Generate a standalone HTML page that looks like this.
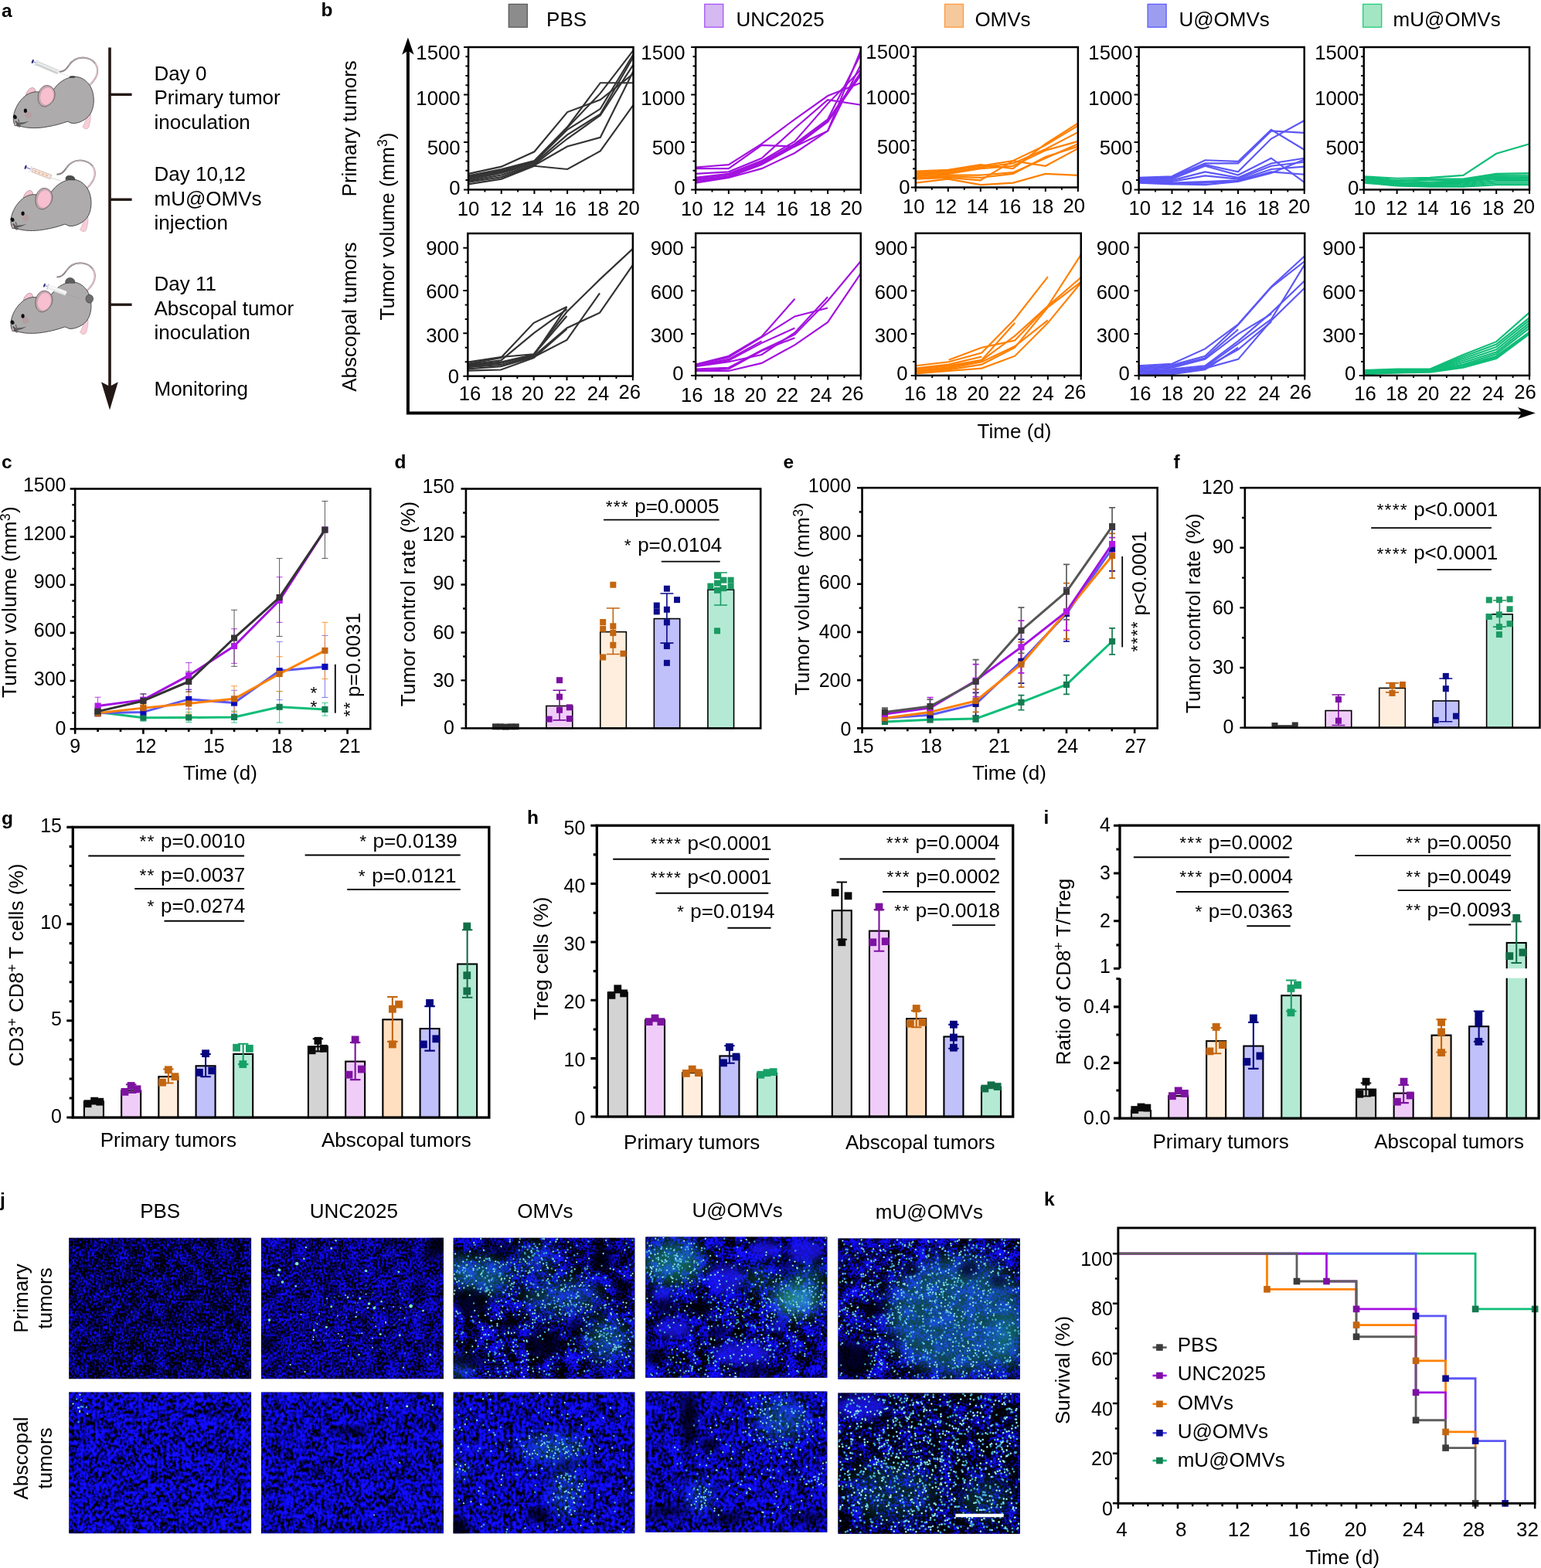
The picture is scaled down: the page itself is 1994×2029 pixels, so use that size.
<!DOCTYPE html>
<html lang="en"><head><meta charset="utf-8"><title>Figure</title>
<style>html,body{margin:0;padding:0;background:#fff}body{width:1994px;height:2029px;overflow:hidden}svg{display:block}text{font-family:"Liberation Sans",sans-serif}</style>
</head><body>
<svg width="1994" height="2029" viewBox="0 0 1994 2029">
<rect width="1994" height="2029" fill="#fff"/>
<defs>
<filter id="blr" x="-40%" y="-40%" width="180%" height="180%"><feGaussianBlur stdDeviation="5"/></filter>
<filter id="blr2" x="-50%" y="-50%" width="200%" height="200%"><feGaussianBlur stdDeviation="11"/></filter>
<filter id="blr0" x="-5%" y="-5%" width="110%" height="110%"><feGaussianBlur stdDeviation="0.55"/></filter>
<filter id="fb00" x="0" y="0" width="100%" height="100%" color-interpolation-filters="sRGB"><feTurbulence type="fractalNoise" baseFrequency="0.36 0.3" numOctaves="2" seed="3" result="a"/><feColorMatrix in="a" type="matrix" values="1 0 0 0 0 0 1 0 0 0 0 0 1 0 0 0 0 0 0 1" result="a1"/><feTurbulence type="fractalNoise" baseFrequency="0.06" numOctaves="2" seed="10" result="b"/><feColorMatrix in="b" type="matrix" values="1 0 0 0 0 0 1 0 0 0 0 0 1 0 0 0 0 0 0 1" result="b1"/><feComposite in="a1" in2="b1" operator="arithmetic" k1="0" k2="1" k3="0.4" k4="-0.2" result="c"/><feColorMatrix in="c" type="matrix" values="0.17 0 0 0 -0.07 0.1 0 0 0 -0.04 2.72 0 0 0 -1.03 0 0 0 0 1"/><feGaussianBlur stdDeviation="0.55"/><feComponentTransfer><feFuncA type="linear" slope="0" intercept="1"/></feComponentTransfer></filter>
<clipPath id="cp00"><rect x="89.3" y="1601.7" width="235.8" height="182.5"/></clipPath>
<filter id="fb01" x="0" y="0" width="100%" height="100%" color-interpolation-filters="sRGB"><feTurbulence type="fractalNoise" baseFrequency="0.25 0.2" numOctaves="2" seed="11" result="a"/><feColorMatrix in="a" type="matrix" values="1 0 0 0 0 0 1 0 0 0 0 0 1 0 0 0 0 0 0 1" result="a1"/><feTurbulence type="fractalNoise" baseFrequency="0.06" numOctaves="2" seed="18" result="b"/><feColorMatrix in="b" type="matrix" values="1 0 0 0 0 0 1 0 0 0 0 0 1 0 0 0 0 0 0 1" result="b1"/><feComposite in="a1" in2="b1" operator="arithmetic" k1="0" k2="1" k3="0.38" k4="-0.19" result="c"/><feColorMatrix in="c" type="matrix" values="0.19 0 0 0 -0.06 0.11 0 0 0 -0.03 3.1 0 0 0 -0.89 0 0 0 0 1"/><feGaussianBlur stdDeviation="0.55"/><feComponentTransfer><feFuncA type="linear" slope="0" intercept="1"/></feComponentTransfer></filter>
<clipPath id="cp01"><rect x="89.3" y="1801.5" width="235.8" height="182.7"/></clipPath>
<filter id="fb10" x="0" y="0" width="100%" height="100%" color-interpolation-filters="sRGB"><feTurbulence type="fractalNoise" baseFrequency="0.36 0.3" numOctaves="2" seed="5" result="a"/><feColorMatrix in="a" type="matrix" values="1 0 0 0 0 0 1 0 0 0 0 0 1 0 0 0 0 0 0 1" result="a1"/><feTurbulence type="fractalNoise" baseFrequency="0.06" numOctaves="2" seed="12" result="b"/><feColorMatrix in="b" type="matrix" values="1 0 0 0 0 0 1 0 0 0 0 0 1 0 0 0 0 0 0 1" result="b1"/><feComposite in="a1" in2="b1" operator="arithmetic" k1="0" k2="1" k3="0.4" k4="-0.2" result="c"/><feColorMatrix in="c" type="matrix" values="0.16 0 0 0 -0.05 0.09 0 0 0 -0.03 2.62 0 0 0 -0.84 0 0 0 0 1"/><feGaussianBlur stdDeviation="0.55"/><feComponentTransfer><feFuncA type="linear" slope="0" intercept="1"/></feComponentTransfer></filter>
<clipPath id="cp10"><rect x="337.9" y="1601.7" width="236" height="182.5"/></clipPath>
<filter id="fb11" x="0" y="0" width="100%" height="100%" color-interpolation-filters="sRGB"><feTurbulence type="fractalNoise" baseFrequency="0.25 0.2" numOctaves="2" seed="13" result="a"/><feColorMatrix in="a" type="matrix" values="1 0 0 0 0 0 1 0 0 0 0 0 1 0 0 0 0 0 0 1" result="a1"/><feTurbulence type="fractalNoise" baseFrequency="0.06" numOctaves="2" seed="20" result="b"/><feColorMatrix in="b" type="matrix" values="1 0 0 0 0 0 1 0 0 0 0 0 1 0 0 0 0 0 0 1" result="b1"/><feComposite in="a1" in2="b1" operator="arithmetic" k1="0" k2="1" k3="0.38" k4="-0.19" result="c"/><feColorMatrix in="c" type="matrix" values="0.19 0 0 0 -0.06 0.11 0 0 0 -0.03 3.1 0 0 0 -0.89 0 0 0 0 1"/><feGaussianBlur stdDeviation="0.55"/><feComponentTransfer><feFuncA type="linear" slope="0" intercept="1"/></feComponentTransfer></filter>
<clipPath id="cp11"><rect x="337.9" y="1801.5" width="236" height="182.7"/></clipPath>
<filter id="fb20" x="0" y="0" width="100%" height="100%" color-interpolation-filters="sRGB"><feTurbulence type="fractalNoise" baseFrequency="0.4 0.34" numOctaves="2" seed="7" result="a"/><feColorMatrix in="a" type="matrix" values="1 0 0 0 0 0 1 0 0 0 0 0 1 0 0 0 0 0 0 1" result="a1"/><feTurbulence type="fractalNoise" baseFrequency="0.06" numOctaves="2" seed="14" result="b"/><feColorMatrix in="b" type="matrix" values="1 0 0 0 0 0 1 0 0 0 0 0 1 0 0 0 0 0 0 1" result="b1"/><feComposite in="a1" in2="b1" operator="arithmetic" k1="0" k2="1" k3="0.9" k4="-0.45" result="c"/><feColorMatrix in="c" type="matrix" values="0.19 0 0 0 -0.07 0.11 0 0 0 -0.04 3.1 0 0 0 -1.14 0 0 0 0 1"/><feGaussianBlur stdDeviation="0.55"/><feComponentTransfer><feFuncA type="linear" slope="0" intercept="1"/></feComponentTransfer></filter>
<clipPath id="cp20"><rect x="586.6" y="1601.7" width="234.8" height="182.5"/></clipPath>
<filter id="fb21" x="0" y="0" width="100%" height="100%" color-interpolation-filters="sRGB"><feTurbulence type="fractalNoise" baseFrequency="0.25 0.2" numOctaves="2" seed="17" result="a"/><feColorMatrix in="a" type="matrix" values="1 0 0 0 0 0 1 0 0 0 0 0 1 0 0 0 0 0 0 1" result="a1"/><feTurbulence type="fractalNoise" baseFrequency="0.06" numOctaves="2" seed="24" result="b"/><feColorMatrix in="b" type="matrix" values="1 0 0 0 0 0 1 0 0 0 0 0 1 0 0 0 0 0 0 1" result="b1"/><feComposite in="a1" in2="b1" operator="arithmetic" k1="0" k2="1" k3="0.38" k4="-0.19" result="c"/><feColorMatrix in="c" type="matrix" values="0.19 0 0 0 -0.06 0.11 0 0 0 -0.03 3.1 0 0 0 -0.89 0 0 0 0 1"/><feGaussianBlur stdDeviation="0.55"/><feComponentTransfer><feFuncA type="linear" slope="0" intercept="1"/></feComponentTransfer></filter>
<clipPath id="cp21"><rect x="586.6" y="1801.5" width="234.8" height="182.7"/></clipPath>
<filter id="fb30" x="0" y="0" width="100%" height="100%" color-interpolation-filters="sRGB"><feTurbulence type="fractalNoise" baseFrequency="0.35 0.3" numOctaves="2" seed="9" result="a"/><feColorMatrix in="a" type="matrix" values="1 0 0 0 0 0 1 0 0 0 0 0 1 0 0 0 0 0 0 1" result="a1"/><feTurbulence type="fractalNoise" baseFrequency="0.06" numOctaves="2" seed="16" result="b"/><feColorMatrix in="b" type="matrix" values="1 0 0 0 0 0 1 0 0 0 0 0 1 0 0 0 0 0 0 1" result="b1"/><feComposite in="a1" in2="b1" operator="arithmetic" k1="0" k2="1" k3="0.9" k4="-0.45" result="c"/><feColorMatrix in="c" type="matrix" values="0.19 0 0 0 -0.07 0.11 0 0 0 -0.04 3.1 0 0 0 -1.11 0 0 0 0 1"/><feGaussianBlur stdDeviation="0.55"/><feComponentTransfer><feFuncA type="linear" slope="0" intercept="1"/></feComponentTransfer></filter>
<clipPath id="cp30"><rect x="835.3" y="1600.5" width="235.1" height="182.3"/></clipPath>
<filter id="fb31" x="0" y="0" width="100%" height="100%" color-interpolation-filters="sRGB"><feTurbulence type="fractalNoise" baseFrequency="0.25 0.2" numOctaves="2" seed="19" result="a"/><feColorMatrix in="a" type="matrix" values="1 0 0 0 0 0 1 0 0 0 0 0 1 0 0 0 0 0 0 1" result="a1"/><feTurbulence type="fractalNoise" baseFrequency="0.06" numOctaves="2" seed="26" result="b"/><feColorMatrix in="b" type="matrix" values="1 0 0 0 0 0 1 0 0 0 0 0 1 0 0 0 0 0 0 1" result="b1"/><feComposite in="a1" in2="b1" operator="arithmetic" k1="0" k2="1" k3="0.38" k4="-0.19" result="c"/><feColorMatrix in="c" type="matrix" values="0.19 0 0 0 -0.06 0.11 0 0 0 -0.03 3.1 0 0 0 -0.92 0 0 0 0 1"/><feGaussianBlur stdDeviation="0.55"/><feComponentTransfer><feFuncA type="linear" slope="0" intercept="1"/></feComponentTransfer></filter>
<clipPath id="cp31"><rect x="835.3" y="1800.4" width="235.1" height="182.3"/></clipPath>
<filter id="fb40" x="0" y="0" width="100%" height="100%" color-interpolation-filters="sRGB"><feTurbulence type="fractalNoise" baseFrequency="0.4 0.34" numOctaves="2" seed="21" result="a"/><feColorMatrix in="a" type="matrix" values="1 0 0 0 0 0 1 0 0 0 0 0 1 0 0 0 0 0 0 1" result="a1"/><feTurbulence type="fractalNoise" baseFrequency="0.06" numOctaves="2" seed="28" result="b"/><feColorMatrix in="b" type="matrix" values="1 0 0 0 0 0 1 0 0 0 0 0 1 0 0 0 0 0 0 1" result="b1"/><feComposite in="a1" in2="b1" operator="arithmetic" k1="0" k2="1" k3="0.8" k4="-0.4" result="c"/><feColorMatrix in="c" type="matrix" values="0.18 0 0 0 -0.06 0.11 0 0 0 -0.04 2.91 0 0 0 -1.01 0 0 0 0 1"/><feGaussianBlur stdDeviation="0.55"/><feComponentTransfer><feFuncA type="linear" slope="0" intercept="1"/></feComponentTransfer></filter>
<clipPath id="cp40"><rect x="1084.4" y="1602.5" width="235.5" height="182.3"/></clipPath>
<filter id="fb41" x="0" y="0" width="100%" height="100%" color-interpolation-filters="sRGB"><feTurbulence type="fractalNoise" baseFrequency="0.35 0.3" numOctaves="2" seed="23" result="a"/><feColorMatrix in="a" type="matrix" values="1 0 0 0 0 0 1 0 0 0 0 0 1 0 0 0 0 0 0 1" result="a1"/><feTurbulence type="fractalNoise" baseFrequency="0.06" numOctaves="2" seed="30" result="b"/><feColorMatrix in="b" type="matrix" values="1 0 0 0 0 0 1 0 0 0 0 0 1 0 0 0 0 0 0 1" result="b1"/><feComposite in="a1" in2="b1" operator="arithmetic" k1="0" k2="1" k3="0.8" k4="-0.4" result="c"/><feColorMatrix in="c" type="matrix" values="0.18 0 0 0 -0.08 0.11 0 0 0 -0.05 2.91 0 0 0 -1.24 0 0 0 0 1"/><feGaussianBlur stdDeviation="0.55"/><feComponentTransfer><feFuncA type="linear" slope="0" intercept="1"/></feComponentTransfer></filter>
<clipPath id="cp41"><rect x="1084.4" y="1802.4" width="235.5" height="182.3"/></clipPath>
</defs>
<g id="panel-a">
<text x="2" y="22" font-size="24.5" text-anchor="start" font-weight="bold" fill="#000" >a</text>
<path d="M142 61.5V503" stroke="#231815" stroke-width="3.6" fill="none"/>
<path d="M142 530.6 L131 494.2 L142 500 L152.8 494.2 Z" fill="#231815"/>
<line x1="142" y1="122.3" x2="170.6" y2="122.3" stroke="#231815" stroke-width="3.4" />
<line x1="142" y1="258.2" x2="170.6" y2="258.2" stroke="#231815" stroke-width="3.4" />
<line x1="142" y1="394.2" x2="170.6" y2="394.2" stroke="#231815" stroke-width="3.4" />
<text x="199.5" y="103.5" font-size="26" text-anchor="start" fill="#000" >Day 0</text>
<text x="199.5" y="135" font-size="26" text-anchor="start" fill="#000" >Primary tumor</text>
<text x="199.5" y="166.5" font-size="26" text-anchor="start" fill="#000" >inoculation</text>
<text x="199.5" y="234" font-size="26" text-anchor="start" fill="#000" >Day 10,12</text>
<text x="199.5" y="265.8" font-size="26" text-anchor="start" fill="#000" >mU@OMVs</text>
<text x="199.5" y="297" font-size="26" text-anchor="start" fill="#000" >injection</text>
<text x="199.5" y="376" font-size="26" text-anchor="start" fill="#000" >Day 11</text>
<text x="199.5" y="407.6" font-size="26" text-anchor="start" fill="#000" >Abscopal tumor</text>
<text x="199.5" y="439" font-size="26" text-anchor="start" fill="#000" >inoculation</text>
<text x="199.5" y="511.5" font-size="26" text-anchor="start" fill="#000" >Monitoring</text>
<g transform="translate(0 50) scale(0.09454)">
<path d="M1225 640 C1290 580 1335 520 1335 440 C1335 350 1270 275 1160 262 C1060 252 990 290 940 370 C905 425 870 452 820 452" fill="none" stroke="#8d8486" stroke-width="22" stroke-linecap="round"/>
<path d="M1225 640 C1290 580 1335 520 1335 440 C1335 400 1320 360 1300 335" fill="none" stroke="#f3c9d3" stroke-width="12"/>
<path d="M1300 335 C1270 290 1220 268 1160 262 C1060 252 990 290 940 370" fill="none" stroke="#e6d3d7" stroke-width="6"/>
<path d="M1185 1040 C1175 1100 1170 1150 1130 1205 C1150 1240 1195 1245 1215 1215 C1230 1150 1245 1100 1240 1040 Z" fill="#f7cdd8" stroke="#c9a0ab" stroke-width="6"/>
<path d="M355 770 C370 710 410 670 450 672 C480 680 490 715 485 745 Z" fill="#f4c4d0" stroke="#a08087" stroke-width="7"/>
<path d="M185 1060 C200 960 260 850 350 780 C400 745 460 722 520 730 C600 722 680 705 740 690 C800 600 900 530 1020 520 C1130 520 1230 600 1265 720 C1295 820 1290 950 1230 1040 C1180 1110 1080 1160 1000 1160 C960 1160 940 1130 920 1135 C850 1160 750 1190 650 1205 C550 1225 420 1230 330 1210 C280 1200 230 1195 200 1180 C185 1150 180 1100 185 1060 Z" fill="#adabab" stroke="#454545" stroke-width="10" stroke-linejoin="round"/>
<path d="M520 800 C520 720 570 650 630 640 C700 635 750 690 752 760 C752 840 700 900 640 925 C600 940 560 920 540 890 C525 865 520 835 520 800 Z" fill="#c2a8ae" stroke="#5a4f52" stroke-width="8"/>
<path d="M550 810 C550 740 595 675 650 670 C705 670 735 720 732 780 C727 845 685 890 632 908 C588 912 552 865 550 810 Z" fill="#f8bfd0"/>
<ellipse cx="385" cy="1045" rx="45" ry="45" fill="#b79a9d" opacity="0.75"/>
<ellipse cx="348" cy="987" rx="22" ry="29" fill="#0a0a0a"/>
<ellipse cx="205" cy="1072" rx="24" ry="30" fill="#111" transform="rotate(-30 205 1072)"/>
<path d="M215 1120 L250 1150 L330 1145 L400 1130 L330 1165 L270 1180 L240 1200 L200 1190 L205 1150 Z" fill="#5b5a5a"/>
<path d="M210 1135 C225 1150 235 1165 230 1185 C220 1195 205 1195 195 1185" fill="#c9a7ae" stroke="#333" stroke-width="6"/>
<path d="M250 1105 L262 1145 M240 1190 L270 1215 M262 1185 L285 1195" stroke="#222" stroke-width="8" fill="none"/>
<ellipse cx="990" cy="524" rx="42" ry="13" fill="#3a3a3a"/>
<line x1="800" y1="462" x2="960" y2="520" stroke="#b5b5b5" stroke-width="4"/>
<g transform="rotate(23 640 395)"><rect x="490" y="362" width="320" height="64" rx="8" fill="#d0d2d2"/><rect x="490" y="374" width="320" height="22" fill="#eceeee"/><rect x="470" y="350" width="22" height="88" fill="#dcdcf0"/><rect x="435" y="387" width="40" height="14" fill="#9a9ad0"/><ellipse cx="430" cy="394" rx="12" ry="30" fill="#2b2a7a"/></g>
</g>
<g transform="translate(-3.31 182.91) scale(0.09454)">
<path d="M1225 640 C1290 580 1335 520 1335 440 C1335 350 1270 275 1160 262 C1060 252 990 290 940 370 C905 425 870 452 820 452" fill="none" stroke="#8d8486" stroke-width="22" stroke-linecap="round"/>
<path d="M1225 640 C1290 580 1335 520 1335 440 C1335 400 1320 360 1300 335" fill="none" stroke="#f3c9d3" stroke-width="12"/>
<path d="M1300 335 C1270 290 1220 268 1160 262 C1060 252 990 290 940 370" fill="none" stroke="#e6d3d7" stroke-width="6"/>
<path d="M1185 1040 C1175 1100 1170 1150 1130 1205 C1150 1240 1195 1245 1215 1215 C1230 1150 1245 1100 1240 1040 Z" fill="#f7cdd8" stroke="#c9a0ab" stroke-width="6"/>
<path d="M355 770 C370 710 410 670 450 672 C480 680 490 715 485 745 Z" fill="#f4c4d0" stroke="#a08087" stroke-width="7"/>
<path d="M185 1060 C200 960 260 850 350 780 C400 745 460 722 520 730 C600 722 680 705 740 690 C800 600 900 530 1020 520 C1130 520 1230 600 1265 720 C1295 820 1290 950 1230 1040 C1180 1110 1080 1160 1000 1160 C960 1160 940 1130 920 1135 C850 1160 750 1190 650 1205 C550 1225 420 1230 330 1210 C280 1200 230 1195 200 1180 C185 1150 180 1100 185 1060 Z" fill="#adabab" stroke="#454545" stroke-width="10" stroke-linejoin="round"/>
<path d="M520 800 C520 720 570 650 630 640 C700 635 750 690 752 760 C752 840 700 900 640 925 C600 940 560 920 540 890 C525 865 520 835 520 800 Z" fill="#c2a8ae" stroke="#5a4f52" stroke-width="8"/>
<path d="M550 810 C550 740 595 675 650 670 C705 670 735 720 732 780 C727 845 685 890 632 908 C588 912 552 865 550 810 Z" fill="#f8bfd0"/>
<ellipse cx="385" cy="1045" rx="45" ry="45" fill="#b79a9d" opacity="0.75"/>
<ellipse cx="348" cy="987" rx="22" ry="29" fill="#0a0a0a"/>
<ellipse cx="205" cy="1072" rx="24" ry="30" fill="#111" transform="rotate(-30 205 1072)"/>
<path d="M215 1120 L250 1150 L330 1145 L400 1130 L330 1165 L270 1180 L240 1200 L200 1190 L205 1150 Z" fill="#5b5a5a"/>
<path d="M210 1135 C225 1150 235 1165 230 1185 C220 1195 205 1195 195 1185" fill="#c9a7ae" stroke="#333" stroke-width="6"/>
<path d="M250 1105 L262 1145 M240 1190 L270 1215 M262 1185 L285 1195" stroke="#222" stroke-width="8" fill="none"/>
<path d="M935 525 C930 480 950 470 995 470 C1040 472 1065 495 1060 530 Z" fill="#4d4d4d" stroke="#333" stroke-width="6"/>
<line x1="735" y1="500" x2="865" y2="540" stroke="#b9a6a6" stroke-width="5"/>
<g transform="rotate(21 600 440)"><rect x="470" y="410" width="270" height="56" fill="#f6e6dc" stroke="#b9a6a6" stroke-width="7"/><rect x="500" y="428" width="30" height="22" fill="#f0b78c"/><rect x="555" y="428" width="30" height="22" fill="#f0b78c"/><rect x="610" y="428" width="30" height="22" fill="#f0b78c"/><rect x="665" y="428" width="30" height="22" fill="#f0b78c"/><path d="M440 395 l18 42 l-18 42" fill="none" stroke="#a9a9dc" stroke-width="7"/><rect x="380" y="430" width="60" height="12" fill="#6c6cb5"/><ellipse cx="368" cy="436" rx="12" ry="30" fill="#2b2a7a"/></g>
</g>
<g transform="translate(-3.31 315.75) scale(0.09454)">
<path d="M1225 640 C1290 580 1335 520 1335 440 C1335 350 1270 275 1160 262 C1060 252 990 290 940 370 C905 425 870 452 820 452" fill="none" stroke="#8d8486" stroke-width="22" stroke-linecap="round"/>
<path d="M1225 640 C1290 580 1335 520 1335 440 C1335 400 1320 360 1300 335" fill="none" stroke="#f3c9d3" stroke-width="12"/>
<path d="M1300 335 C1270 290 1220 268 1160 262 C1060 252 990 290 940 370" fill="none" stroke="#e6d3d7" stroke-width="6"/>
<path d="M1185 1040 C1175 1100 1170 1150 1130 1205 C1150 1240 1195 1245 1215 1215 C1230 1150 1245 1100 1240 1040 Z" fill="#f7cdd8" stroke="#c9a0ab" stroke-width="6"/>
<path d="M355 770 C370 710 410 670 450 672 C480 680 490 715 485 745 Z" fill="#f4c4d0" stroke="#a08087" stroke-width="7"/>
<path d="M185 1060 C200 960 260 850 350 780 C400 745 460 722 520 730 C600 722 680 705 740 690 C800 600 900 530 1020 520 C1130 520 1230 600 1265 720 C1295 820 1290 950 1230 1040 C1180 1110 1080 1160 1000 1160 C960 1160 940 1130 920 1135 C850 1160 750 1190 650 1205 C550 1225 420 1230 330 1210 C280 1200 230 1195 200 1180 C185 1150 180 1100 185 1060 Z" fill="#adabab" stroke="#454545" stroke-width="10" stroke-linejoin="round"/>
<path d="M520 800 C520 720 570 650 630 640 C700 635 750 690 752 760 C752 840 700 900 640 925 C600 940 560 920 540 890 C525 865 520 835 520 800 Z" fill="#c2a8ae" stroke="#5a4f52" stroke-width="8"/>
<path d="M550 810 C550 740 595 675 650 670 C705 670 735 720 732 780 C727 845 685 890 632 908 C588 912 552 865 550 810 Z" fill="#f8bfd0"/>
<ellipse cx="385" cy="1045" rx="45" ry="45" fill="#b79a9d" opacity="0.75"/>
<ellipse cx="348" cy="987" rx="22" ry="29" fill="#0a0a0a"/>
<ellipse cx="205" cy="1072" rx="24" ry="30" fill="#111" transform="rotate(-30 205 1072)"/>
<path d="M215 1120 L250 1150 L330 1145 L400 1130 L330 1165 L270 1180 L240 1200 L200 1190 L205 1150 Z" fill="#5b5a5a"/>
<path d="M210 1135 C225 1150 235 1165 230 1185 C220 1195 205 1195 195 1185" fill="#c9a7ae" stroke="#333" stroke-width="6"/>
<path d="M250 1105 L262 1145 M240 1190 L270 1215 M262 1185 L285 1195" stroke="#222" stroke-width="8" fill="none"/>
<path d="M930 535 C925 490 955 462 995 462 C1040 465 1065 495 1060 535 Z" fill="#5e5e5e" stroke="#3a3a3a" stroke-width="6"/>
<ellipse cx="1260" cy="750" rx="50" ry="57" fill="#6f6f6f" stroke="#333" stroke-width="7"/>
<line x1="935" y1="685" x2="1135" y2="745" stroke="#9a9a9a" stroke-width="4"/>
<g transform="rotate(20 820 628)"><rect x="690" y="600" width="260" height="62" rx="6" fill="#eceeee" opacity="0.92"/><rect x="690" y="612" width="260" height="20" fill="#fafafa"/><rect x="672" y="590" width="20" height="84" fill="#d8d8e6"/><rect x="640" y="624" width="36" height="12" fill="#9a9ad0"/><ellipse cx="632" cy="630" rx="11" ry="28" fill="#2b2a7a"/></g>
</g>
</g>
<g id="panel-b">
<text x="415.5" y="21.2" font-size="24.5" text-anchor="start" font-weight="bold" fill="#000" >b</text>
<rect x="658.3" y="5.4" width="24" height="29.8" fill="#8c8c8c" stroke="#5a5a5a" stroke-width="1.3" />
<text x="707.1" y="33.6" font-size="26" text-anchor="start" fill="#000" >PBS</text>
<rect x="911.8" y="5.4" width="24" height="29.8" fill="#d5b9f0" stroke="#a750f5" stroke-width="1.3" />
<text x="952.5" y="33.6" font-size="26" text-anchor="start" fill="#000" >UNC2025</text>
<rect x="1222.5" y="5.4" width="24" height="29.8" fill="#f5c99c" stroke="#ff9a3c" stroke-width="1.3" />
<text x="1261.4" y="33.6" font-size="26" text-anchor="start" fill="#000" >OMVs</text>
<rect x="1485.1" y="5.4" width="24" height="29.8" fill="#9d9df0" stroke="#5a5aff" stroke-width="1.3" />
<text x="1525.4" y="33.6" font-size="26" text-anchor="start" fill="#000" >U@OMVs</text>
<rect x="1763.7" y="5.4" width="24" height="29.8" fill="#a3e6c4" stroke="#22cc77" stroke-width="1.3" />
<text x="1802.6" y="33.6" font-size="26" text-anchor="start" fill="#000" >mU@OMVs</text>
<path d="M527.9 64V534.5H1969" stroke="#000" stroke-width="4" fill="none"/>
<path d="M527.9 48.4 L520.2 70.7 L527.9 65.6 L535.6 70.7 Z" fill="#000"/>
<path d="M1986.8 534.5 L1964 527 L1969.3 534.5 L1964 542 Z" fill="#000"/>
<text x="1312.5" y="567" font-size="26" text-anchor="middle" fill="#000" >Time (d)</text>
<text x="461.2" y="166.3" font-size="26" text-anchor="middle" fill="#000" transform="rotate(-90 461.2 166.3)" >Primary tumors</text>
<text x="461.2" y="410" font-size="26" text-anchor="middle" fill="#000" transform="rotate(-90 461.2 410)" >Abscopal tumors</text>
<text x="509.8" y="293" font-size="26" text-anchor="middle" fill="#000" transform="rotate(-90 509.8 293)" >Tumor volume (mm<tspan dy="-8.6" font-size="68%">3</tspan><tspan dy="8.6">)</tspan></text>
<g fill="none" stroke="#333333" stroke-width="2.15" stroke-linejoin="miter">
<polyline points="606.05,224.87 648.74,215.63 691.43,196.3 734.12,145.04 776.81,129.08 819.5,95.46"/>
<polyline points="606.05,227.39 648.74,218.99 691.43,208.07 734.12,164.37 776.81,107.23 819.5,107.23"/>
<polyline points="606.05,229.08 648.74,220.67 691.43,208.91 734.12,165.21 776.81,120.67 819.5,65.21"/>
<polyline points="606.05,230.76 648.74,222.35 691.43,209.75 734.12,167.73 776.81,140.84 819.5,70.25"/>
<polyline points="606.05,232.44 648.74,224.03 691.43,211.43 734.12,174.45 776.81,147.56 819.5,73.61"/>
<polyline points="606.05,234.12 648.74,226.55 691.43,213.11 734.12,179.5 776.81,149.24 819.5,83.7"/>
<polyline points="606.05,235.8 648.74,229.08 691.43,213.95 734.12,189.58 776.81,177.82 819.5,92.1"/>
<polyline points="606.05,238.32 648.74,231.6 691.43,214.79 734.12,218.99 776.81,195.46 819.5,135.8"/>
</g>
<rect x="606.05" y="61.01" width="213.45" height="184.37" fill="none" stroke="#000" stroke-width="2.5" />
<path d="M600.05 61.01H606.05M600.05 122.46H606.05M600.05 183.92H606.05M600.05 245.38H606.05M602.45 73.3H606.05M602.45 85.59H606.05M602.45 97.88H606.05M602.45 110.17H606.05M602.45 134.76H606.05M602.45 147.05H606.05M602.45 159.34H606.05M602.45 171.63H606.05M602.45 196.21H606.05M602.45 208.5H606.05M602.45 220.8H606.05M602.45 233.09H606.05M606.05 245.38V250.88M627.39 245.38V248.58M648.74 245.38V250.88M670.08 245.38V248.58M691.43 245.38V250.88M712.77 245.38V248.58M734.12 245.38V250.88M755.46 245.38V248.58M776.81 245.38V250.88M798.15 245.38V248.58M819.5 245.38V250.88" stroke="#000" stroke-width="2" fill="none"/>
<text x="595.5" y="76.93" font-size="25.7" text-anchor="end" fill="#000" >1500</text>
<text x="595.5" y="136.43" font-size="25.7" text-anchor="end" fill="#000" >1000</text>
<text x="595.5" y="199.62" font-size="25.7" text-anchor="end" fill="#000" >500</text>
<text x="595.5" y="252.39" font-size="25.7" text-anchor="end" fill="#000" >0</text>
<text x="606.05" y="279.26" font-size="25.7" text-anchor="middle" fill="#000" >10</text>
<text x="648.07" y="279.26" font-size="25.7" text-anchor="middle" fill="#000" >12</text>
<text x="688.91" y="279.26" font-size="25.7" text-anchor="middle" fill="#000" >14</text>
<text x="731.43" y="279.26" font-size="25.7" text-anchor="middle" fill="#000" >16</text>
<text x="773.78" y="279.26" font-size="25.7" text-anchor="middle" fill="#000" >18</text>
<text x="813.45" y="277.57" font-size="25.7" text-anchor="middle" fill="#000" >20</text>
<g fill="none" stroke="#a311e0" stroke-width="2.15" stroke-linejoin="miter">
<polyline points="900.17,216.47 942.86,213.11 985.55,186.22 1028.4,154.29 1071.09,124.03 1113.78,107.23"/>
<polyline points="900.17,218.15 942.86,218.15 985.55,187.9 1028.4,189.58 1071.09,169.41 1113.78,83.7"/>
<polyline points="900.17,224.87 942.86,222.35 985.55,204.71 1028.4,166.05 1071.09,129.08 1113.78,135.8"/>
<polyline points="900.17,229.92 942.86,224.87 985.55,208.07 1028.4,182.86 1071.09,134.12 1113.78,90.42"/>
<polyline points="900.17,231.6 942.86,226.55 985.55,209.75 1028.4,186.22 1071.09,154.29 1113.78,70.25"/>
<polyline points="900.17,233.28 942.86,228.24 985.55,211.43 1028.4,187.9 1071.09,155.97 1113.78,93.78"/>
<polyline points="900.17,234.96 942.86,229.08 985.55,213.11 1028.4,189.58 1071.09,157.65 1113.78,97.14"/>
<polyline points="900.17,236.64 942.86,229.92 985.55,218.15 1028.4,197.98 1071.09,169.41 1113.78,65.21"/>
</g>
<rect x="900.17" y="61.01" width="213.61" height="184.37" fill="none" stroke="#000" stroke-width="2.5" />
<path d="M894.17 61.01H900.17M894.17 122.46H900.17M894.17 183.92H900.17M894.17 245.38H900.17M896.57 73.3H900.17M896.57 85.59H900.17M896.57 97.88H900.17M896.57 110.17H900.17M896.57 134.76H900.17M896.57 147.05H900.17M896.57 159.34H900.17M896.57 171.63H900.17M896.57 196.21H900.17M896.57 208.5H900.17M896.57 220.8H900.17M896.57 233.09H900.17M900.17 245.38V250.88M921.51 245.38V248.58M942.86 245.38V250.88M964.2 245.38V248.58M985.55 245.38V250.88M1006.97 245.38V248.58M1028.4 245.38V250.88M1049.75 245.38V248.58M1071.09 245.38V250.88M1092.44 245.38V248.58M1113.78 245.38V250.88" stroke="#000" stroke-width="2" fill="none"/>
<text x="886.5" y="76.93" font-size="25.7" text-anchor="end" fill="#000" >1500</text>
<text x="886.5" y="136.43" font-size="25.7" text-anchor="end" fill="#000" >1000</text>
<text x="886.5" y="199.62" font-size="25.7" text-anchor="end" fill="#000" >500</text>
<text x="886.5" y="252.39" font-size="25.7" text-anchor="end" fill="#000" >0</text>
<text x="895.21" y="279.26" font-size="25.7" text-anchor="middle" fill="#000" >10</text>
<text x="936.13" y="279.26" font-size="25.7" text-anchor="middle" fill="#000" >12</text>
<text x="976.47" y="279.26" font-size="25.7" text-anchor="middle" fill="#000" >14</text>
<text x="1018.66" y="279.26" font-size="25.7" text-anchor="middle" fill="#000" >16</text>
<text x="1061.18" y="279.26" font-size="25.7" text-anchor="middle" fill="#000" >18</text>
<text x="1101.51" y="277.57" font-size="25.7" text-anchor="middle" fill="#000" >20</text>
<g fill="none" stroke="#ff8000" stroke-width="2.15" stroke-linejoin="miter">
<polyline points="1184.79,221.51 1226.81,219.83 1268.82,213.11 1310.84,218.15 1352.86,186.22 1394.87,159.33"/>
<polyline points="1184.79,223.19 1226.81,221.51 1268.82,214.79 1310.84,208.07 1352.86,187.9 1394.87,162.69"/>
<polyline points="1184.79,224.87 1226.81,223.19 1268.82,216.47 1310.84,211.43 1352.86,192.94 1394.87,171.09"/>
<polyline points="1184.79,226.55 1226.81,224.87 1268.82,218.15 1310.84,214.79 1352.86,194.62 1394.87,182.86"/>
<polyline points="1184.79,228.24 1226.81,226.55 1268.82,226.55 1310.84,223.19 1352.86,204.71 1394.87,186.22"/>
<polyline points="1184.79,229.92 1226.81,228.24 1268.82,229.92 1310.84,224.87 1352.86,203.03 1394.87,189.58"/>
<polyline points="1184.79,231.6 1226.81,229.92 1268.82,233.28 1310.84,208.07 1352.86,214.79 1394.87,192.1"/>
<polyline points="1184.79,236.64 1226.81,231.6 1268.82,239.16 1310.84,236.64 1352.86,224.87 1394.87,226.89"/>
</g>
<rect x="1184.79" y="61.01" width="210.08" height="181.51" fill="none" stroke="#000" stroke-width="2.5" />
<path d="M1178.79 61.01H1184.79M1178.79 121.51H1184.79M1178.79 182.02H1184.79M1178.79 242.52H1184.79M1181.19 73.11H1184.79M1181.19 85.21H1184.79M1181.19 97.31H1184.79M1181.19 109.41H1184.79M1181.19 133.61H1184.79M1181.19 145.71H1184.79M1181.19 157.82H1184.79M1181.19 169.92H1184.79M1181.19 194.12H1184.79M1181.19 206.22H1184.79M1181.19 218.32H1184.79M1181.19 230.42H1184.79M1184.79 242.52V248.02M1205.8 242.52V245.72M1226.81 242.52V248.02M1247.82 242.52V245.72M1268.82 242.52V248.02M1289.83 242.52V245.72M1310.84 242.52V248.02M1331.85 242.52V245.72M1352.86 242.52V248.02M1373.87 242.52V245.72M1394.87 242.52V248.02" stroke="#000" stroke-width="2" fill="none"/>
<text x="1177.5" y="76.09" font-size="25.7" text-anchor="end" fill="#000" >1500</text>
<text x="1177.5" y="135.42" font-size="25.7" text-anchor="end" fill="#000" >1000</text>
<text x="1177.5" y="198.95" font-size="25.7" text-anchor="end" fill="#000" >500</text>
<text x="1177.5" y="251.38" font-size="25.7" text-anchor="end" fill="#000" >0</text>
<text x="1182.27" y="275.89" font-size="25.7" text-anchor="middle" fill="#000" >10</text>
<text x="1223.78" y="275.89" font-size="25.7" text-anchor="middle" fill="#000" >12</text>
<text x="1264.96" y="275.89" font-size="25.7" text-anchor="middle" fill="#000" >14</text>
<text x="1306.97" y="275.89" font-size="25.7" text-anchor="middle" fill="#000" >16</text>
<text x="1348.99" y="275.89" font-size="25.7" text-anchor="middle" fill="#000" >18</text>
<text x="1389.83" y="274.55" font-size="25.7" text-anchor="middle" fill="#000" >20</text>
<g fill="none" stroke="#5c57f5" stroke-width="2.15" stroke-linejoin="miter">
<polyline points="1473.61,229.92 1516.47,228.24 1559.33,207.23 1602.02,208.91 1644.87,167.73 1687.73,193.78"/>
<polyline points="1473.61,230.76 1516.47,229.08 1559.33,211.43 1602.02,211.43 1644.87,169.41 1687.73,171.93"/>
<polyline points="1473.61,231.6 1516.47,229.92 1559.33,213.11 1602.02,222.35 1644.87,179.5 1687.73,155.97"/>
<polyline points="1473.61,232.44 1516.47,231.6 1559.33,214.79 1602.02,226.55 1644.87,204.71 1687.73,235.8"/>
<polyline points="1473.61,233.28 1516.47,233.28 1559.33,222.35 1602.02,229.92 1644.87,211.43 1687.73,204.71"/>
<polyline points="1473.61,234.12 1516.47,234.96 1559.33,227.39 1602.02,231.6 1644.87,214.79 1687.73,209.75"/>
<polyline points="1473.61,234.96 1516.47,236.64 1559.33,234.96 1602.02,233.28 1644.87,218.99 1687.73,215.63"/>
<polyline points="1473.61,235.8 1516.47,237.48 1559.33,236.64 1602.02,234.12 1644.87,222.35 1687.73,225.71"/>
<polyline points="1473.61,236.64 1516.47,238.32 1559.33,239.16 1602.02,234.96 1644.87,224.03 1687.73,206.39"/>
</g>
<rect x="1473.61" y="61.01" width="214.12" height="184.37" fill="none" stroke="#000" stroke-width="2.5" />
<path d="M1467.61 61.01H1473.61M1467.61 122.46H1473.61M1467.61 183.92H1473.61M1467.61 245.38H1473.61M1470.01 73.3H1473.61M1470.01 85.59H1473.61M1470.01 97.88H1473.61M1470.01 110.17H1473.61M1470.01 134.76H1473.61M1470.01 147.05H1473.61M1470.01 159.34H1473.61M1470.01 171.63H1473.61M1470.01 196.21H1473.61M1470.01 208.5H1473.61M1470.01 220.8H1473.61M1470.01 233.09H1473.61M1473.61 245.38V250.88M1495.04 245.38V248.58M1516.47 245.38V250.88M1537.9 245.38V248.58M1559.33 245.38V250.88M1580.67 245.38V248.58M1602.02 245.38V250.88M1623.45 245.38V248.58M1644.87 245.38V250.88M1666.3 245.38V248.58M1687.73 245.38V250.88" stroke="#000" stroke-width="2" fill="none"/>
<text x="1465.5" y="76.93" font-size="25.7" text-anchor="end" fill="#000" >1500</text>
<text x="1465.5" y="136.43" font-size="25.7" text-anchor="end" fill="#000" >1000</text>
<text x="1465.5" y="199.62" font-size="25.7" text-anchor="end" fill="#000" >500</text>
<text x="1465.5" y="252.39" font-size="25.7" text-anchor="end" fill="#000" >0</text>
<text x="1474.79" y="277.57" font-size="25.7" text-anchor="middle" fill="#000" >10</text>
<text x="1515.97" y="277.57" font-size="25.7" text-anchor="middle" fill="#000" >12</text>
<text x="1556.64" y="277.57" font-size="25.7" text-anchor="middle" fill="#000" >14</text>
<text x="1598.66" y="277.57" font-size="25.7" text-anchor="middle" fill="#000" >16</text>
<text x="1641.18" y="277.57" font-size="25.7" text-anchor="middle" fill="#000" >18</text>
<text x="1681.01" y="275.89" font-size="25.7" text-anchor="middle" fill="#000" >20</text>
<g fill="none" stroke="#0fbd78" stroke-width="2.15" stroke-linejoin="miter">
<polyline points="1764.76,228.24 1807.61,230.76 1850.47,229.92 1893.33,226.89 1936.18,198.82 1979.04,186.22"/>
<polyline points="1764.76,229.08 1807.61,233.28 1850.47,231.6 1893.33,231.6 1936.18,224.87 1979.04,224.03"/>
<polyline points="1764.76,229.92 1807.61,234.96 1850.47,233.28 1893.33,233.28 1936.18,226.55 1979.04,226.55"/>
<polyline points="1764.76,230.76 1807.61,236.64 1850.47,235.8 1893.33,234.12 1936.18,228.24 1979.04,229.08"/>
<polyline points="1764.76,231.6 1807.61,237.48 1850.47,237.48 1893.33,234.96 1936.18,229.92 1979.04,230.76"/>
<polyline points="1764.76,233.28 1807.61,238.32 1850.47,238.32 1893.33,236.64 1936.18,231.6 1979.04,232.44"/>
<polyline points="1764.76,234.96 1807.61,239.16 1850.47,239.16 1893.33,238.32 1936.18,234.12 1979.04,234.12"/>
<polyline points="1764.76,235.8 1807.61,240 1850.47,240.84 1893.33,240 1936.18,236.64 1979.04,236.64"/>
<polyline points="1764.76,236.64 1807.61,240.34 1850.47,241.68 1893.33,241.68 1936.18,239.16 1979.04,239.16"/>
</g>
<rect x="1764.76" y="61.01" width="214.29" height="184.37" fill="none" stroke="#000" stroke-width="2.5" />
<path d="M1758.76 61.01H1764.76M1758.76 122.46H1764.76M1758.76 183.92H1764.76M1758.76 245.38H1764.76M1761.16 73.3H1764.76M1761.16 85.59H1764.76M1761.16 97.88H1764.76M1761.16 110.17H1764.76M1761.16 134.76H1764.76M1761.16 147.05H1764.76M1761.16 159.34H1764.76M1761.16 171.63H1764.76M1761.16 196.21H1764.76M1761.16 208.5H1764.76M1761.16 220.8H1764.76M1761.16 233.09H1764.76M1764.76 245.38V250.88M1786.18 245.38V248.58M1807.61 245.38V250.88M1829.04 245.38V248.58M1850.47 245.38V250.88M1871.9 245.38V248.58M1893.33 245.38V250.88M1914.76 245.38V248.58M1936.18 245.38V250.88M1957.61 245.38V248.58M1979.04 245.38V250.88" stroke="#000" stroke-width="2" fill="none"/>
<text x="1758.4" y="76.93" font-size="25.7" text-anchor="end" fill="#000" >1500</text>
<text x="1758.4" y="136.43" font-size="25.7" text-anchor="end" fill="#000" >1000</text>
<text x="1758.4" y="199.62" font-size="25.7" text-anchor="end" fill="#000" >500</text>
<text x="1758.4" y="252.39" font-size="25.7" text-anchor="end" fill="#000" >0</text>
<text x="1765.76" y="277.57" font-size="25.7" text-anchor="middle" fill="#000" >10</text>
<text x="1806.94" y="277.57" font-size="25.7" text-anchor="middle" fill="#000" >12</text>
<text x="1847.45" y="277.57" font-size="25.7" text-anchor="middle" fill="#000" >14</text>
<text x="1889.46" y="277.57" font-size="25.7" text-anchor="middle" fill="#000" >16</text>
<text x="1931.98" y="277.57" font-size="25.7" text-anchor="middle" fill="#000" >18</text>
<text x="1971.82" y="275.89" font-size="25.7" text-anchor="middle" fill="#000" >20</text>
<g fill="none" stroke="#333333" stroke-width="2.15" stroke-linejoin="miter">
<polyline points="605.31,468.62 648.11,462 690.68,458.25 733.48,403.54 776.06,361.62 818.85,321.91"/>
<polyline points="605.31,470.82 648.11,463.1 690.68,417.88 733.48,396.92"/>
<polyline points="605.31,471.93 648.11,466.41 690.68,431.11 733.48,400.23"/>
<polyline points="605.31,473.03 648.11,468.62 690.68,458.69 733.48,409.05"/>
<polyline points="605.31,474.13 648.11,469.72 690.68,459.79 733.48,396.92"/>
<polyline points="605.31,475.23 648.11,471.93 690.68,460.9 733.48,424.5 776.06,404.64 818.85,342.87"/>
<polyline points="605.31,477.44 648.11,474.13 690.68,462 733.48,439.94 776.06,379.27"/>
<polyline points="605.31,479.65 648.11,478.54 690.68,463.1 733.48,425.6"/>
</g>
<rect x="605.31" y="302.06" width="213.55" height="184.65" fill="none" stroke="#000" stroke-width="2.5" />
<path d="M599.31 320.81H605.31M599.31 375.96H605.31M599.31 431.33H605.31M599.31 486.71H605.31M601.71 339.2H605.31M601.71 357.58H605.31M601.71 394.42H605.31M601.71 412.88H605.31M601.71 449.79H605.31M601.71 468.25H605.31M605.31 486.71V492.21M626.71 486.71V489.91M648.11 486.71V492.21M669.39 486.71V489.91M690.68 486.71V492.21M712.08 486.71V489.91M733.48 486.71V492.21M754.77 486.71V489.91M776.06 486.71V492.21M797.45 486.71V489.91M818.85 486.71V492.21" stroke="#000" stroke-width="2" fill="none"/>
<text x="594" y="330.27" font-size="25.7" text-anchor="end" fill="#000" >900</text>
<text x="594" y="386.31" font-size="25.7" text-anchor="end" fill="#000" >600</text>
<text x="594" y="442.78" font-size="25.7" text-anchor="end" fill="#000" >300</text>
<text x="594" y="495.73" font-size="25.7" text-anchor="end" fill="#000" >0</text>
<text x="607.95" y="517.75" font-size="25.7" text-anchor="middle" fill="#000" >16</text>
<text x="649.21" y="517.75" font-size="25.7" text-anchor="middle" fill="#000" >18</text>
<text x="689.14" y="517.75" font-size="25.7" text-anchor="middle" fill="#000" >20</text>
<text x="731.05" y="517.75" font-size="25.7" text-anchor="middle" fill="#000" >22</text>
<text x="774.07" y="517.75" font-size="25.7" text-anchor="middle" fill="#000" >24</text>
<text x="814.88" y="516.21" font-size="25.7" text-anchor="middle" fill="#000" >26</text>
<g fill="none" stroke="#a311e0" stroke-width="2.15" stroke-linejoin="miter">
<polyline points="900.17,471.6 942.86,460.67 985.55,435.46 1028.4,386.72"/>
<polyline points="900.17,472.44 942.86,462.35 985.55,436.3 1028.4,409.41 1071.09,398.49"/>
<polyline points="900.17,473.28 942.86,464.87 985.55,441.34"/>
<polyline points="900.17,473.28 942.86,466.55 985.55,443.87 1028.4,424.54"/>
<polyline points="900.17,474.12 942.86,468.24 985.55,458.99 1028.4,430.42 1071.09,384.2"/>
<polyline points="900.17,477.48 942.86,475.8 985.55,453.11 1028.4,432.94 1071.09,389.24 1113.78,337.98"/>
<polyline points="900.17,479.16 942.86,477.48 985.55,453.95 1028.4,437.14"/>
<polyline points="900.17,480 942.86,480 985.55,469.92 1028.4,446.39 1071.09,416.97 1113.78,353.95"/>
</g>
<rect x="900.17" y="301.85" width="213.61" height="184.03" fill="none" stroke="#000" stroke-width="2.5" />
<path d="M894.17 320.34H900.17M894.17 376.13H900.17M894.17 432.1H900.17M894.17 485.88H900.17M896.57 338.94H900.17M896.57 357.54H900.17M896.57 394.79H900.17M896.57 413.45H900.17M896.57 450.03H900.17M896.57 467.96H900.17M900.17 485.88V491.38M921.51 485.88V489.08M942.86 485.88V491.38M964.2 485.88V489.08M985.55 485.88V491.38M1006.97 485.88V489.08M1028.4 485.88V491.38M1049.75 485.88V489.08M1071.09 485.88V491.38M1092.44 485.88V489.08M1113.78 485.88V491.38" stroke="#000" stroke-width="2" fill="none"/>
<text x="884.5" y="330.04" font-size="25.7" text-anchor="end" fill="#000" >900</text>
<text x="884.5" y="386.51" font-size="25.7" text-anchor="end" fill="#000" >600</text>
<text x="884.5" y="443.48" font-size="25.7" text-anchor="end" fill="#000" >300</text>
<text x="884.5" y="492.39" font-size="25.7" text-anchor="end" fill="#000" >0</text>
<text x="895.29" y="520.1" font-size="25.7" text-anchor="middle" fill="#000" >16</text>
<text x="936.81" y="520.1" font-size="25.7" text-anchor="middle" fill="#000" >18</text>
<text x="977.48" y="520.1" font-size="25.7" text-anchor="middle" fill="#000" >20</text>
<text x="1018.66" y="520.1" font-size="25.7" text-anchor="middle" fill="#000" >22</text>
<text x="1062.35" y="520.1" font-size="25.7" text-anchor="middle" fill="#000" >24</text>
<text x="1103.19" y="517.91" font-size="25.7" text-anchor="middle" fill="#000" >26</text>
<g fill="none" stroke="#ff8000" stroke-width="2.15" stroke-linejoin="miter">
<polyline points="1227.65,465.71 1270.34,449.75 1313.19,440.5 1355.88,395.97 1398.74,358.99"/>
<polyline points="1184.79,473.28 1227.65,468.24 1270.34,456.47 1313.19,412.77 1355.88,358.15"/>
<polyline points="1184.79,476.64 1227.65,471.6 1270.34,461.51"/>
<polyline points="1184.79,478.32 1227.65,473.28 1270.34,465.71 1313.19,417.82"/>
<polyline points="1184.79,480 1227.65,474.96 1270.34,466.55 1313.19,434.62 1355.88,395.97 1398.74,329.58"/>
<polyline points="1184.79,480.84 1227.65,476.64 1270.34,468.24 1313.19,448.07 1355.88,414.45"/>
<polyline points="1184.79,481.68 1227.65,478.32 1270.34,471.6 1313.19,449.75 1355.88,397.65 1398.74,364.87"/>
<polyline points="1184.79,483.36 1227.65,480 1270.34,476.64 1313.19,460.67 1355.88,417.82 1398.74,365.71"/>
</g>
<rect x="1184.79" y="301.85" width="213.95" height="184.03" fill="none" stroke="#000" stroke-width="2.5" />
<path d="M1178.79 320.34H1184.79M1178.79 376.13H1184.79M1178.79 432.1H1184.79M1178.79 485.88H1184.79M1181.19 338.94H1184.79M1181.19 357.54H1184.79M1181.19 394.79H1184.79M1181.19 413.45H1184.79M1181.19 450.03H1184.79M1181.19 467.96H1184.79M1184.79 485.88V491.38M1206.22 485.88V489.08M1227.65 485.88V491.38M1248.99 485.88V489.08M1270.34 485.88V491.38M1291.76 485.88V489.08M1313.19 485.88V491.38M1334.54 485.88V489.08M1355.88 485.88V491.38M1377.31 485.88V489.08M1398.74 485.88V491.38" stroke="#000" stroke-width="2" fill="none"/>
<text x="1174.5" y="330.04" font-size="25.7" text-anchor="end" fill="#000" >900</text>
<text x="1174.5" y="386.51" font-size="25.7" text-anchor="end" fill="#000" >600</text>
<text x="1174.5" y="443.48" font-size="25.7" text-anchor="end" fill="#000" >300</text>
<text x="1174.5" y="492.39" font-size="25.7" text-anchor="end" fill="#000" >0</text>
<text x="1184.29" y="517.57" font-size="25.7" text-anchor="middle" fill="#000" >16</text>
<text x="1224.62" y="517.57" font-size="25.7" text-anchor="middle" fill="#000" >18</text>
<text x="1265.46" y="517.57" font-size="25.7" text-anchor="middle" fill="#000" >20</text>
<text x="1306.64" y="517.57" font-size="25.7" text-anchor="middle" fill="#000" >22</text>
<text x="1349.5" y="517.57" font-size="25.7" text-anchor="middle" fill="#000" >24</text>
<text x="1391.01" y="515.89" font-size="25.7" text-anchor="middle" fill="#000" >26</text>
<g fill="none" stroke="#5c57f5" stroke-width="2.15" stroke-linejoin="miter">
<polyline points="1473.61,473.28 1516.47,470.76 1559.33,451.43 1602.18,419.5 1645.21,370.76 1688.24,331.26"/>
<polyline points="1473.61,474.96 1516.47,472.44 1559.33,460.67 1602.18,420.34 1645.21,371.6 1688.24,337.98"/>
<polyline points="1473.61,476.64 1516.47,474.12 1559.33,463.19 1602.18,426.22"/>
<polyline points="1473.61,478.32 1516.47,475.8 1559.33,464.87 1602.18,432.1 1645.21,406.05"/>
<polyline points="1473.61,480 1516.47,477.48 1559.33,473.28 1602.18,441.34 1645.21,404.37 1688.24,363.19"/>
<polyline points="1473.61,480.84 1516.47,479.16 1559.33,474.96 1602.18,444.71 1645.21,412.77 1688.24,342.18"/>
<polyline points="1473.61,481.68 1516.47,480.84 1559.33,475.8 1602.18,452.27 1645.21,416.13"/>
<polyline points="1473.61,483.36 1516.47,482.52 1559.33,476.64 1602.18,464.87 1645.21,414.45 1688.24,372.44"/>
<polyline points="1473.61,484.2 1516.47,484.2 1559.33,478.32 1602.18,449.75"/>
</g>
<rect x="1473.61" y="301.85" width="214.62" height="184.03" fill="none" stroke="#000" stroke-width="2.5" />
<path d="M1467.61 320.34H1473.61M1467.61 376.13H1473.61M1467.61 432.1H1473.61M1467.61 485.88H1473.61M1470.01 338.94H1473.61M1470.01 357.54H1473.61M1470.01 394.79H1473.61M1470.01 413.45H1473.61M1470.01 450.03H1473.61M1470.01 467.96H1473.61M1473.61 485.88V491.38M1495.04 485.88V489.08M1516.47 485.88V491.38M1537.9 485.88V489.08M1559.33 485.88V491.38M1580.76 485.88V489.08M1602.18 485.88V491.38M1623.7 485.88V489.08M1645.21 485.88V491.38M1666.72 485.88V489.08M1688.24 485.88V491.38" stroke="#000" stroke-width="2" fill="none"/>
<text x="1461.7" y="330.04" font-size="25.7" text-anchor="end" fill="#000" >900</text>
<text x="1461.7" y="386.51" font-size="25.7" text-anchor="end" fill="#000" >600</text>
<text x="1461.7" y="443.48" font-size="25.7" text-anchor="end" fill="#000" >300</text>
<text x="1461.7" y="492.39" font-size="25.7" text-anchor="end" fill="#000" >0</text>
<text x="1475.29" y="518.42" font-size="25.7" text-anchor="middle" fill="#000" >16</text>
<text x="1516.81" y="518.42" font-size="25.7" text-anchor="middle" fill="#000" >18</text>
<text x="1557.48" y="518.42" font-size="25.7" text-anchor="middle" fill="#000" >20</text>
<text x="1598.66" y="518.42" font-size="25.7" text-anchor="middle" fill="#000" >22</text>
<text x="1642.35" y="518.42" font-size="25.7" text-anchor="middle" fill="#000" >24</text>
<text x="1682.69" y="516.23" font-size="25.7" text-anchor="middle" fill="#000" >26</text>
<g fill="none" stroke="#0fbd78" stroke-width="2.15" stroke-linejoin="miter">
<polyline points="1764.76,479.16 1807.61,477.48 1850.47,477.48 1893.33,458.99 1936.18,442.18 1979.04,404.37"/>
<polyline points="1764.76,480 1807.61,478.32 1850.47,478.32 1893.33,461.51 1936.18,445.55 1979.04,411.09"/>
<polyline points="1764.76,480.84 1807.61,479.16 1850.47,478.66 1893.33,464.03 1936.18,448.91 1979.04,414.45"/>
<polyline points="1764.76,481.34 1807.61,480 1850.47,479.16 1893.33,466.55 1936.18,452.27 1979.04,417.82"/>
<polyline points="1764.76,481.68 1807.61,480.84 1850.47,479.66 1893.33,469.08 1936.18,455.63 1979.04,421.18"/>
<polyline points="1764.76,482.52 1807.61,481.34 1850.47,480 1893.33,471.6 1936.18,458.15 1979.04,424.54"/>
<polyline points="1764.76,483.36 1807.61,481.68 1850.47,480.5 1893.33,473.28 1936.18,460.67 1979.04,429.58"/>
<polyline points="1764.76,483.7 1807.61,482.18 1850.47,481.01 1893.33,474.96 1936.18,462.35 1979.04,431.26"/>
<polyline points="1764.76,484.2 1807.61,482.52 1850.47,481.68 1893.33,475.8 1936.18,464.03 1979.04,432.1"/>
</g>
<rect x="1764.76" y="301.85" width="214.29" height="184.03" fill="none" stroke="#000" stroke-width="2.5" />
<path d="M1758.76 320.34H1764.76M1758.76 376.13H1764.76M1758.76 432.1H1764.76M1758.76 485.88H1764.76M1761.16 338.94H1764.76M1761.16 357.54H1764.76M1761.16 394.79H1764.76M1761.16 413.45H1764.76M1761.16 450.03H1764.76M1761.16 467.96H1764.76M1764.76 485.88V491.38M1786.18 485.88V489.08M1807.61 485.88V491.38M1829.04 485.88V489.08M1850.47 485.88V491.38M1871.9 485.88V489.08M1893.33 485.88V491.38M1914.76 485.88V489.08M1936.18 485.88V491.38M1957.61 485.88V489.08M1979.04 485.88V491.38" stroke="#000" stroke-width="2" fill="none"/>
<text x="1754.2" y="330.04" font-size="25.7" text-anchor="end" fill="#000" >900</text>
<text x="1754.2" y="386.51" font-size="25.7" text-anchor="end" fill="#000" >600</text>
<text x="1754.2" y="443.48" font-size="25.7" text-anchor="end" fill="#000" >300</text>
<text x="1754.2" y="492.39" font-size="25.7" text-anchor="end" fill="#000" >0</text>
<text x="1766.61" y="518.42" font-size="25.7" text-anchor="middle" fill="#000" >16</text>
<text x="1807.61" y="518.42" font-size="25.7" text-anchor="middle" fill="#000" >18</text>
<text x="1847.95" y="518.42" font-size="25.7" text-anchor="middle" fill="#000" >20</text>
<text x="1889.46" y="518.42" font-size="25.7" text-anchor="middle" fill="#000" >22</text>
<text x="1931.98" y="518.42" font-size="25.7" text-anchor="middle" fill="#000" >24</text>
<text x="1973.5" y="515.89" font-size="25.7" text-anchor="middle" fill="#000" >26</text>
</g>
<g id="panel-c">
<text x="2" y="605.8" font-size="24.5" text-anchor="start" font-weight="bold" fill="#000" >c</text>
<g opacity="0.8">
<path d="M122.58 917.45H130.58M122.58 925.33H130.58M126.58 917.45V925.33" stroke="#0fbd78" stroke-width="1" fill="none"/>
</g>
<g opacity="0.8">
<path d="M181.4 924.01H189.4M181.4 933.2H189.4M185.4 924.01V933.2" stroke="#0fbd78" stroke-width="1" fill="none"/>
</g>
<g opacity="0.8">
<path d="M240.22 921.39H248.22M240.22 934.52H248.22M244.22 921.39V934.52" stroke="#0fbd78" stroke-width="1" fill="none"/>
</g>
<g opacity="0.8">
<path d="M299.05 920.07H307.05M299.05 935.04H307.05M303.05 920.07V935.04" stroke="#0fbd78" stroke-width="1" fill="none"/>
</g>
<g opacity="0.8">
<path d="M357.61 894.6H365.61M357.61 935.04H365.61M361.61 894.6V935.04" stroke="#0fbd78" stroke-width="1" fill="none"/>
</g>
<g opacity="0.8">
<path d="M416.43 909.57H424.43M416.43 926.11H424.43M420.43 909.57V926.11" stroke="#0fbd78" stroke-width="1" fill="none"/>
</g>
<g opacity="0.8">
<path d="M122.58 918.76H130.58M122.58 927.16H130.58M126.58 918.76V927.16" stroke="#5c57f5" stroke-width="1" fill="none"/>
</g>
<g opacity="0.8">
<path d="M181.4 916.66H189.4M181.4 926.11H189.4M185.4 916.66V926.11" stroke="#5c57f5" stroke-width="1" fill="none"/>
</g>
<g opacity="0.8">
<path d="M240.22 891.97H248.22M240.22 917.45H248.22M244.22 891.97V917.45" stroke="#5c57f5" stroke-width="1" fill="none"/>
</g>
<g opacity="0.8">
<path d="M299.05 893.29H307.05M299.05 924.01H307.05M303.05 893.29V924.01" stroke="#5c57f5" stroke-width="1" fill="none"/>
</g>
<g opacity="0.8">
<path d="M357.61 830.26H365.61M357.61 905.63H365.61M361.61 830.26V905.63" stroke="#5c57f5" stroke-width="1" fill="none"/>
</g>
<g opacity="0.8">
<path d="M416.43 822.38H424.43M416.43 902.48H424.43M420.43 822.38V902.48" stroke="#5c57f5" stroke-width="1" fill="none"/>
</g>
<g opacity="0.8">
<path d="M122.58 918.76H130.58M122.58 927.16H130.58M126.58 918.76V927.16" stroke="#ff8000" stroke-width="1" fill="none"/>
</g>
<g opacity="0.8">
<path d="M181.4 911.41H189.4M181.4 921.39H189.4M185.4 911.41V921.39" stroke="#ff8000" stroke-width="1" fill="none"/>
</g>
<g opacity="0.8">
<path d="M240.22 895.13H248.22M240.22 924.01H248.22M244.22 895.13V924.01" stroke="#ff8000" stroke-width="1" fill="none"/>
</g>
<g opacity="0.8">
<path d="M299.05 887.77H307.05M299.05 921.39H307.05M303.05 887.77V921.39" stroke="#ff8000" stroke-width="1" fill="none"/>
</g>
<g opacity="0.8">
<path d="M357.61 849.7H365.61M357.61 894.6H365.61M361.61 849.7V894.6" stroke="#ff8000" stroke-width="1" fill="none"/>
</g>
<g opacity="0.8">
<path d="M416.43 805.32H424.43M416.43 878.58H424.43M420.43 805.32V878.58" stroke="#ff8000" stroke-width="1" fill="none"/>
</g>
<g opacity="0.8">
<path d="M122.58 902.22H130.58M122.58 924.01H130.58M126.58 902.22V924.01" stroke="#a311e0" stroke-width="1" fill="none"/>
</g>
<g opacity="0.8">
<path d="M181.4 898.28H189.4M181.4 913.51H189.4M185.4 898.28V913.51" stroke="#a311e0" stroke-width="1" fill="none"/>
</g>
<g opacity="0.8">
<path d="M240.22 857.57H248.22M240.22 892.5H248.22M244.22 857.57V892.5" stroke="#a311e0" stroke-width="1" fill="none"/>
</g>
<g opacity="0.8">
<path d="M299.05 813.72H307.05M299.05 858.36H307.05M303.05 813.72V858.36" stroke="#a311e0" stroke-width="1" fill="none"/>
</g>
<g opacity="0.8">
<path d="M357.61 746.75H365.61M357.61 805.32H365.61M361.61 746.75V805.32" stroke="#a311e0" stroke-width="1" fill="none"/>
</g>
<g opacity="0.8">
<path d="M122.58 916.13H130.58M122.58 925.33H130.58M126.58 916.13V925.33" stroke="#333333" stroke-width="1" fill="none"/>
</g>
<g opacity="0.8">
<path d="M181.4 897.75H189.4M181.4 916.13H189.4M185.4 897.75V916.13" stroke="#333333" stroke-width="1" fill="none"/>
</g>
<g opacity="0.8">
<path d="M240.22 868.87H248.22M240.22 895.13H248.22M244.22 868.87V895.13" stroke="#333333" stroke-width="1" fill="none"/>
</g>
<g opacity="0.8">
<path d="M299.05 789.3H307.05M299.05 862.3H307.05M303.05 789.3V862.3" stroke="#333333" stroke-width="1" fill="none"/>
</g>
<g opacity="0.8">
<path d="M357.61 722.59H365.61M357.61 823.43H365.61M361.61 722.59V823.43" stroke="#333333" stroke-width="1" fill="none"/>
</g>
<g opacity="0.8">
<path d="M416.43 648.54H424.43M416.43 722.59H424.43M420.43 648.54V722.59" stroke="#333333" stroke-width="1" fill="none"/>
</g>
<polyline points="126.58,921.39 185.4,928.74 244.22,928.48 303.05,927.95 361.61,914.82 420.43,917.97" fill="none" stroke="#0fbd78" stroke-width="3" stroke-linejoin="round" />
<rect x="122.53" y="917.34" width="8.1" height="8.1" fill="#167a50"/>
<rect x="181.35" y="924.69" width="8.1" height="8.1" fill="#167a50"/>
<rect x="240.17" y="924.43" width="8.1" height="8.1" fill="#167a50"/>
<rect x="299" y="923.9" width="8.1" height="8.1" fill="#167a50"/>
<rect x="357.56" y="910.77" width="8.1" height="8.1" fill="#167a50"/>
<rect x="416.38" y="913.92" width="8.1" height="8.1" fill="#167a50"/>
<polyline points="126.58,922.7 185.4,921.39 244.22,904.84 303.05,909.57 361.61,868.08 420.43,862.83" fill="none" stroke="#5c57f5" stroke-width="3" stroke-linejoin="round" />
<rect x="122.53" y="918.65" width="8.1" height="8.1" fill="#0a0ab8"/>
<rect x="181.35" y="917.34" width="8.1" height="8.1" fill="#0a0ab8"/>
<rect x="240.17" y="900.79" width="8.1" height="8.1" fill="#0a0ab8"/>
<rect x="299" y="905.52" width="8.1" height="8.1" fill="#0a0ab8"/>
<rect x="357.56" y="864.03" width="8.1" height="8.1" fill="#0a0ab8"/>
<rect x="416.38" y="858.78" width="8.1" height="8.1" fill="#0a0ab8"/>
<polyline points="126.58,922.7 185.4,916.13 244.22,910.36 303.05,904.32 361.61,872.02 420.43,841.82" fill="none" stroke="#ff8000" stroke-width="3" stroke-linejoin="round" />
<rect x="122.53" y="918.65" width="8.1" height="8.1" fill="#c4650f"/>
<rect x="181.35" y="912.08" width="8.1" height="8.1" fill="#c4650f"/>
<rect x="240.17" y="906.31" width="8.1" height="8.1" fill="#c4650f"/>
<rect x="299" y="900.27" width="8.1" height="8.1" fill="#c4650f"/>
<rect x="357.56" y="867.97" width="8.1" height="8.1" fill="#c4650f"/>
<rect x="416.38" y="837.77" width="8.1" height="8.1" fill="#c4650f"/>
<polyline points="126.58,913.51 185.4,905.63 244.22,874.12 303.05,836.04 361.61,776.95 420.43,685.57" fill="none" stroke="#a311e0" stroke-width="3" stroke-linejoin="round" />
<rect x="122.53" y="909.46" width="8.1" height="8.1" fill="#b218e8"/>
<rect x="181.35" y="901.58" width="8.1" height="8.1" fill="#b218e8"/>
<rect x="240.17" y="870.07" width="8.1" height="8.1" fill="#b218e8"/>
<rect x="299" y="831.99" width="8.1" height="8.1" fill="#b218e8"/>
<rect x="357.56" y="772.9" width="8.1" height="8.1" fill="#b218e8"/>
<rect x="416.38" y="681.52" width="8.1" height="8.1" fill="#b218e8"/>
<polyline points="126.58,920.6 185.4,906.94 244.22,882 303.05,825.54 361.61,773.01 420.43,685.57" fill="none" stroke="#333333" stroke-width="3" stroke-linejoin="round" />
<rect x="122.53" y="916.55" width="8.1" height="8.1" fill="#333333"/>
<rect x="181.35" y="902.89" width="8.1" height="8.1" fill="#333333"/>
<rect x="240.17" y="877.95" width="8.1" height="8.1" fill="#333333"/>
<rect x="299" y="821.49" width="8.1" height="8.1" fill="#333333"/>
<rect x="357.56" y="768.96" width="8.1" height="8.1" fill="#333333"/>
<rect x="416.38" y="681.52" width="8.1" height="8.1" fill="#333333"/>
<rect x="97.16" y="632.52" width="382.09" height="310.66" fill="none" stroke="#000" stroke-width="2.6" />
<path d="M97.16 943.18V949.68M185.4 943.18V949.68M273.63 943.18V949.68M361.61 943.18V949.68M449.58 943.18V949.68M126.58 943.18V946.98M155.99 943.18V946.98M214.81 943.18V946.98M244.22 943.18V946.98M303.05 943.18V946.98M332.46 943.18V946.98M391.28 943.18V946.98M420.69 943.18V946.98M90.66 943.18H97.16M90.66 881.05H97.16M90.66 818.92H97.16M90.66 756.79H97.16M90.66 694.65H97.16M90.66 632.52H97.16M93.36 922.47H97.16M93.36 901.76H97.16M93.36 860.34H97.16M93.36 839.63H97.16M93.36 798.21H97.16M93.36 777.5H97.16M93.36 736.07H97.16M93.36 715.36H97.16M93.36 673.94H97.16M93.36 653.23H97.16" stroke="#000" stroke-width="2.6" fill="none"/>
<text x="85.5" y="951.18" font-size="26" text-anchor="end" fill="#000" transform="translate(85.5 951.18) scale(0.96 1) translate(-85.5 -951.18)" >0</text>
<text x="85.5" y="887.35" font-size="26" text-anchor="end" fill="#000" transform="translate(85.5 887.35) scale(0.96 1) translate(-85.5 -887.35)" >300</text>
<text x="85.5" y="824.12" font-size="26" text-anchor="end" fill="#000" transform="translate(85.5 824.12) scale(0.96 1) translate(-85.5 -824.12)" >600</text>
<text x="85.5" y="761.09" font-size="26" text-anchor="end" fill="#000" transform="translate(85.5 761.09) scale(0.96 1) translate(-85.5 -761.09)" >900</text>
<text x="85.5" y="699.25" font-size="26" text-anchor="end" fill="#000" transform="translate(85.5 699.25) scale(0.96 1) translate(-85.5 -699.25)" >1200</text>
<text x="85.5" y="635.62" font-size="26" text-anchor="end" fill="#000" transform="translate(85.5 635.62) scale(0.96 1) translate(-85.5 -635.62)" >1500</text>
<text x="97.16" y="973.9" font-size="26" text-anchor="middle" fill="#000" transform="translate(97.16 973.9) scale(0.96 1) translate(-97.16 -973.9)" >9</text>
<text x="188.6" y="973.9" font-size="26" text-anchor="middle" fill="#000" transform="translate(188.6 973.9) scale(0.96 1) translate(-188.6 -973.9)" >12</text>
<text x="276.83" y="973.9" font-size="26" text-anchor="middle" fill="#000" transform="translate(276.83 973.9) scale(0.96 1) translate(-276.83 -973.9)" >15</text>
<text x="364.81" y="973.9" font-size="26" text-anchor="middle" fill="#000" transform="translate(364.81 973.9) scale(0.96 1) translate(-364.81 -973.9)" >18</text>
<text x="452.78" y="973.9" font-size="26" text-anchor="middle" fill="#000" transform="translate(452.78 973.9) scale(0.96 1) translate(-452.78 -973.9)" >21</text>
<text x="285" y="1009.4" font-size="26" text-anchor="middle" fill="#000" >Time (d)</text>
<text x="21.5" y="779.2" font-size="26" text-anchor="middle" fill="#000" transform="rotate(-90 21.5 779.2)" textLength="247.5" lengthAdjust="spacing" >Tumor volume (mm<tspan dy="-8.6" font-size="68%">3</tspan><tspan dy="8.6">)</tspan></text>
<line x1="433.8" y1="859.7" x2="433.8" y2="922.7" stroke="#000" stroke-width="1.8" />
<text x="465.5" y="902" font-size="26" text-anchor="start" fill="#000" transform="rotate(-90 465.5 902)" >p=0.0031</text>
<text x="460.5" y="927.5" font-size="26" text-anchor="start" fill="#000" transform="rotate(-90 460.5 927.5)" ><tspan font-size="22.88" letter-spacing="1.21" dy="-0.8">**</tspan></text>
<text x="401.5" y="904.5" font-size="26" text-anchor="start" fill="#000" ><tspan font-size="22.88" letter-spacing="1.21" dy="-0.8">*</tspan></text>
<text x="401.5" y="922.5" font-size="26" text-anchor="start" fill="#000" ><tspan font-size="22.88" letter-spacing="1.21" dy="-0.8">*</tspan></text>
</g>
<g id="panel-e">
<text x="1013.5" y="605.8" font-size="24.5" text-anchor="start" font-weight="bold" fill="#000" >e</text>
<g opacity="1">
<path d="M1140.96 930.58H1148.96M1140.96 937.14H1148.96M1144.96 930.58V937.14" stroke="#167a50" stroke-width="1.7" fill="none"/>
</g>
<g opacity="1">
<path d="M1199.52 927.95H1207.52M1199.52 934.52H1207.52M1203.52 927.95V934.52" stroke="#167a50" stroke-width="1.7" fill="none"/>
</g>
<g opacity="1">
<path d="M1258.61 926.11H1266.61M1258.61 933.99H1266.61M1262.61 926.11V933.99" stroke="#167a50" stroke-width="1.7" fill="none"/>
</g>
<g opacity="1">
<path d="M1317.43 899.59H1325.43M1317.43 918.76H1325.43M1321.43 899.59V918.76" stroke="#167a50" stroke-width="1.7" fill="none"/>
</g>
<g opacity="1">
<path d="M1375.99 873.59H1383.99M1375.99 898.28H1383.99M1379.99 873.59V898.28" stroke="#167a50" stroke-width="1.7" fill="none"/>
</g>
<g opacity="1">
<path d="M1435.08 812.93H1443.08M1435.08 846.81H1443.08M1439.08 812.93V846.81" stroke="#167a50" stroke-width="1.7" fill="none"/>
</g>
<g opacity="1">
<path d="M1140.96 924.54H1148.96M1140.96 934.52H1148.96M1144.96 924.54V934.52" stroke="#0c0c8c" stroke-width="1.7" fill="none"/>
</g>
<g opacity="1">
<path d="M1199.52 918.76H1207.52M1199.52 931.89H1207.52M1203.52 918.76V931.89" stroke="#0c0c8c" stroke-width="1.7" fill="none"/>
</g>
<g opacity="1">
<path d="M1258.61 896.44H1266.61M1258.61 926.64H1266.61M1262.61 896.44V926.64" stroke="#0c0c8c" stroke-width="1.7" fill="none"/>
</g>
<g opacity="1">
<path d="M1317.43 827.37H1325.43M1317.43 884.1H1325.43M1321.43 827.37V884.1" stroke="#0c0c8c" stroke-width="1.7" fill="none"/>
</g>
<g opacity="1">
<path d="M1375.99 760.67H1383.99M1375.99 830H1383.99M1379.99 760.67V830" stroke="#0c0c8c" stroke-width="1.7" fill="none"/>
</g>
<g opacity="1">
<path d="M1435.08 685.04H1443.08M1435.08 738.88H1443.08M1439.08 685.04V738.88" stroke="#0c0c8c" stroke-width="1.7" fill="none"/>
</g>
<g opacity="1">
<path d="M1140.96 924.54H1148.96M1140.96 934.52H1148.96M1144.96 924.54V934.52" stroke="#c4650f" stroke-width="1.7" fill="none"/>
</g>
<g opacity="1">
<path d="M1199.52 914.82H1207.52M1199.52 927.95H1207.52M1203.52 914.82V927.95" stroke="#c4650f" stroke-width="1.7" fill="none"/>
</g>
<g opacity="1">
<path d="M1258.61 891.97H1266.61M1258.61 921.39H1266.61M1262.61 891.97V921.39" stroke="#c4650f" stroke-width="1.7" fill="none"/>
</g>
<g opacity="1">
<path d="M1317.43 830.79H1325.43M1317.43 889.09H1325.43M1321.43 830.79V889.09" stroke="#c4650f" stroke-width="1.7" fill="none"/>
</g>
<g opacity="1">
<path d="M1375.99 754.63H1383.99M1375.99 826.85H1383.99M1379.99 754.63V826.85" stroke="#c4650f" stroke-width="1.7" fill="none"/>
</g>
<g opacity="1">
<path d="M1435.08 690.29H1443.08M1435.08 748.07H1443.08M1439.08 690.29V748.07" stroke="#c4650f" stroke-width="1.7" fill="none"/>
</g>
<g opacity="1">
<path d="M1140.96 918.76H1148.96M1140.96 929.26H1148.96M1144.96 918.76V929.26" stroke="#b218e8" stroke-width="1.7" fill="none"/>
</g>
<g opacity="1">
<path d="M1199.52 902.48H1207.52M1199.52 929.26H1207.52M1203.52 902.48V929.26" stroke="#b218e8" stroke-width="1.7" fill="none"/>
</g>
<g opacity="1">
<path d="M1258.61 859.67H1266.61M1258.61 901.69H1266.61M1262.61 859.67V901.69" stroke="#b218e8" stroke-width="1.7" fill="none"/>
</g>
<g opacity="1">
<path d="M1317.43 803.21H1325.43M1317.43 870.97H1325.43M1321.43 803.21V870.97" stroke="#b218e8" stroke-width="1.7" fill="none"/>
</g>
<g opacity="1">
<path d="M1375.99 763.82H1383.99M1375.99 815.56H1383.99M1379.99 763.82V815.56" stroke="#b218e8" stroke-width="1.7" fill="none"/>
</g>
<g opacity="1">
<path d="M1435.08 695.55H1443.08M1435.08 713.93H1443.08M1439.08 695.55V713.93" stroke="#b218e8" stroke-width="1.7" fill="none"/>
</g>
<g opacity="1">
<path d="M1140.96 916.13H1148.96M1140.96 926.64H1148.96M1144.96 916.13V926.64" stroke="#5e5e5e" stroke-width="1.7" fill="none"/>
</g>
<g opacity="1">
<path d="M1199.52 905.11H1207.52M1199.52 921.39H1207.52M1203.52 905.11V921.39" stroke="#5e5e5e" stroke-width="1.7" fill="none"/>
</g>
<g opacity="1">
<path d="M1258.61 853.63H1266.61M1258.61 910.88H1266.61M1262.61 853.63V910.88" stroke="#5e5e5e" stroke-width="1.7" fill="none"/>
</g>
<g opacity="1">
<path d="M1317.43 786.14H1325.43M1317.43 845.23H1325.43M1321.43 786.14V845.23" stroke="#5e5e5e" stroke-width="1.7" fill="none"/>
</g>
<g opacity="1">
<path d="M1375.99 730.47H1383.99M1375.99 801.9H1383.99M1379.99 730.47V801.9" stroke="#5e5e5e" stroke-width="1.7" fill="none"/>
</g>
<g opacity="1">
<path d="M1435.08 656.94H1443.08M1435.08 706.05H1443.08M1439.08 656.94V706.05" stroke="#5e5e5e" stroke-width="1.7" fill="none"/>
</g>
<polyline points="1144.96,933.99 1203.52,931.37 1262.61,930.05 1321.43,908.78 1379.99,885.93 1439.08,830" fill="none" stroke="#0fbd78" stroke-width="3" stroke-linejoin="round" />
<rect x="1140.91" y="929.94" width="8.1" height="8.1" fill="#167a50"/>
<rect x="1199.47" y="927.32" width="8.1" height="8.1" fill="#167a50"/>
<rect x="1258.56" y="926" width="8.1" height="8.1" fill="#167a50"/>
<rect x="1317.38" y="904.73" width="8.1" height="8.1" fill="#167a50"/>
<rect x="1375.94" y="881.88" width="8.1" height="8.1" fill="#167a50"/>
<rect x="1435.03" y="825.95" width="8.1" height="8.1" fill="#167a50"/>
<polyline points="1144.96,929.26 1203.52,925.33 1262.61,910.88 1321.43,855.74 1379.99,794.02 1439.08,709.99" fill="none" stroke="#5c57f5" stroke-width="3" stroke-linejoin="round" />
<rect x="1140.91" y="925.21" width="8.1" height="8.1" fill="#0c0c8c"/>
<rect x="1199.47" y="921.28" width="8.1" height="8.1" fill="#0c0c8c"/>
<rect x="1258.56" y="906.83" width="8.1" height="8.1" fill="#0c0c8c"/>
<rect x="1317.38" y="851.69" width="8.1" height="8.1" fill="#0c0c8c"/>
<rect x="1375.94" y="789.97" width="8.1" height="8.1" fill="#0c0c8c"/>
<rect x="1435.03" y="705.94" width="8.1" height="8.1" fill="#0c0c8c"/>
<polyline points="1144.96,929.26 1203.52,921.39 1262.61,906.94 1321.43,859.67 1379.99,791.4 1439.08,719.18" fill="none" stroke="#ff8000" stroke-width="3" stroke-linejoin="round" />
<rect x="1140.91" y="925.21" width="8.1" height="8.1" fill="#c4650f"/>
<rect x="1199.47" y="917.34" width="8.1" height="8.1" fill="#c4650f"/>
<rect x="1258.56" y="902.89" width="8.1" height="8.1" fill="#c4650f"/>
<rect x="1317.38" y="855.62" width="8.1" height="8.1" fill="#c4650f"/>
<rect x="1375.94" y="787.35" width="8.1" height="8.1" fill="#c4650f"/>
<rect x="1435.03" y="715.13" width="8.1" height="8.1" fill="#c4650f"/>
<polyline points="1144.96,924.01 1203.52,916.13 1262.61,880.68 1321.43,837.35 1379.99,791.4 1439.08,703.95" fill="none" stroke="#a311e0" stroke-width="3" stroke-linejoin="round" />
<rect x="1140.91" y="919.96" width="8.1" height="8.1" fill="#b218e8"/>
<rect x="1199.47" y="912.08" width="8.1" height="8.1" fill="#b218e8"/>
<rect x="1258.56" y="876.63" width="8.1" height="8.1" fill="#b218e8"/>
<rect x="1317.38" y="833.3" width="8.1" height="8.1" fill="#b218e8"/>
<rect x="1375.94" y="787.35" width="8.1" height="8.1" fill="#b218e8"/>
<rect x="1435.03" y="699.9" width="8.1" height="8.1" fill="#b218e8"/>
<polyline points="1144.96,921.39 1203.52,914.03 1262.61,882 1321.43,815.82 1379.99,765.66 1439.08,681.1" fill="none" stroke="#555" stroke-width="3" stroke-linejoin="round" />
<rect x="1140.91" y="917.34" width="8.1" height="8.1" fill="#3a3a3a"/>
<rect x="1199.47" y="909.98" width="8.1" height="8.1" fill="#3a3a3a"/>
<rect x="1258.56" y="877.95" width="8.1" height="8.1" fill="#3a3a3a"/>
<rect x="1317.38" y="811.77" width="8.1" height="8.1" fill="#3a3a3a"/>
<rect x="1375.94" y="761.61" width="8.1" height="8.1" fill="#3a3a3a"/>
<rect x="1435.03" y="677.05" width="8.1" height="8.1" fill="#3a3a3a"/>
<rect x="1115.55" y="631.21" width="382.09" height="311.19" fill="none" stroke="#000" stroke-width="2.6" />
<path d="M1115.55 942.39V948.89M1203.7 942.39V948.89M1291.86 942.39V948.89M1380.02 942.39V948.89M1468.17 942.39V948.89M1144.93 942.39V946.19M1174.32 942.39V946.19M1233.09 942.39V946.19M1262.47 942.39V946.19M1321.24 942.39V946.19M1350.63 942.39V946.19M1409.4 942.39V946.19M1438.79 942.39V946.19M1109.05 942.39H1115.55M1109.05 880.16H1115.55M1109.05 817.92H1115.55M1109.05 755.68H1115.55M1109.05 693.45H1115.55M1109.05 631.21H1115.55M1111.75 911.28H1115.55M1111.75 849.04H1115.55M1111.75 786.8H1115.55M1111.75 724.56H1115.55M1111.75 662.33H1115.55" stroke="#000" stroke-width="2.6" fill="none"/>
<text x="1101.3" y="951.69" font-size="26" text-anchor="end" fill="#000" transform="translate(1101.3 951.69) scale(0.96 1) translate(-1101.3 -951.69)" >0</text>
<text x="1101.3" y="888.56" font-size="26" text-anchor="end" fill="#000" transform="translate(1101.3 888.56) scale(0.96 1) translate(-1101.3 -888.56)" >200</text>
<text x="1101.3" y="826.32" font-size="26" text-anchor="end" fill="#000" transform="translate(1101.3 826.32) scale(0.96 1) translate(-1101.3 -826.32)" >400</text>
<text x="1101.3" y="762.18" font-size="26" text-anchor="end" fill="#000" transform="translate(1101.3 762.18) scale(0.96 1) translate(-1101.3 -762.18)" >600</text>
<text x="1101.3" y="698.65" font-size="26" text-anchor="end" fill="#000" transform="translate(1101.3 698.65) scale(0.96 1) translate(-1101.3 -698.65)" >800</text>
<text x="1101.3" y="636.51" font-size="26" text-anchor="end" fill="#000" transform="translate(1101.3 636.51) scale(0.96 1) translate(-1101.3 -636.51)" >1000</text>
<text x="1116.85" y="973.9" font-size="26" text-anchor="middle" fill="#000" transform="translate(1116.85 973.9) scale(0.96 1) translate(-1116.85 -973.9)" >15</text>
<text x="1205" y="973.9" font-size="26" text-anchor="middle" fill="#000" transform="translate(1205 973.9) scale(0.96 1) translate(-1205 -973.9)" >18</text>
<text x="1293.16" y="973.9" font-size="26" text-anchor="middle" fill="#000" transform="translate(1293.16 973.9) scale(0.96 1) translate(-1293.16 -973.9)" >21</text>
<text x="1381.32" y="973.9" font-size="26" text-anchor="middle" fill="#000" transform="translate(1381.32 973.9) scale(0.96 1) translate(-1381.32 -973.9)" >24</text>
<text x="1469.47" y="973.9" font-size="26" text-anchor="middle" fill="#000" transform="translate(1469.47 973.9) scale(0.96 1) translate(-1469.47 -973.9)" >27</text>
<text x="1306" y="1009.4" font-size="26" text-anchor="middle" fill="#000" >Time (d)</text>
<text x="1047.5" y="774.8" font-size="26" text-anchor="middle" fill="#000" transform="rotate(-90 1047.5 774.8)" textLength="249.7" lengthAdjust="spacing" >Tumor volume (mm<tspan dy="-8.6" font-size="68%">3</tspan><tspan dy="8.6">)</tspan></text>
<line x1="1452.2" y1="720" x2="1452.2" y2="837.4" stroke="#000" stroke-width="1.8" />
<text x="1482.5" y="796.5" font-size="26" text-anchor="start" fill="#000" transform="rotate(-90 1482.5 796.5)" >p&lt;0.0001</text>
<text x="1479.5" y="843.5" font-size="26" text-anchor="start" fill="#000" transform="rotate(-90 1479.5 843.5)" ><tspan font-size="22.88" letter-spacing="1.21" dy="-0.8">****</tspan></text>
</g>
<g id="panel-d">
<text x="510.5" y="605.8" font-size="24.5" text-anchor="start" font-weight="bold" fill="#000" >d</text>
<rect x="706.91" y="913.51" width="33.88" height="28.89" fill="#f0cdf8" stroke="#000" stroke-width="1.6" />
<rect x="776.76" y="817.66" width="33.61" height="124.74" fill="#ffeedd" stroke="#000" stroke-width="1.6" />
<rect x="846.36" y="800.59" width="33.35" height="141.81" fill="#c0c0fb" stroke="#000" stroke-width="1.6" />
<rect x="915.95" y="763.04" width="33.61" height="179.36" fill="#b4ead4" stroke="#000" stroke-width="1.6" />
<rect x="637" y="936.29" width="8" height="8" fill="#333333"/>
<rect x="643.56" y="936.29" width="8" height="8" fill="#333333"/>
<rect x="650.39" y="936.56" width="8" height="8" fill="#333333"/>
<rect x="657.22" y="936.29" width="8" height="8" fill="#333333"/>
<rect x="663.78" y="936.29" width="8" height="8" fill="#333333"/>
<path d="M715.48 893.29H732.48M715.48 931.89H732.48M723.98 893.29V931.89" stroke="#7d0fa3" stroke-width="1.6" fill="none"/>
<rect x="719.98" y="876.16" width="8" height="8" fill="#7d0fa3"/>
<rect x="719.98" y="897.69" width="8" height="8" fill="#7d0fa3"/>
<rect x="732.85" y="911.35" width="8" height="8" fill="#7d0fa3"/>
<rect x="719.98" y="914.76" width="8" height="8" fill="#7d0fa3"/>
<rect x="706.59" y="926.58" width="8" height="8" fill="#7d0fa3"/>
<rect x="732.85" y="926.05" width="8" height="8" fill="#7d0fa3"/>
<path d="M784.81 786.93H801.81M784.81 846.54H801.81M793.31 786.93V846.54" stroke="#c4650f" stroke-width="1.6" fill="none"/>
<rect x="789.31" y="752.73" width="8" height="8" fill="#c4650f"/>
<rect x="776.18" y="801.05" width="8" height="8" fill="#c4650f"/>
<rect x="789.31" y="806.3" width="8" height="8" fill="#c4650f"/>
<rect x="776.18" y="809.72" width="8" height="8" fill="#c4650f"/>
<rect x="789.31" y="814.97" width="8" height="8" fill="#c4650f"/>
<rect x="789.31" y="830.73" width="8" height="8" fill="#c4650f"/>
<rect x="802.44" y="841.76" width="8" height="8" fill="#c4650f"/>
<rect x="776.18" y="846.48" width="8" height="8" fill="#c4650f"/>
<path d="M854.4 768.03H871.4M854.4 832.1H871.4M862.9 768.03V832.1" stroke="#0c0c8c" stroke-width="1.6" fill="none"/>
<rect x="858.9" y="757.72" width="8" height="8" fill="#0c0c8c"/>
<rect x="872.03" y="772.17" width="8" height="8" fill="#0c0c8c"/>
<rect x="845.77" y="779.52" width="8" height="8" fill="#0c0c8c"/>
<rect x="845.77" y="787.4" width="8" height="8" fill="#0c0c8c"/>
<rect x="858.9" y="784.77" width="8" height="8" fill="#0c0c8c"/>
<rect x="858.9" y="801.32" width="8" height="8" fill="#0c0c8c"/>
<rect x="858.9" y="832.04" width="8" height="8" fill="#0c0c8c"/>
<rect x="858.9" y="853.84" width="8" height="8" fill="#0c0c8c"/>
<path d="M923.99 740.98H940.99M923.99 782.99H940.99M932.49 740.98V782.99" stroke="#1a9a62" stroke-width="1.6" fill="none"/>
<rect x="924.03" y="740.92" width="8" height="8" fill="#1a9a62"/>
<rect x="932.43" y="746.69" width="8" height="8" fill="#1a9a62"/>
<rect x="941.62" y="746.69" width="8" height="8" fill="#1a9a62"/>
<rect x="924.03" y="750.63" width="8" height="8" fill="#1a9a62"/>
<rect x="915.36" y="754.57" width="8" height="8" fill="#1a9a62"/>
<rect x="932.43" y="757.2" width="8" height="8" fill="#1a9a62"/>
<rect x="941.62" y="754.57" width="8" height="8" fill="#1a9a62"/>
<rect x="924.03" y="759.82" width="8" height="8" fill="#1a9a62"/>
<rect x="924.03" y="812.34" width="8" height="8" fill="#1a9a62"/>
<rect x="602.92" y="632.52" width="381.3" height="309.87" fill="none" stroke="#000" stroke-width="2.6" />
<path d="M596.42 942.39H602.92M596.42 880.42H602.92M596.42 818.45H602.92M596.42 756.47H602.92M596.42 694.5H602.92M596.42 632.52H602.92M599.12 911.41H602.92M599.12 849.43H602.92M599.12 787.46H602.92M599.12 725.48H602.92M599.12 663.51H602.92" stroke="#000" stroke-width="2.4" fill="none"/>
<text x="588" y="949.89" font-size="26" text-anchor="end" fill="#000" transform="translate(588 949.89) scale(0.96 1) translate(-588 -949.89)" >0</text>
<text x="588" y="888.72" font-size="26" text-anchor="end" fill="#000" transform="translate(588 888.72) scale(0.96 1) translate(-588 -888.72)" >30</text>
<text x="588" y="826.75" font-size="26" text-anchor="end" fill="#000" transform="translate(588 826.75) scale(0.96 1) translate(-588 -826.75)" >60</text>
<text x="588" y="762.77" font-size="26" text-anchor="end" fill="#000" transform="translate(588 762.77) scale(0.96 1) translate(-588 -762.77)" >90</text>
<text x="588" y="700" font-size="26" text-anchor="end" fill="#000" transform="translate(588 700) scale(0.96 1) translate(-588 -700)" >120</text>
<text x="588" y="637.82" font-size="26" text-anchor="end" fill="#000" transform="translate(588 637.82) scale(0.96 1) translate(-588 -637.82)" >150</text>
<text x="537" y="781.5" font-size="26" text-anchor="middle" fill="#000" transform="rotate(-90 537 781.5)" textLength="265.3" lengthAdjust="spacing" >Tumor control rate (%)</text>
<line x1="780.97" y1="672.7" x2="930.65" y2="672.7" stroke="#000" stroke-width="1.8" />
<text x="930.39" y="663.51" font-size="26" text-anchor="end" fill="#000" ><tspan font-size="22.88" letter-spacing="1.21" dy="-0.8">***</tspan><tspan dy="0.8"> p=0.0005</tspan></text>
<line x1="855.81" y1="726.53" x2="931.7" y2="726.53" stroke="#000" stroke-width="1.8" />
<text x="934.33" y="713.93" font-size="26" text-anchor="end" fill="#000" ><tspan font-size="22.88" letter-spacing="1.21" dy="-0.8">*</tspan><tspan dy="0.8"> p=0.0104</tspan></text>
</g>
<g id="panel-f">
<text x="1518.5" y="605.8" font-size="24.5" text-anchor="start" font-weight="bold" fill="#000" >f</text>
<line x1="1649.46" y1="939.51" x2="1675.72" y2="939.51" stroke="#333" stroke-width="2.6" />
<rect x="1715.11" y="919.55" width="33.61" height="22.06" fill="#f0cdf8" stroke="#000" stroke-width="1.6" />
<rect x="1784.7" y="890.4" width="33.61" height="51.21" fill="#ffeedd" stroke="#000" stroke-width="1.6" />
<rect x="1854.03" y="906.94" width="33.61" height="34.66" fill="#c0c0fb" stroke="#000" stroke-width="1.6" />
<rect x="1923.62" y="794.81" width="33.61" height="146.8" fill="#b4ead4" stroke="#000" stroke-width="1.6" />
<rect x="1645.46" y="934.98" width="8" height="8" fill="#333333"/>
<rect x="1671.72" y="934.46" width="8" height="8" fill="#333333"/>
<path d="M1723.42 899.07H1740.42M1723.42 938.46H1740.42M1731.92 899.07V938.46" stroke="#7d0fa3" stroke-width="1.6" fill="none"/>
<rect x="1727.92" y="901.11" width="8" height="8" fill="#7d0fa3"/>
<rect x="1727.92" y="928.68" width="8" height="8" fill="#7d0fa3"/>
<path d="M1793.01 883.83H1810.01M1793.01 895.91H1810.01M1801.51 883.83V895.91" stroke="#c4650f" stroke-width="1.6" fill="none"/>
<rect x="1797.51" y="882.72" width="8" height="8" fill="#c4650f"/>
<rect x="1810.9" y="881.93" width="8" height="8" fill="#c4650f"/>
<rect x="1797.51" y="892.96" width="8" height="8" fill="#c4650f"/>
<path d="M1862.34 878.06H1879.34M1862.34 933.73H1879.34M1870.84 878.06V933.73" stroke="#0c0c8c" stroke-width="1.6" fill="none"/>
<rect x="1866.84" y="870.91" width="8" height="8" fill="#0c0c8c"/>
<rect x="1866.84" y="887.19" width="8" height="8" fill="#0c0c8c"/>
<rect x="1879.97" y="922.64" width="8" height="8" fill="#0c0c8c"/>
<rect x="1853.71" y="927.89" width="8" height="8" fill="#0c0c8c"/>
<path d="M1931.93 776.95H1948.93M1931.93 811.09H1948.93M1940.43 776.95V811.09" stroke="#1a9a62" stroke-width="1.6" fill="none"/>
<rect x="1922.77" y="772.43" width="8" height="8" fill="#1a9a62"/>
<rect x="1935.9" y="772.17" width="8" height="8" fill="#1a9a62"/>
<rect x="1949.56" y="771.38" width="8" height="8" fill="#1a9a62"/>
<rect x="1949.56" y="784.25" width="8" height="8" fill="#1a9a62"/>
<rect x="1935.9" y="791.34" width="8" height="8" fill="#1a9a62"/>
<rect x="1922.77" y="793.96" width="8" height="8" fill="#1a9a62"/>
<rect x="1949.56" y="803.15" width="8" height="8" fill="#1a9a62"/>
<rect x="1935.9" y="807.09" width="8" height="8" fill="#1a9a62"/>
<rect x="1935.9" y="817.07" width="8" height="8" fill="#1a9a62"/>
<rect x="1610.86" y="631.21" width="381.57" height="310.4" fill="none" stroke="#000" stroke-width="2.6" />
<path d="M1604.36 941.61H1610.86M1604.36 864.01H1610.86M1604.36 786.41H1610.86M1604.36 708.81H1610.86M1604.36 631.21H1610.86M1607.06 902.81H1610.86M1607.06 825.21H1610.86M1607.06 747.61H1610.86M1607.06 670.01H1610.86" stroke="#000" stroke-width="2.4" fill="none"/>
<text x="1596.5" y="949.41" font-size="26" text-anchor="end" fill="#000" transform="translate(1596.5 949.41) scale(0.96 1) translate(-1596.5 -949.41)" >0</text>
<text x="1596.5" y="871.81" font-size="26" text-anchor="end" fill="#000" transform="translate(1596.5 871.81) scale(0.96 1) translate(-1596.5 -871.81)" >30</text>
<text x="1596.5" y="795.01" font-size="26" text-anchor="end" fill="#000" transform="translate(1596.5 795.01) scale(0.96 1) translate(-1596.5 -795.01)" >60</text>
<text x="1596.5" y="716.21" font-size="26" text-anchor="end" fill="#000" transform="translate(1596.5 716.21) scale(0.96 1) translate(-1596.5 -716.21)" >90</text>
<text x="1596.5" y="639.01" font-size="26" text-anchor="end" fill="#000" transform="translate(1596.5 639.01) scale(0.96 1) translate(-1596.5 -639.01)" >120</text>
<text x="1553" y="793.7" font-size="26" text-anchor="middle" fill="#000" transform="rotate(-90 1553 793.7)" textLength="258.6" lengthAdjust="spacing" >Tumor control rate (%)</text>
<line x1="1774.2" y1="683.2" x2="1929.92" y2="683.2" stroke="#000" stroke-width="1.8" />
<text x="1938.33" y="667.97" font-size="26" text-anchor="end" fill="#000" ><tspan font-size="22.88" letter-spacing="1.21" dy="-0.8">****</tspan><tspan dy="0.8"> p&lt;0.0001</tspan></text>
<line x1="1859.55" y1="737.04" x2="1929.92" y2="737.04" stroke="#000" stroke-width="1.8" />
<text x="1938.33" y="724.43" font-size="26" text-anchor="end" fill="#000" ><tspan font-size="22.88" letter-spacing="1.21" dy="-0.8">****</tspan><tspan dy="0.8"> p&lt;0.0001</tspan></text>
</g>
<g id="panel-g">
<text x="2" y="1067.3" font-size="24.5" text-anchor="start" font-weight="bold" fill="#000" >g</text>
<rect x="108.93" y="1425.36" width="25" height="20.71" fill="#d3d3d3" stroke="#000" stroke-width="2.1" />
<rect x="108.67" y="1423.31" width="9.8" height="9.8" fill="#0a0a0a"/>
<rect x="117.24" y="1419.74" width="9.8" height="9.8" fill="#0a0a0a"/>
<rect x="124.39" y="1420.81" width="9.8" height="9.8" fill="#0a0a0a"/>
<rect x="157.14" y="1411.43" width="25" height="34.64" fill="#f0cdf8" stroke="#000" stroke-width="2.1" />
<path d="M162.89 1403.21H176.39M162.89 1413.93H176.39M169.64 1403.21V1413.93" stroke="#7d12a0" stroke-width="2.1" fill="none"/>
<rect x="156.53" y="1407.96" width="9.8" height="9.8" fill="#7d12a0"/>
<rect x="164.74" y="1400.1" width="9.8" height="9.8" fill="#7d12a0"/>
<rect x="172.6" y="1404.39" width="9.8" height="9.8" fill="#7d12a0"/>
<rect x="205.36" y="1393.21" width="25" height="52.86" fill="#ffeedd" stroke="#000" stroke-width="2.1" />
<path d="M211.11 1383.57H224.61M211.11 1401.43H224.61M217.86 1383.57V1401.43" stroke="#c4650f" stroke-width="2.1" fill="none"/>
<rect x="205.1" y="1395.81" width="9.8" height="9.8" fill="#c4650f"/>
<rect x="212.96" y="1379.39" width="9.8" height="9.8" fill="#c4650f"/>
<rect x="221.53" y="1388.31" width="9.8" height="9.8" fill="#c4650f"/>
<rect x="253.57" y="1379.29" width="25" height="66.79" fill="#c0c0fb" stroke="#000" stroke-width="2.1" />
<path d="M259.32 1363.93H272.82M259.32 1393.21H272.82M266.07 1363.93V1393.21" stroke="#06067f" stroke-width="2.1" fill="none"/>
<rect x="252.96" y="1382.96" width="9.8" height="9.8" fill="#06067f"/>
<rect x="261.17" y="1358.31" width="9.8" height="9.8" fill="#06067f"/>
<rect x="269.39" y="1380.46" width="9.8" height="9.8" fill="#06067f"/>
<rect x="302.14" y="1363.93" width="25" height="82.14" fill="#b4ead4" stroke="#000" stroke-width="2.1" />
<path d="M307.89 1350.71H321.39M307.89 1377.14H321.39M314.64 1350.71V1377.14" stroke="#17a068" stroke-width="2.1" fill="none"/>
<rect x="301.17" y="1350.81" width="9.8" height="9.8" fill="#17a068"/>
<rect x="309.39" y="1372.24" width="9.8" height="9.8" fill="#17a068"/>
<rect x="317.96" y="1351.89" width="9.8" height="9.8" fill="#17a068"/>
<rect x="398.93" y="1354.29" width="25" height="91.79" fill="#d3d3d3" stroke="#000" stroke-width="2.1" />
<path d="M404.68 1344.29H418.18M404.68 1360.36H418.18M411.43 1344.29V1360.36" stroke="#0a0a0a" stroke-width="2.1" fill="none"/>
<rect x="398.67" y="1354.39" width="9.8" height="9.8" fill="#0a0a0a"/>
<rect x="406.53" y="1341.89" width="9.8" height="9.8" fill="#0a0a0a"/>
<rect x="414.03" y="1351.89" width="9.8" height="9.8" fill="#0a0a0a"/>
<rect x="447.14" y="1373.57" width="25" height="72.5" fill="#f0cdf8" stroke="#000" stroke-width="2.1" />
<path d="M452.89 1348.93H466.39M452.89 1397.14H466.39M459.64 1348.93V1397.14" stroke="#7d12a0" stroke-width="2.1" fill="none"/>
<rect x="446.53" y="1385.81" width="9.8" height="9.8" fill="#7d12a0"/>
<rect x="454.74" y="1340.46" width="9.8" height="9.8" fill="#7d12a0"/>
<rect x="462.96" y="1378.67" width="9.8" height="9.8" fill="#7d12a0"/>
<rect x="495.36" y="1319.29" width="25" height="126.79" fill="#ffdfc0" stroke="#000" stroke-width="2.1" />
<path d="M501.11 1290H514.61M501.11 1347.86H514.61M507.86 1290V1347.86" stroke="#c4650f" stroke-width="2.1" fill="none"/>
<rect x="502.96" y="1300.81" width="9.8" height="9.8" fill="#c4650f"/>
<rect x="511.17" y="1294.74" width="9.8" height="9.8" fill="#c4650f"/>
<rect x="502.96" y="1346.53" width="9.8" height="9.8" fill="#c4650f"/>
<rect x="543.57" y="1331.07" width="25" height="115" fill="#c0c0fb" stroke="#000" stroke-width="2.1" />
<path d="M549.32 1302.14H562.82M549.32 1359.64H562.82M556.07 1302.14V1359.64" stroke="#06067f" stroke-width="2.1" fill="none"/>
<rect x="542.96" y="1346.53" width="9.8" height="9.8" fill="#06067f"/>
<rect x="551.17" y="1292.96" width="9.8" height="9.8" fill="#06067f"/>
<rect x="559.39" y="1339.39" width="9.8" height="9.8" fill="#06067f"/>
<rect x="592.14" y="1247.5" width="25" height="198.57" fill="#b4ead4" stroke="#000" stroke-width="2.1" />
<path d="M597.89 1203.21H611.39M597.89 1290.71H611.39M604.64 1203.21V1290.71" stroke="#136f48" stroke-width="2.1" fill="none"/>
<rect x="599.39" y="1193.67" width="9.8" height="9.8" fill="#136f48"/>
<rect x="599.39" y="1257.24" width="9.8" height="9.8" fill="#136f48"/>
<rect x="599.39" y="1277.6" width="9.8" height="9.8" fill="#136f48"/>
<rect x="94.29" y="1070.36" width="538.57" height="375.71" fill="none" stroke="#000" stroke-width="3.3" />
<path d="M86.29 1446.07H94.29M86.29 1320.82H94.29M86.29 1195.61H94.29M86.29 1070.36H94.29M89.69 1421.02H94.29M89.69 1395.97H94.29M89.69 1370.92H94.29M89.69 1345.87H94.29M89.69 1295.78H94.29M89.69 1270.74H94.29M89.69 1245.69H94.29M89.69 1220.65H94.29M89.69 1170.56H94.29M89.69 1145.51H94.29M89.69 1120.46H94.29M89.69 1095.41H94.29" stroke="#000" stroke-width="3.1" fill="none"/>
<text x="80" y="1452.57" font-size="26" text-anchor="end" fill="#000" transform="translate(80 1452.57) scale(0.96 1) translate(-80 -1452.57)" >0</text>
<text x="80" y="1327.32" font-size="26" text-anchor="end" fill="#000" transform="translate(80 1327.32) scale(0.96 1) translate(-80 -1327.32)" >5</text>
<text x="80" y="1202.11" font-size="26" text-anchor="end" fill="#000" transform="translate(80 1202.11) scale(0.96 1) translate(-80 -1202.11)" >10</text>
<text x="80" y="1076.86" font-size="26" text-anchor="end" fill="#000" transform="translate(80 1076.86) scale(0.96 1) translate(-80 -1076.86)" >15</text>
<line x1="114.29" y1="1107.5" x2="316.07" y2="1107.5" stroke="#000" stroke-width="1.9" />
<text x="317.14" y="1096.79" font-size="26" text-anchor="end" fill="#000" ><tspan font-size="22.88" letter-spacing="1.21" dy="-0.8">**</tspan><tspan dy="0.8"> p=0.0010</tspan></text>
<line x1="174.29" y1="1150" x2="316.07" y2="1150" stroke="#000" stroke-width="1.9" />
<text x="317.14" y="1140.71" font-size="26" text-anchor="end" fill="#000" ><tspan font-size="22.88" letter-spacing="1.21" dy="-0.8">**</tspan><tspan dy="0.8"> p=0.0037</tspan></text>
<line x1="212.5" y1="1191.79" x2="316.07" y2="1191.79" stroke="#000" stroke-width="1.9" />
<text x="317.14" y="1180.71" font-size="26" text-anchor="end" fill="#000" ><tspan font-size="22.88" letter-spacing="1.21" dy="-0.8">*</tspan><tspan dy="0.8"> p=0.0274</tspan></text>
<line x1="394.64" y1="1106.43" x2="595.71" y2="1106.43" stroke="#000" stroke-width="1.9" />
<text x="591.79" y="1096.79" font-size="26" text-anchor="end" fill="#000" ><tspan font-size="22.88" letter-spacing="1.21" dy="-0.8">*</tspan><tspan dy="0.8"> p=0.0139</tspan></text>
<line x1="449.29" y1="1151.07" x2="595.71" y2="1151.07" stroke="#000" stroke-width="1.9" />
<text x="590.36" y="1141.79" font-size="26" text-anchor="end" fill="#000" ><tspan font-size="22.88" letter-spacing="1.21" dy="-0.8">*</tspan><tspan dy="0.8"> p=0.0121</tspan></text>
<text x="217.86" y="1483.6" font-size="26" text-anchor="middle" fill="#000" >Primary tumors</text>
<text x="512.86" y="1483.6" font-size="26" text-anchor="middle" fill="#000" >Abscopal tumors</text>
<text x="30.5" y="1248.8" font-size="26" text-anchor="middle" fill="#000" transform="rotate(-90 30.5 1248.8)" textLength="262.5" lengthAdjust="spacing" >CD3<tspan dy="-8.6" font-size="68%">+</tspan><tspan dy="8.6"> CD8</tspan><tspan dy="-8.6" font-size="68%">+</tspan><tspan dy="8.6"> T cells (%)</tspan></text>
</g>
<g id="panel-h">
<text x="682" y="1065.5" font-size="24.5" text-anchor="start" font-weight="bold" fill="#000" >h</text>
<rect x="786.79" y="1284.29" width="25" height="160.71" fill="#d3d3d3" stroke="#000" stroke-width="2.1" />
<rect x="786.53" y="1282.96" width="9.8" height="9.8" fill="#0a0a0a"/>
<rect x="794.39" y="1274.39" width="9.8" height="9.8" fill="#0a0a0a"/>
<rect x="802.24" y="1280.46" width="9.8" height="9.8" fill="#0a0a0a"/>
<rect x="835" y="1320" width="25" height="125" fill="#f0cdf8" stroke="#000" stroke-width="2.1" />
<rect x="834.74" y="1317.24" width="9.8" height="9.8" fill="#7d12a0"/>
<rect x="842.6" y="1312.6" width="9.8" height="9.8" fill="#7d12a0"/>
<rect x="850.46" y="1317.24" width="9.8" height="9.8" fill="#7d12a0"/>
<rect x="883.21" y="1388.21" width="25" height="56.79" fill="#ffeedd" stroke="#000" stroke-width="2.1" />
<rect x="882.96" y="1384.03" width="9.8" height="9.8" fill="#c4650f"/>
<rect x="890.81" y="1378.67" width="9.8" height="9.8" fill="#c4650f"/>
<rect x="899.03" y="1383.31" width="9.8" height="9.8" fill="#c4650f"/>
<rect x="931.43" y="1366.43" width="25" height="78.57" fill="#c0c0fb" stroke="#000" stroke-width="2.1" />
<path d="M937.18 1353.21H950.68M937.18 1375.71H950.68M943.93 1353.21V1375.71" stroke="#06067f" stroke-width="2.1" fill="none"/>
<rect x="931.17" y="1370.46" width="9.8" height="9.8" fill="#06067f"/>
<rect x="939.03" y="1350.1" width="9.8" height="9.8" fill="#06067f"/>
<rect x="947.6" y="1362.6" width="9.8" height="9.8" fill="#06067f"/>
<rect x="980" y="1388.93" width="25" height="56.07" fill="#b4ead4" stroke="#000" stroke-width="2.1" />
<rect x="979.39" y="1385.81" width="9.8" height="9.8" fill="#17a068"/>
<rect x="987.6" y="1383.31" width="9.8" height="9.8" fill="#17a068"/>
<rect x="995.81" y="1382.24" width="9.8" height="9.8" fill="#17a068"/>
<rect x="1076.79" y="1178.21" width="25" height="266.79" fill="#d3d3d3" stroke="#000" stroke-width="2.1" />
<path d="M1082.54 1141.43H1096.04M1082.54 1215.71H1096.04M1089.29 1141.43V1215.71" stroke="#0a0a0a" stroke-width="2.1" fill="none"/>
<rect x="1075.81" y="1150.1" width="9.8" height="9.8" fill="#0a0a0a"/>
<rect x="1092.6" y="1154.39" width="9.8" height="9.8" fill="#0a0a0a"/>
<rect x="1084.39" y="1214.39" width="9.8" height="9.8" fill="#0a0a0a"/>
<rect x="1125" y="1204.64" width="25" height="240.36" fill="#f0cdf8" stroke="#000" stroke-width="2.1" />
<path d="M1130.75 1177.14H1144.25M1130.75 1230.71H1144.25M1137.5 1177.14V1230.71" stroke="#7d12a0" stroke-width="2.1" fill="none"/>
<rect x="1132.6" y="1168.67" width="9.8" height="9.8" fill="#7d12a0"/>
<rect x="1124.39" y="1214.39" width="9.8" height="9.8" fill="#7d12a0"/>
<rect x="1140.81" y="1213.31" width="9.8" height="9.8" fill="#7d12a0"/>
<rect x="1173.21" y="1318.21" width="25" height="126.79" fill="#ffdfc0" stroke="#000" stroke-width="2.1" />
<path d="M1178.96 1307.86H1192.46M1178.96 1329.29H1192.46M1185.71 1307.86V1329.29" stroke="#c4650f" stroke-width="2.1" fill="none"/>
<rect x="1180.81" y="1300.1" width="9.8" height="9.8" fill="#c4650f"/>
<rect x="1172.96" y="1319.74" width="9.8" height="9.8" fill="#c4650f"/>
<rect x="1188.67" y="1317.96" width="9.8" height="9.8" fill="#c4650f"/>
<rect x="1221.43" y="1341.43" width="25" height="103.57" fill="#c0c0fb" stroke="#000" stroke-width="2.1" />
<path d="M1227.18 1325.71H1240.68M1227.18 1356.79H1240.68M1233.93 1325.71V1356.79" stroke="#06067f" stroke-width="2.1" fill="none"/>
<rect x="1229.03" y="1320.81" width="9.8" height="9.8" fill="#06067f"/>
<rect x="1229.03" y="1337.6" width="9.8" height="9.8" fill="#06067f"/>
<rect x="1229.03" y="1350.81" width="9.8" height="9.8" fill="#06067f"/>
<rect x="1270" y="1406.79" width="25" height="38.21" fill="#b4ead4" stroke="#000" stroke-width="2.1" />
<rect x="1269.39" y="1403.67" width="9.8" height="9.8" fill="#136f48"/>
<rect x="1277.6" y="1399.39" width="9.8" height="9.8" fill="#136f48"/>
<rect x="1285.81" y="1401.17" width="9.8" height="9.8" fill="#136f48"/>
<rect x="772.32" y="1068.21" width="538.39" height="376.79" fill="none" stroke="#000" stroke-width="3.3" />
<path d="M764.32 1445H772.32M764.32 1369.64H772.32M764.32 1294.29H772.32M764.32 1218.93H772.32M764.32 1143.57H772.32M764.32 1068.21H772.32M767.72 1407.32H772.32M767.72 1331.96H772.32M767.72 1256.61H772.32M767.72 1181.25H772.32M767.72 1105.89H772.32" stroke="#000" stroke-width="3.1" fill="none"/>
<text x="757.3" y="1455.8" font-size="26" text-anchor="end" fill="#000" transform="translate(757.3 1455.8) scale(0.96 1) translate(-757.3 -1455.8)" >0</text>
<text x="757.3" y="1380.44" font-size="26" text-anchor="end" fill="#000" transform="translate(757.3 1380.44) scale(0.96 1) translate(-757.3 -1380.44)" >10</text>
<text x="757.3" y="1305.29" font-size="26" text-anchor="end" fill="#000" transform="translate(757.3 1305.29) scale(0.96 1) translate(-757.3 -1305.29)" >20</text>
<text x="757.3" y="1230.23" font-size="26" text-anchor="end" fill="#000" transform="translate(757.3 1230.23) scale(0.96 1) translate(-757.3 -1230.23)" >30</text>
<text x="757.3" y="1154.57" font-size="26" text-anchor="end" fill="#000" transform="translate(757.3 1154.57) scale(0.96 1) translate(-757.3 -1154.57)" >40</text>
<text x="757.3" y="1080.51" font-size="26" text-anchor="end" fill="#000" transform="translate(757.3 1080.51) scale(0.96 1) translate(-757.3 -1080.51)" >50</text>
<line x1="793.21" y1="1111.79" x2="995" y2="1111.79" stroke="#000" stroke-width="1.9" />
<text x="998.57" y="1099.64" font-size="26" text-anchor="end" fill="#000" ><tspan font-size="22.88" letter-spacing="1.21" dy="-0.8">****</tspan><tspan dy="0.8"> p&lt;0.0001</tspan></text>
<line x1="848.57" y1="1155.71" x2="994.29" y2="1155.71" stroke="#000" stroke-width="1.9" />
<text x="998.57" y="1144.29" font-size="26" text-anchor="end" fill="#000" ><tspan font-size="22.88" letter-spacing="1.21" dy="-0.8">****</tspan><tspan dy="0.8"> p&lt;0.0001</tspan></text>
<line x1="941.43" y1="1200.71" x2="997.5" y2="1200.71" stroke="#000" stroke-width="1.9" />
<text x="1002.5" y="1188.21" font-size="26" text-anchor="end" fill="#000" ><tspan font-size="22.88" letter-spacing="1.21" dy="-0.8">*</tspan><tspan dy="0.8"> p=0.0194</tspan></text>
<line x1="1086.43" y1="1111.43" x2="1287.86" y2="1111.43" stroke="#000" stroke-width="1.9" />
<text x="1293.57" y="1098.93" font-size="26" text-anchor="end" fill="#000" ><tspan font-size="22.88" letter-spacing="1.21" dy="-0.8">***</tspan><tspan dy="0.8"> p=0.0004</tspan></text>
<line x1="1142.14" y1="1153.93" x2="1287.86" y2="1153.93" stroke="#000" stroke-width="1.9" />
<text x="1294.29" y="1143.21" font-size="26" text-anchor="end" fill="#000" ><tspan font-size="22.88" letter-spacing="1.21" dy="-0.8">***</tspan><tspan dy="0.8"> p=0.0002</tspan></text>
<line x1="1232.14" y1="1197.14" x2="1287.86" y2="1197.14" stroke="#000" stroke-width="1.9" />
<text x="1293.93" y="1187.14" font-size="26" text-anchor="end" fill="#000" ><tspan font-size="22.88" letter-spacing="1.21" dy="-0.8">**</tspan><tspan dy="0.8"> p=0.0018</tspan></text>
<text x="895.18" y="1487.2" font-size="26" text-anchor="middle" fill="#000" >Primary tumors</text>
<text x="1190.71" y="1487.2" font-size="26" text-anchor="middle" fill="#000" >Abscopal tumors</text>
<text x="709.5" y="1240.2" font-size="26" text-anchor="middle" fill="#000" transform="rotate(-90 709.5 1240.2)" >Treg cells (%)</text>
</g>
<g id="panel-i">
<text x="1350.5" y="1065.5" font-size="24.5" text-anchor="start" font-weight="bold" fill="#000" >i</text>
<rect x="1464" y="1437.14" width="25" height="10" fill="#d3d3d3" stroke="#000" stroke-width="2.1" />
<rect x="1463.39" y="1431.17" width="9.8" height="9.8" fill="#0a0a0a"/>
<rect x="1471.6" y="1427.6" width="9.8" height="9.8" fill="#0a0a0a"/>
<rect x="1479.46" y="1428.67" width="9.8" height="9.8" fill="#0a0a0a"/>
<rect x="1512.21" y="1418.21" width="25" height="28.93" fill="#f0cdf8" stroke="#000" stroke-width="2.1" />
<rect x="1511.96" y="1413.31" width="9.8" height="9.8" fill="#7d12a0"/>
<rect x="1519.81" y="1406.53" width="9.8" height="9.8" fill="#7d12a0"/>
<rect x="1528.03" y="1410.1" width="9.8" height="9.8" fill="#7d12a0"/>
<rect x="1561.14" y="1347.14" width="25" height="100" fill="#ffeedd" stroke="#000" stroke-width="2.1" />
<path d="M1566.89 1330H1580.39M1566.89 1363.21H1580.39M1573.64 1330V1363.21" stroke="#c4650f" stroke-width="2.1" fill="none"/>
<rect x="1560.53" y="1355.46" width="9.8" height="9.8" fill="#c4650f"/>
<rect x="1568.74" y="1324.03" width="9.8" height="9.8" fill="#c4650f"/>
<rect x="1576.96" y="1347.24" width="9.8" height="9.8" fill="#c4650f"/>
<rect x="1609.36" y="1353.57" width="25" height="93.57" fill="#c0c0fb" stroke="#000" stroke-width="2.1" />
<path d="M1615.11 1322.86H1628.61M1615.11 1382.86H1628.61M1621.86 1322.86V1382.86" stroke="#06067f" stroke-width="2.1" fill="none"/>
<rect x="1608.39" y="1369.03" width="9.8" height="9.8" fill="#06067f"/>
<rect x="1616.96" y="1312.6" width="9.8" height="9.8" fill="#06067f"/>
<rect x="1625.53" y="1361.53" width="9.8" height="9.8" fill="#06067f"/>
<rect x="1658.29" y="1288.21" width="25" height="158.93" fill="#b4ead4" stroke="#000" stroke-width="2.1" />
<path d="M1664.04 1268.57H1677.54M1664.04 1308.57H1677.54M1670.79 1268.57V1308.57" stroke="#17a068" stroke-width="2.1" fill="none"/>
<rect x="1665.53" y="1305.46" width="9.8" height="9.8" fill="#17a068"/>
<rect x="1665.53" y="1274.03" width="9.8" height="9.8" fill="#17a068"/>
<rect x="1674.1" y="1269.74" width="9.8" height="9.8" fill="#17a068"/>
<rect x="1755.07" y="1409.64" width="25" height="37.5" fill="#d3d3d3" stroke="#000" stroke-width="2.1" />
<path d="M1760.82 1401.43H1774.32M1760.82 1418.57H1774.32M1767.57 1401.43V1418.57" stroke="#0a0a0a" stroke-width="2.1" fill="none"/>
<rect x="1754.46" y="1410.81" width="9.8" height="9.8" fill="#0a0a0a"/>
<rect x="1762.67" y="1394.74" width="9.8" height="9.8" fill="#0a0a0a"/>
<rect x="1770.53" y="1409.03" width="9.8" height="9.8" fill="#0a0a0a"/>
<rect x="1803.64" y="1414.64" width="25" height="32.5" fill="#f0cdf8" stroke="#000" stroke-width="2.1" />
<path d="M1809.39 1403.93H1822.89M1809.39 1427.14H1822.89M1816.14 1403.93V1427.14" stroke="#7d12a0" stroke-width="2.1" fill="none"/>
<rect x="1803.03" y="1420.81" width="9.8" height="9.8" fill="#7d12a0"/>
<rect x="1811.6" y="1394.74" width="9.8" height="9.8" fill="#7d12a0"/>
<rect x="1819.81" y="1412.6" width="9.8" height="9.8" fill="#7d12a0"/>
<rect x="1852.57" y="1339.64" width="25" height="107.5" fill="#ffdfc0" stroke="#000" stroke-width="2.1" />
<path d="M1858.32 1319.29H1871.82M1858.32 1361.43H1871.82M1865.07 1319.29V1361.43" stroke="#c4650f" stroke-width="2.1" fill="none"/>
<rect x="1860.17" y="1317.96" width="9.8" height="9.8" fill="#c4650f"/>
<rect x="1860.17" y="1330.46" width="9.8" height="9.8" fill="#c4650f"/>
<rect x="1860.17" y="1357.24" width="9.8" height="9.8" fill="#c4650f"/>
<rect x="1901.14" y="1328.21" width="25" height="118.93" fill="#c0c0fb" stroke="#000" stroke-width="2.1" />
<path d="M1906.89 1308.57H1920.39M1906.89 1347.86H1920.39M1913.64 1308.57V1347.86" stroke="#06067f" stroke-width="2.1" fill="none"/>
<rect x="1908.39" y="1309.03" width="9.8" height="9.8" fill="#06067f"/>
<rect x="1908.39" y="1317.96" width="9.8" height="9.8" fill="#06067f"/>
<rect x="1908.39" y="1342.96" width="9.8" height="9.8" fill="#06067f"/>
<rect x="1949.71" y="1220" width="25" height="227.14" fill="#b4ead4" stroke="#000" stroke-width="2.1" />
<rect x="1947.71" y="1253.21" width="29" height="12.5" fill="#fff" stroke="none" stroke-width="1" />
<path d="M1955.46 1192.5H1968.96M1955.46 1246.07H1968.96M1962.21 1192.5V1246.07" stroke="#136f48" stroke-width="2.1" fill="none"/>
<rect x="1957.31" y="1182.96" width="9.8" height="9.8" fill="#136f48"/>
<rect x="1948.39" y="1232.24" width="9.8" height="9.8" fill="#136f48"/>
<rect x="1965.53" y="1227.6" width="9.8" height="9.8" fill="#136f48"/>
<path d="M1449 1253.21V1068.21H1991.14V1447.14H1449V1265.71" stroke="#000" stroke-width="3.3" fill="none"/>
<path d="M1441 1447.14H1449M1441 1375.36H1449M1441 1302.86H1449M1441 1253.21H1449M1441 1191.79H1449M1441 1130H1449M1441 1068.21H1449M1444.4 1411.07H1449M1444.4 1338.93H1449M1444.4 1266.43H1449M1444.4 1222.86H1449M1444.4 1161.07H1449M1444.4 1098.93H1449" stroke="#000" stroke-width="3.1" fill="none"/>
<text x="1436.8" y="1455.44" font-size="26" text-anchor="end" fill="#000" transform="translate(1436.8 1455.44) scale(0.96 1) translate(-1436.8 -1455.44)" >0.0</text>
<text x="1436.8" y="1383.66" font-size="26" text-anchor="end" fill="#000" transform="translate(1436.8 1383.66) scale(0.96 1) translate(-1436.8 -1383.66)" >0.2</text>
<text x="1436.8" y="1311.16" font-size="26" text-anchor="end" fill="#000" transform="translate(1436.8 1311.16) scale(0.96 1) translate(-1436.8 -1311.16)" >0.4</text>
<text x="1436.8" y="1259.41" font-size="26" text-anchor="end" fill="#000" transform="translate(1436.8 1259.41) scale(0.96 1) translate(-1436.8 -1259.41)" >1</text>
<text x="1436.8" y="1200.09" font-size="26" text-anchor="end" fill="#000" transform="translate(1436.8 1200.09) scale(0.96 1) translate(-1436.8 -1200.09)" >2</text>
<text x="1436.8" y="1138.3" font-size="26" text-anchor="end" fill="#000" transform="translate(1436.8 1138.3) scale(0.96 1) translate(-1436.8 -1138.3)" >3</text>
<text x="1436.8" y="1076.51" font-size="26" text-anchor="end" fill="#000" transform="translate(1436.8 1076.51) scale(0.96 1) translate(-1436.8 -1076.51)" >4</text>
<line x1="1466.86" y1="1109.29" x2="1668.29" y2="1109.29" stroke="#000" stroke-width="1.9" />
<text x="1672.93" y="1098.57" font-size="26" text-anchor="end" fill="#000" ><tspan font-size="22.88" letter-spacing="1.21" dy="-0.8">***</tspan><tspan dy="0.8"> p=0.0002</tspan></text>
<line x1="1521.86" y1="1153.93" x2="1667.57" y2="1153.93" stroke="#000" stroke-width="1.9" />
<text x="1672.93" y="1143.21" font-size="26" text-anchor="end" fill="#000" ><tspan font-size="22.88" letter-spacing="1.21" dy="-0.8">***</tspan><tspan dy="0.8"> p=0.0004</tspan></text>
<line x1="1613.29" y1="1198.21" x2="1669.71" y2="1198.21" stroke="#000" stroke-width="1.9" />
<text x="1672.93" y="1188.21" font-size="26" text-anchor="end" fill="#000" ><tspan font-size="22.88" letter-spacing="1.21" dy="-0.8">*</tspan><tspan dy="0.8"> p=0.0363</tspan></text>
<line x1="1753.29" y1="1107.14" x2="1955.07" y2="1107.14" stroke="#000" stroke-width="1.9" />
<text x="1955.79" y="1098.57" font-size="26" text-anchor="end" fill="#000" ><tspan font-size="22.88" letter-spacing="1.21" dy="-0.8">**</tspan><tspan dy="0.8"> p=0.0050</tspan></text>
<line x1="1808.64" y1="1152.14" x2="1955.07" y2="1152.14" stroke="#000" stroke-width="1.9" />
<text x="1955.79" y="1143.21" font-size="26" text-anchor="end" fill="#000" ><tspan font-size="22.88" letter-spacing="1.21" dy="-0.8">**</tspan><tspan dy="0.8"> p=0.0049</tspan></text>
<line x1="1900.43" y1="1196.43" x2="1955.07" y2="1196.43" stroke="#000" stroke-width="1.9" />
<text x="1955.79" y="1186.07" font-size="26" text-anchor="end" fill="#000" ><tspan font-size="22.88" letter-spacing="1.21" dy="-0.8">**</tspan><tspan dy="0.8"> p=0.0093</tspan></text>
<text x="1579.54" y="1486.4" font-size="26" text-anchor="middle" fill="#000" >Primary tumors</text>
<text x="1875.07" y="1486.4" font-size="26" text-anchor="middle" fill="#000" >Abscopal tumors</text>
<text x="1384.8" y="1257.5" font-size="26" text-anchor="middle" fill="#000" transform="rotate(-90 1384.8 1257.5)" >Ratio of CD8<tspan dy="-8.6" font-size="68%">+</tspan><tspan dy="8.6"> T/Treg</tspan></text>
</g>
<g id="panel-j">
<text x="0" y="1561.4" font-size="24.5" text-anchor="start" font-weight="bold" fill="#000" >j</text>
<text x="207.2" y="1575.7" font-size="26" text-anchor="middle" fill="#000" >PBS</text>
<text x="457.9" y="1575.7" font-size="26" text-anchor="middle" fill="#000" >UNC2025</text>
<text x="705.4" y="1575.9" font-size="26" text-anchor="middle" fill="#000" >OMVs</text>
<text x="954.1" y="1575" font-size="26" text-anchor="middle" fill="#000" >U@OMVs</text>
<text x="1202.4" y="1577" font-size="26" text-anchor="middle" fill="#000" >mU@OMVs</text>
<text x="35.7" y="1680" font-size="26" text-anchor="middle" fill="#000" transform="rotate(-90 35.7 1680)" >Primary</text>
<text x="67" y="1680" font-size="26" text-anchor="middle" fill="#000" transform="rotate(-90 67 1680)" >tumors</text>
<text x="35.7" y="1887" font-size="26" text-anchor="middle" fill="#000" transform="rotate(-90 35.7 1887)" >Abscopal</text>
<text x="67" y="1887" font-size="26" text-anchor="middle" fill="#000" transform="rotate(-90 67 1887)" >tumors</text>
<g clip-path="url(#cp00)">
<rect x="89.3" y="1601.7" width="235.8" height="182.5" fill="#03032a" stroke="none" stroke-width="1" />
<rect x="89.3" y="1601.7" width="235.8" height="182.5" fill="#000" stroke="none" stroke-width="1" filter="url(#fb00)"/>
</g>
<g clip-path="url(#cp01)">
<rect x="89.3" y="1801.5" width="235.8" height="182.7" fill="#03032a" stroke="none" stroke-width="1" />
<rect x="89.3" y="1801.5" width="235.8" height="182.7" fill="#000" stroke="none" stroke-width="1" filter="url(#fb01)"/>
<g fill="none" stroke-linecap="round" filter="url(#blr0)">
<path d="M103.2 1825.7h0M101.1 1821.4h0M94.5 1816.4h0M103.5 1804.8h0M103.1 1826.9h0M113.1 1829.6h0M105.1 1820.1h0M104.8 1811.7h0M102.5 1821.5h0M99.2 1810.5h0M107.1 1820.6h0M111.9 1821.1h0M101.5 1840.1h0" stroke="#49b9d6" stroke-width="2.5" opacity="0.85"/>
<path d="M103.2 1825.7h0M101.1 1821.4h0M94.5 1816.4h0M103.5 1804.8h0M103.1 1826.9h0" stroke="#d0f7ee" stroke-width="1.5"/>
</g>
</g>
<g clip-path="url(#cp10)">
<rect x="337.9" y="1601.7" width="236" height="182.5" fill="#03032a" stroke="none" stroke-width="1" />
<rect x="337.9" y="1601.7" width="236" height="182.5" fill="#000" stroke="none" stroke-width="1" filter="url(#fb10)"/>
<ellipse cx="566.82" cy="1610.83" rx="11.8" ry="12.78" fill="#010110" opacity="0.9" filter="url(#blr)"/>
<ellipse cx="344.98" cy="1738.58" rx="9.44" ry="10.95" fill="#010110" opacity="0.8" filter="url(#blr)"/>
<ellipse cx="543.22" cy="1661.92" rx="7.08" ry="5.47" fill="#010110" opacity="0.7" filter="url(#blr)"/>
<ellipse cx="557.38" cy="1623.6" rx="11.8" ry="9.12" fill="#010110" opacity="0.6" filter="url(#blr)"/>
<g fill="none" stroke-linecap="round" filter="url(#blr0)">
<path d="M441.1 1734.3h0M450.6 1741.8h0M405.7 1730.3h0M413.2 1700.2h0M486.3 1716.3h0M509.1 1691.0h0M446.9 1676.1h0M475.5 1692.5h0M499.0 1711.8h0M410.4 1713.2h0M496.5 1692.7h0M482.1 1731.8h0M473.6 1674.5h0M461.5 1697.9h0M437.7 1726.0h0M436.9 1702.8h0M476.5 1692.2h0M523.7 1705.6h0M423.1 1680.2h0M485.3 1691.1h0M499.1 1710.7h0M389.7 1700.9h0M442.8 1729.4h0M481.9 1743.8h0M468.3 1725.3h0M405.4 1733.5h0M518.2 1692.5h0M450.5 1768.0h0M432.9 1678.8h0M521.2 1679.2h0M510.4 1714.6h0M459.5 1686.1h0M425.4 1709.1h0M422.2 1726.1h0M465.5 1725.4h0M462.9 1685.9h0M461.6 1725.4h0M490.6 1720.5h0M482.3 1705.0h0M473.6 1663.4h0M517.6 1674.3h0M448.1 1704.7h0M420.4 1688.4h0M482.6 1672.9h0M409.2 1728.6h0M456.9 1676.4h0M492.3 1746.0h0M440.3 1753.5h0M467.3 1672.1h0M419.1 1734.8h0M516.5 1707.4h0M524.1 1751.3h0M408.6 1712.1h0M456.8 1758.8h0M447.4 1675.7h0M538.0 1736.1h0M438.5 1677.3h0M539.3 1702.2h0M525.2 1691.5h0M498.4 1728.9h0" stroke="#49b9d6" stroke-width="2.0" opacity="0.6"/>
<path d="M441.1 1734.3h0M450.6 1741.8h0M405.7 1730.3h0M413.2 1700.2h0M486.3 1716.3h0M509.1 1691.0h0M446.9 1676.1h0M475.5 1692.5h0M499.0 1711.8h0M410.4 1713.2h0M496.5 1692.7h0M482.1 1731.8h0M473.6 1674.5h0M461.5 1697.9h0M437.7 1726.0h0M436.9 1702.8h0M476.5 1692.2h0M523.7 1705.6h0M423.1 1680.2h0M485.3 1691.1h0M499.1 1710.7h0M389.7 1700.9h0M442.8 1729.4h0M481.9 1743.8h0M468.3 1725.3h0M405.4 1733.5h0M518.2 1692.5h0" stroke="#d0f7ee" stroke-width="1.5"/>
</g>
<g fill="#7df0c0" filter="url(#blr0)">
<circle cx="384.16" cy="1635.28" r="2.2"/>
<circle cx="361.5" cy="1643.31" r="1.8"/>
<circle cx="360.32" cy="1649.88" r="1.6"/>
<circle cx="365.51" cy="1659.01" r="1.8"/>
<circle cx="348.52" cy="1708.1" r="1.8"/>
<circle cx="428.76" cy="1615.39" r="1.3"/>
<circle cx="473.6" cy="1644.59" r="1.7"/>
<circle cx="515.84" cy="1645.87" r="1.4"/>
<circle cx="428.76" cy="1690.76" r="1.5"/>
<circle cx="477.61" cy="1686.93" r="1.8"/>
<circle cx="484.22" cy="1692.77" r="1.8"/>
<circle cx="531.66" cy="1690.03" r="2.4"/>
<circle cx="547.47" cy="1696.05" r="1.4"/>
<circle cx="450" cy="1678.9" r="1.3"/>
<circle cx="465.81" cy="1680.17" r="1.3"/>
<circle cx="422.39" cy="1717.22" r="1.5"/>
<circle cx="406.34" cy="1721.24" r="1.4"/>
<circle cx="492.24" cy="1726.53" r="1.5"/>
<circle cx="517.26" cy="1727.81" r="1.5"/>
<circle cx="556.67" cy="1752.99" r="1.5"/>
<circle cx="464.4" cy="1752.99" r="1.3"/>
<circle cx="393.36" cy="1628.71" r="1.2"/>
<circle cx="382.74" cy="1664.3" r="1.2"/>
<circle cx="395.96" cy="1614.11" r="1.2"/>
<circle cx="493.66" cy="1684.19" r="1.3"/>
<circle cx="434.66" cy="1605.35" r="1.2"/>
<circle cx="375.66" cy="1765.95" r="1.1"/>
<circle cx="394.54" cy="1775.08" r="1.1"/>
<circle cx="521.98" cy="1769.6" r="1.1"/>
<circle cx="460.62" cy="1703.9" r="1.2"/>
</g>
</g>
<g clip-path="url(#cp11)">
<rect x="337.9" y="1801.5" width="236" height="182.7" fill="#03032a" stroke="none" stroke-width="1" />
<rect x="337.9" y="1801.5" width="236" height="182.7" fill="#000" stroke="none" stroke-width="1" filter="url(#fb11)"/>
<ellipse cx="453.54" cy="1850.83" rx="23.6" ry="4.57" fill="#010110" opacity="0.9" filter="url(#blr)"/>
<ellipse cx="408.7" cy="1901.99" rx="11.8" ry="5.48" fill="#010110" opacity="0.5" filter="url(#blr)"/>
<g fill="#9af0d0" filter="url(#blr0)">
<circle cx="526.7" cy="1819.77" r="1.6"/>
<circle cx="500.74" cy="1821.6" r="1.2"/>
<circle cx="559.74" cy="1817.94" r="1.2"/>
<circle cx="517.26" cy="1892.85" r="1.0"/>
<circle cx="484.22" cy="1960.45" r="1.0"/>
</g>
</g>
<g clip-path="url(#cp20)">
<rect x="586.6" y="1601.7" width="234.8" height="182.5" fill="#03032a" stroke="none" stroke-width="1" />
<rect x="586.6" y="1601.7" width="234.8" height="182.5" fill="#000" stroke="none" stroke-width="1" filter="url(#fb20)"/>
<ellipse cx="624.17" cy="1652.8" rx="37.57" ry="23.73" fill="#1f8f9f" opacity="0.55" filter="url(#blr2)"/>
<ellipse cx="591.3" cy="1638.2" rx="9.39" ry="10.95" fill="#2fb0c0" opacity="0.7" filter="url(#blr2)"/>
<ellipse cx="727.48" cy="1678.35" rx="51.66" ry="23.73" fill="#1f7f9f" opacity="0.4" filter="url(#blr2)"/>
<ellipse cx="786.18" cy="1733.1" rx="28.18" ry="25.55" fill="#1f8f9f" opacity="0.45" filter="url(#blr2)"/>
<ellipse cx="595.99" cy="1771.43" rx="14.09" ry="10.95" fill="#2fa0b0" opacity="0.6" filter="url(#blr2)"/>
<ellipse cx="692.26" cy="1629.08" rx="28.18" ry="18.25" fill="#1f7f9f" opacity="0.35" filter="url(#blr2)"/>
<ellipse cx="610.08" cy="1683.83" rx="23.48" ry="16.43" fill="#010110" opacity="0.85" filter="url(#blr)"/>
<ellipse cx="605.38" cy="1760.48" rx="18.78" ry="7.3" fill="#010110" opacity="0.8" filter="url(#blr)"/>
<ellipse cx="704" cy="1738.58" rx="23.48" ry="18.25" fill="#010110" opacity="0.8" filter="url(#blr)"/>
<ellipse cx="779.14" cy="1629.08" rx="14.09" ry="14.6" fill="#010110" opacity="0.8" filter="url(#blr)"/>
<ellipse cx="804.96" cy="1665.58" rx="11.74" ry="9.12" fill="#010110" opacity="0.7" filter="url(#blr)"/>
<ellipse cx="657.04" cy="1714.85" rx="14.09" ry="9.12" fill="#010110" opacity="0.7" filter="url(#blr)"/>
<ellipse cx="652.34" cy="1616.3" rx="18.78" ry="9.12" fill="#010110" opacity="0.6" filter="url(#blr)"/>
<ellipse cx="746.26" cy="1714.85" rx="11.74" ry="9.12" fill="#010110" opacity="0.6" filter="url(#blr)"/>
<g fill="none" stroke-linecap="round" filter="url(#blr0)">
<path d="M629.4 1743.6h0M672.5 1696.7h0M659.1 1676.6h0M598.1 1737.1h0M724.0 1625.2h0M769.5 1697.4h0M587.6 1674.4h0M791.0 1700.9h0M613.5 1666.6h0M717.4 1632.1h0M791.5 1694.1h0M650.3 1690.5h0M635.2 1708.8h0M752.1 1690.7h0M704.1 1774.2h0M685.7 1695.2h0M676.5 1761.3h0M664.4 1748.2h0M622.7 1731.4h0M642.4 1701.6h0M634.0 1672.7h0M784.5 1663.6h0M785.2 1734.5h0M767.3 1654.1h0M756.6 1757.8h0M665.7 1635.8h0M797.6 1743.7h0M628.2 1726.8h0M813.9 1755.2h0M751.5 1694.5h0M648.6 1656.0h0M683.5 1647.3h0M735.3 1738.8h0M684.7 1626.9h0M759.0 1653.7h0M808.2 1767.2h0M625.9 1617.7h0M709.9 1711.4h0M784.3 1605.0h0M790.3 1699.2h0M715.6 1755.4h0M632.2 1694.2h0M620.4 1711.1h0M793.4 1745.7h0M695.0 1614.6h0M747.7 1677.2h0M600.3 1666.5h0M762.1 1628.4h0M624.4 1717.8h0M604.1 1652.1h0M620.2 1632.5h0M661.8 1725.3h0M674.4 1762.8h0M705.1 1707.2h0M798.7 1707.2h0M652.0 1672.5h0M732.2 1620.5h0M749.8 1664.3h0M773.1 1738.8h0M746.1 1633.2h0M761.4 1688.2h0M793.9 1642.8h0M659.9 1606.8h0M681.5 1759.4h0M761.2 1725.7h0M737.1 1702.8h0M818.6 1648.1h0M813.1 1732.7h0M608.1 1619.4h0M802.2 1728.1h0M622.3 1649.0h0M775.2 1729.8h0M742.5 1739.3h0M699.7 1643.7h0M705.6 1612.8h0M788.8 1663.8h0M727.8 1668.7h0M676.8 1650.7h0M723.0 1652.3h0M670.2 1645.5h0M632.7 1656.7h0M624.6 1720.6h0M676.8 1689.0h0M815.5 1746.3h0M646.9 1703.4h0M626.6 1631.3h0M806.4 1713.7h0M681.8 1676.9h0M589.1 1622.6h0M696.7 1676.6h0M702.0 1672.0h0M709.0 1655.0h0M683.8 1751.7h0M754.9 1705.7h0M689.4 1640.2h0M793.0 1748.1h0M633.8 1749.2h0M679.0 1705.3h0M685.0 1646.2h0M588.4 1670.0h0M605.3 1663.8h0M710.1 1720.0h0M653.2 1753.4h0M651.4 1760.7h0M656.7 1776.0h0M615.8 1734.7h0M650.1 1744.7h0M772.5 1678.3h0M703.0 1635.0h0M659.8 1653.7h0M681.6 1701.0h0M802.6 1774.6h0M737.6 1683.3h0M666.4 1643.7h0M671.5 1701.3h0M679.1 1714.0h0M671.9 1607.3h0M613.3 1608.1h0M648.6 1706.3h0M665.6 1724.6h0M758.2 1687.9h0M654.7 1770.0h0M785.9 1708.3h0M801.4 1712.4h0M791.1 1725.8h0M653.0 1725.9h0M599.3 1632.5h0M635.9 1709.0h0M662.3 1661.0h0M646.4 1752.1h0M587.7 1648.9h0M801.9 1728.8h0M766.9 1761.1h0M654.7 1684.8h0M707.2 1637.2h0M593.8 1657.6h0M661.3 1667.9h0M813.6 1699.0h0M639.6 1645.2h0M757.0 1698.9h0M655.0 1780.7h0M752.2 1719.6h0M690.3 1759.0h0M627.6 1762.7h0M643.4 1713.1h0M674.9 1775.9h0M727.0 1643.8h0M611.3 1742.3h0M682.8 1772.7h0M652.9 1654.5h0M618.6 1742.0h0M777.6 1722.7h0M677.9 1781.6h0M594.2 1667.0h0M633.8 1717.5h0M745.8 1687.9h0M800.1 1709.1h0M756.1 1708.3h0M681.8 1657.8h0M689.4 1699.7h0M623.3 1647.6h0M759.8 1695.8h0M780.7 1621.9h0M612.6 1748.9h0M731.7 1665.5h0M774.1 1742.9h0M783.9 1688.4h0M680.0 1632.6h0M645.0 1706.8h0M697.0 1703.2h0M687.7 1618.5h0M683.8 1768.6h0M810.5 1686.1h0M632.4 1727.2h0M632.1 1760.1h0M629.1 1684.6h0M764.6 1694.4h0M747.6 1671.9h0M753.4 1659.7h0M760.8 1755.6h0M719.3 1606.8h0M810.1 1756.2h0M805.3 1753.2h0M718.7 1643.7h0M759.0 1715.8h0M786.2 1679.5h0M730.5 1656.8h0M633.3 1628.3h0M776.3 1728.8h0M689.4 1707.6h0M794.9 1718.9h0M693.9 1705.5h0M723.9 1698.7h0M664.4 1742.7h0M730.3 1670.5h0M721.2 1603.4h0M616.0 1657.5h0M631.6 1775.0h0M779.3 1741.6h0M809.6 1691.6h0M612.6 1643.5h0M711.4 1649.2h0M604.4 1637.0h0M676.0 1753.6h0M797.6 1729.4h0M695.8 1665.8h0M709.2 1767.1h0M800.6 1743.2h0M763.2 1713.6h0M690.0 1643.6h0M611.2 1661.7h0M745.7 1679.6h0M607.0 1650.5h0M598.4 1660.8h0M620.2 1640.8h0M662.9 1747.1h0M726.3 1668.3h0M592.5 1700.0h0M731.4 1701.6h0M622.1 1602.9h0M709.0 1641.1h0M701.7 1687.6h0M715.8 1629.2h0M592.9 1638.2h0M715.7 1619.5h0M748.1 1696.3h0M669.3 1691.4h0M653.1 1764.1h0M638.4 1760.8h0M762.3 1663.7h0M702.7 1683.1h0M765.9 1689.7h0M690.0 1774.5h0M590.5 1696.7h0M664.5 1701.4h0M784.7 1731.2h0M711.5 1687.8h0M635.4 1664.6h0M588.5 1654.0h0M815.3 1735.4h0M771.4 1721.2h0M607.9 1675.9h0M790.1 1762.0h0M621.8 1667.9h0M631.7 1699.9h0M656.3 1633.4h0M743.7 1664.3h0M732.6 1647.4h0M782.4 1749.0h0M719.6 1690.9h0M789.0 1738.4h0M663.1 1651.2h0M770.1 1730.5h0M603.5 1750.1h0M751.5 1662.8h0M700.7 1628.3h0M704.0 1603.2h0M641.2 1632.3h0M756.2 1774.2h0M638.6 1642.1h0M635.6 1677.6h0M696.1 1674.3h0M648.5 1612.9h0M599.9 1640.6h0M708.4 1639.9h0M740.3 1664.3h0M664.2 1737.2h0M781.4 1758.5h0M727.9 1707.6h0M670.4 1683.4h0M680.9 1662.6h0M591.2 1659.0h0M646.7 1639.8h0M651.2 1636.2h0M614.3 1696.1h0M643.4 1715.4h0M612.5 1641.6h0M711.2 1660.9h0M688.2 1620.6h0M789.7 1641.5h0M797.3 1743.7h0M629.4 1640.9h0M783.6 1707.6h0M681.8 1735.9h0M795.3 1743.1h0M803.3 1742.5h0M783.6 1667.5h0M705.2 1691.7h0M621.2 1627.5h0M657.9 1725.3h0M627.8 1702.1h0M773.9 1713.0h0M682.1 1748.5h0M732.0 1631.5h0M819.7 1680.8h0M806.5 1685.2h0M743.7 1642.3h0M724.7 1694.4h0M657.6 1723.7h0M759.4 1669.3h0M615.2 1638.1h0M589.4 1655.5h0M729.6 1686.2h0M735.3 1607.3h0M816.5 1650.5h0M658.9 1657.6h0M645.4 1683.9h0M630.0 1670.5h0M698.1 1771.1h0M722.8 1681.0h0M808.5 1617.5h0M752.9 1750.2h0M665.3 1659.4h0M638.1 1721.5h0M632.4 1675.6h0M677.3 1629.3h0M678.0 1734.9h0M699.1 1728.5h0M807.8 1651.1h0M789.8 1717.2h0M734.8 1687.4h0M695.4 1756.6h0M692.2 1695.5h0M689.0 1712.1h0M752.6 1651.8h0M649.6 1698.4h0M765.2 1749.9h0M610.0 1703.7h0M681.5 1734.6h0M781.5 1719.9h0M698.5 1633.2h0M794.4 1739.7h0M649.1 1654.5h0M723.5 1636.8h0M768.0 1675.0h0M691.9 1699.5h0M782.1 1689.3h0M632.6 1669.2h0M603.5 1650.4h0M660.5 1662.9h0M675.3 1640.5h0M647.5 1650.6h0M591.4 1698.0h0M685.5 1687.5h0M675.4 1643.9h0M765.2 1690.7h0M632.4 1754.4h0M701.9 1602.9h0M703.1 1711.9h0M650.6 1659.7h0M659.9 1774.5h0M781.7 1725.0h0M818.4 1729.4h0M712.7 1705.7h0M813.1 1721.3h0M692.7 1612.6h0M771.4 1761.5h0M760.4 1773.7h0M594.7 1647.3h0M755.4 1663.6h0M762.0 1713.7h0M778.6 1638.0h0M604.1 1629.9h0M686.0 1646.1h0M738.2 1650.4h0M760.2 1638.8h0M634.8 1692.5h0M677.3 1720.3h0M628.5 1777.6h0M654.0 1669.8h0M816.3 1708.4h0M686.3 1726.3h0M761.6 1773.5h0M676.2 1613.2h0M603.2 1776.2h0M738.4 1734.5h0M648.0 1647.7h0M667.1 1641.3h0M782.7 1653.5h0M738.4 1614.2h0M722.1 1771.6h0M701.9 1630.0h0M725.9 1670.6h0M597.2 1726.0h0M689.0 1625.1h0M810.5 1608.8h0M682.5 1752.3h0M692.1 1708.0h0M709.5 1687.3h0M798.8 1690.3h0M712.2 1702.7h0M679.0 1621.1h0M686.9 1618.9h0M808.4 1743.9h0M646.5 1647.8h0M745.4 1678.7h0M630.0 1668.9h0M709.8 1721.2h0M737.6 1657.0h0M673.1 1629.5h0M678.5 1630.4h0M753.1 1721.7h0M599.2 1724.3h0M590.9 1646.1h0M627.7 1670.4h0M721.5 1684.1h0M667.7 1740.1h0M746.1 1674.6h0M600.0 1646.9h0M739.6 1687.9h0M771.9 1649.8h0M761.5 1745.7h0M602.0 1641.1h0M764.6 1733.0h0M633.6 1630.6h0M696.7 1618.9h0M739.7 1680.1h0M759.5 1739.7h0M680.7 1718.5h0M628.7 1671.4h0M720.7 1648.4h0M630.2 1665.7h0M718.7 1701.1h0M735.3 1669.3h0M613.1 1686.4h0M662.1 1674.8h0M723.1 1757.3h0M786.7 1725.3h0M745.0 1746.1h0M656.0 1650.7h0M790.5 1720.1h0M589.5 1725.2h0M640.4 1752.8h0M672.8 1603.2h0M685.0 1644.3h0M588.6 1637.0h0M804.1 1734.8h0M801.4 1742.7h0M784.9 1726.8h0M686.8 1660.3h0M644.6 1727.9h0M664.5 1661.3h0M739.6 1639.8h0M773.6 1723.3h0M738.6 1747.3h0M708.2 1666.5h0M771.7 1762.4h0M631.1 1668.2h0M682.3 1678.5h0M795.5 1745.9h0M668.1 1769.7h0M642.6 1744.0h0M743.6 1731.9h0M658.9 1674.3h0M749.6 1685.3h0M629.0 1666.8h0M689.2 1770.7h0M716.9 1678.9h0M710.0 1779.0h0M659.9 1604.2h0M776.3 1752.6h0M714.0 1641.4h0M702.1 1687.8h0M619.1 1702.6h0M780.7 1768.9h0M765.5 1732.8h0M735.7 1740.2h0M672.6 1716.3h0M684.9 1715.9h0M685.1 1612.6h0M705.0 1723.7h0M753.8 1756.7h0M746.6 1611.7h0M797.1 1746.2h0M605.8 1625.6h0M744.6 1690.5h0M671.7 1617.8h0M643.7 1770.6h0M591.2 1735.4h0M789.2 1763.3h0M717.9 1687.1h0M611.5 1708.7h0M757.5 1642.4h0M630.6 1629.1h0M697.7 1775.5h0M594.5 1646.1h0M598.9 1643.5h0M624.0 1651.4h0M781.4 1728.4h0M685.0 1635.5h0M674.9 1770.6h0M661.2 1633.7h0M799.6 1734.5h0M689.2 1718.1h0M713.9 1670.3h0M762.8 1647.3h0M666.2 1686.6h0M689.8 1716.2h0M655.0 1636.3h0M707.3 1656.9h0M648.9 1682.5h0M740.0 1643.9h0M683.6 1626.0h0M732.1 1699.7h0M717.3 1683.1h0M702.7 1668.6h0M609.9 1651.1h0M767.3 1714.3h0M758.0 1691.3h0M714.6 1652.1h0M738.9 1645.0h0M787.7 1737.8h0M646.4 1699.5h0M744.6 1700.7h0M739.4 1654.5h0M705.3 1689.1h0M734.9 1679.1h0M817.3 1724.3h0M808.7 1728.6h0M790.3 1729.1h0M591.9 1644.3h0M627.0 1662.4h0M679.4 1622.2h0M815.3 1636.7h0M630.0 1739.1h0M698.0 1610.0h0M709.9 1658.9h0M747.2 1622.3h0M624.5 1639.8h0M667.3 1751.4h0M697.5 1624.4h0M623.1 1666.4h0M690.4 1662.0h0M720.8 1751.8h0M813.1 1754.6h0M640.4 1642.7h0M642.3 1684.3h0M660.1 1642.5h0M815.2 1709.5h0M671.7 1666.8h0M603.5 1637.4h0M614.6 1611.1h0M603.3 1636.6h0M706.9 1621.2h0M733.8 1627.5h0M616.1 1627.5h0M630.8 1651.0h0M781.6 1729.2h0M609.6 1632.6h0M683.9 1760.1h0M647.3 1781.6h0M774.7 1648.2h0M668.2 1733.8h0M695.4 1634.8h0M720.0 1604.1h0M802.0 1645.1h0M722.4 1710.2h0M689.4 1615.8h0M594.3 1638.7h0M738.5 1685.3h0M813.6 1614.1h0M684.3 1669.8h0M658.6 1718.6h0M616.3 1627.1h0M702.0 1708.1h0M679.0 1685.0h0M664.6 1681.7h0M815.3 1745.6h0M665.7 1733.7h0M720.7 1657.3h0M702.1 1732.8h0M634.2 1630.8h0M630.1 1733.8h0M786.2 1611.3h0M794.3 1782.6h0M739.9 1646.1h0M687.6 1640.7h0M657.3 1761.2h0M656.8 1694.6h0M760.8 1704.3h0M754.3 1686.8h0M675.7 1659.3h0M734.7 1698.7h0M669.6 1645.1h0M718.7 1668.7h0M731.0 1724.4h0M617.7 1642.6h0M724.4 1690.0h0M699.8 1691.7h0M667.5 1671.8h0M730.5 1689.2h0M666.2 1639.3h0M758.5 1724.6h0M595.3 1699.0h0M626.1 1727.3h0M727.7 1690.8h0M819.9 1706.3h0M627.6 1661.8h0M732.8 1646.7h0M672.0 1717.4h0M818.5 1604.8h0M640.4 1749.8h0M589.5 1703.2h0M796.2 1741.0h0M784.2 1714.7h0M669.6 1649.5h0M711.2 1778.5h0M777.3 1692.5h0M707.0 1778.4h0M773.2 1700.1h0M710.1 1660.4h0M788.8 1760.0h0M635.9 1656.6h0M749.3 1677.0h0M704.0 1621.7h0M687.6 1681.2h0M743.1 1624.4h0M753.3 1646.9h0M702.6 1656.8h0M732.1 1750.1h0M712.7 1758.9h0M782.9 1692.3h0M726.1 1663.1h0M738.9 1695.6h0M764.7 1734.3h0M776.2 1726.2h0M682.0 1634.7h0M756.7 1641.1h0M696.0 1730.2h0M776.0 1750.1h0M613.4 1773.1h0M789.2 1738.2h0M758.2 1733.6h0M588.1 1749.7h0M658.1 1674.6h0M662.8 1680.7h0M682.6 1616.9h0M663.7 1664.9h0M645.9 1651.7h0M726.7 1727.1h0M715.2 1764.4h0M681.9 1715.1h0M628.8 1628.7h0M707.3 1634.1h0M636.8 1669.4h0M625.2 1644.2h0M631.7 1646.6h0M657.1 1664.7h0M680.0 1632.8h0M685.3 1613.2h0M759.9 1641.8h0M739.1 1676.3h0M711.9 1606.9h0M819.1 1728.9h0M693.4 1671.3h0M644.7 1775.2h0M690.3 1624.6h0M778.6 1727.5h0M612.6 1710.6h0M695.6 1676.3h0M636.6 1716.1h0M734.6 1616.9h0M764.3 1747.0h0M782.5 1692.5h0M739.8 1697.2h0M632.0 1751.9h0M672.5 1633.0h0M800.2 1741.1h0M691.2 1609.6h0M711.7 1704.9h0M786.2 1719.0h0M743.0 1688.7h0M746.8 1762.5h0M759.6 1731.5h0M783.6 1718.7h0M723.3 1620.7h0M621.3 1671.9h0M650.8 1672.3h0M692.2 1711.0h0M655.6 1775.4h0M749.1 1697.1h0M640.3 1761.7h0M693.2 1689.7h0M637.0 1654.4h0M803.8 1748.7h0M735.6 1689.8h0M761.3 1606.4h0M643.4 1736.8h0M680.5 1644.7h0M618.6 1667.7h0M598.2 1724.0h0M695.8 1644.3h0M691.7 1622.6h0M672.2 1673.5h0M687.6 1661.3h0M641.5 1751.0h0M645.8 1634.4h0M792.3 1682.4h0M648.8 1697.2h0M798.4 1700.0h0M777.8 1763.1h0M717.0 1692.2h0M808.2 1706.9h0M758.5 1728.5h0M648.5 1637.8h0M661.4 1668.3h0M602.0 1644.7h0M640.3 1635.9h0M748.4 1759.5h0M714.8 1628.4h0M712.5 1770.6h0M633.1 1658.6h0M673.4 1651.4h0M754.8 1686.8h0M731.0 1662.6h0M708.6 1676.2h0M796.8 1718.6h0M791.1 1750.8h0M815.2 1762.7h0M670.0 1742.0h0M647.8 1734.1h0M725.7 1700.6h0M688.5 1630.4h0M729.0 1667.2h0M788.0 1687.4h0M721.7 1617.2h0M664.6 1629.1h0M757.2 1730.4h0M649.1 1736.7h0M696.4 1675.2h0M678.8 1754.8h0M628.0 1653.5h0M784.0 1653.2h0M651.3 1741.0h0M737.3 1700.6h0M597.6 1706.6h0M785.8 1761.0h0M737.1 1665.4h0M695.0 1618.2h0M747.8 1776.8h0M758.7 1710.7h0M624.6 1645.4h0M810.8 1639.8h0M633.9 1779.2h0M679.4 1613.8h0M744.1 1748.2h0M681.9 1666.7h0M734.7 1754.9h0M601.4 1654.6h0M644.2 1632.9h0" stroke="#49b9d6" stroke-width="2.5" opacity="0.85"/>
<path d="M629.4 1743.6h0M672.5 1696.7h0M659.1 1676.6h0M598.1 1737.1h0M724.0 1625.2h0M769.5 1697.4h0M587.6 1674.4h0M791.0 1700.9h0M613.5 1666.6h0M717.4 1632.1h0M791.5 1694.1h0M650.3 1690.5h0M635.2 1708.8h0M752.1 1690.7h0M704.1 1774.2h0M685.7 1695.2h0M676.5 1761.3h0M664.4 1748.2h0M622.7 1731.4h0M642.4 1701.6h0M634.0 1672.7h0M784.5 1663.6h0M785.2 1734.5h0M767.3 1654.1h0M756.6 1757.8h0M665.7 1635.8h0M797.6 1743.7h0M628.2 1726.8h0M813.9 1755.2h0M751.5 1694.5h0M648.6 1656.0h0M683.5 1647.3h0M735.3 1738.8h0M684.7 1626.9h0M759.0 1653.7h0M808.2 1767.2h0M625.9 1617.7h0M709.9 1711.4h0M784.3 1605.0h0M790.3 1699.2h0M715.6 1755.4h0M632.2 1694.2h0M620.4 1711.1h0M793.4 1745.7h0M695.0 1614.6h0M747.7 1677.2h0M600.3 1666.5h0M762.1 1628.4h0M624.4 1717.8h0M604.1 1652.1h0M620.2 1632.5h0M661.8 1725.3h0M674.4 1762.8h0M705.1 1707.2h0M798.7 1707.2h0M652.0 1672.5h0M732.2 1620.5h0M749.8 1664.3h0M773.1 1738.8h0M746.1 1633.2h0M761.4 1688.2h0M793.9 1642.8h0M659.9 1606.8h0M681.5 1759.4h0M761.2 1725.7h0M737.1 1702.8h0M818.6 1648.1h0M813.1 1732.7h0M608.1 1619.4h0M802.2 1728.1h0M622.3 1649.0h0M775.2 1729.8h0M742.5 1739.3h0M699.7 1643.7h0M705.6 1612.8h0M788.8 1663.8h0M727.8 1668.7h0M676.8 1650.7h0M723.0 1652.3h0M670.2 1645.5h0M632.7 1656.7h0M624.6 1720.6h0M676.8 1689.0h0M815.5 1746.3h0M646.9 1703.4h0M626.6 1631.3h0M806.4 1713.7h0M681.8 1676.9h0M589.1 1622.6h0M696.7 1676.6h0M702.0 1672.0h0M709.0 1655.0h0M683.8 1751.7h0M754.9 1705.7h0M689.4 1640.2h0M793.0 1748.1h0M633.8 1749.2h0M679.0 1705.3h0M685.0 1646.2h0M588.4 1670.0h0M605.3 1663.8h0M710.1 1720.0h0M653.2 1753.4h0M651.4 1760.7h0M656.7 1776.0h0M615.8 1734.7h0M650.1 1744.7h0M772.5 1678.3h0M703.0 1635.0h0M659.8 1653.7h0M681.6 1701.0h0M802.6 1774.6h0M737.6 1683.3h0M666.4 1643.7h0M671.5 1701.3h0M679.1 1714.0h0M671.9 1607.3h0M613.3 1608.1h0M648.6 1706.3h0M665.6 1724.6h0M758.2 1687.9h0M654.7 1770.0h0M785.9 1708.3h0M801.4 1712.4h0M791.1 1725.8h0M653.0 1725.9h0M599.3 1632.5h0M635.9 1709.0h0M662.3 1661.0h0M646.4 1752.1h0M587.7 1648.9h0M801.9 1728.8h0M766.9 1761.1h0M654.7 1684.8h0M707.2 1637.2h0M593.8 1657.6h0M661.3 1667.9h0M813.6 1699.0h0M639.6 1645.2h0M757.0 1698.9h0M655.0 1780.7h0M752.2 1719.6h0M690.3 1759.0h0M627.6 1762.7h0M643.4 1713.1h0M674.9 1775.9h0M727.0 1643.8h0M611.3 1742.3h0M682.8 1772.7h0M652.9 1654.5h0M618.6 1742.0h0M777.6 1722.7h0M677.9 1781.6h0M594.2 1667.0h0M633.8 1717.5h0M745.8 1687.9h0M800.1 1709.1h0M756.1 1708.3h0M681.8 1657.8h0M689.4 1699.7h0M623.3 1647.6h0M759.8 1695.8h0M780.7 1621.9h0M612.6 1748.9h0M731.7 1665.5h0M774.1 1742.9h0M783.9 1688.4h0M680.0 1632.6h0M645.0 1706.8h0M697.0 1703.2h0M687.7 1618.5h0M683.8 1768.6h0M810.5 1686.1h0M632.4 1727.2h0M632.1 1760.1h0M629.1 1684.6h0M764.6 1694.4h0M747.6 1671.9h0M753.4 1659.7h0M760.8 1755.6h0M719.3 1606.8h0M810.1 1756.2h0M805.3 1753.2h0M718.7 1643.7h0M759.0 1715.8h0M786.2 1679.5h0M730.5 1656.8h0M633.3 1628.3h0M776.3 1728.8h0M689.4 1707.6h0M794.9 1718.9h0M693.9 1705.5h0M723.9 1698.7h0M664.4 1742.7h0M730.3 1670.5h0M721.2 1603.4h0M616.0 1657.5h0M631.6 1775.0h0M779.3 1741.6h0M809.6 1691.6h0M612.6 1643.5h0M711.4 1649.2h0M604.4 1637.0h0M676.0 1753.6h0M797.6 1729.4h0M695.8 1665.8h0M709.2 1767.1h0M800.6 1743.2h0M763.2 1713.6h0M690.0 1643.6h0M611.2 1661.7h0M745.7 1679.6h0M607.0 1650.5h0M598.4 1660.8h0M620.2 1640.8h0M662.9 1747.1h0M726.3 1668.3h0M592.5 1700.0h0M731.4 1701.6h0M622.1 1602.9h0M709.0 1641.1h0M701.7 1687.6h0M715.8 1629.2h0M592.9 1638.2h0M715.7 1619.5h0M748.1 1696.3h0M669.3 1691.4h0M653.1 1764.1h0M638.4 1760.8h0M762.3 1663.7h0M702.7 1683.1h0M765.9 1689.7h0M690.0 1774.5h0M590.5 1696.7h0M664.5 1701.4h0M784.7 1731.2h0M711.5 1687.8h0M635.4 1664.6h0M588.5 1654.0h0M815.3 1735.4h0M771.4 1721.2h0M607.9 1675.9h0M790.1 1762.0h0M621.8 1667.9h0M631.7 1699.9h0M656.3 1633.4h0M743.7 1664.3h0M732.6 1647.4h0M782.4 1749.0h0M719.6 1690.9h0M789.0 1738.4h0M663.1 1651.2h0M770.1 1730.5h0M603.5 1750.1h0M751.5 1662.8h0M700.7 1628.3h0M704.0 1603.2h0M641.2 1632.3h0M756.2 1774.2h0M638.6 1642.1h0M635.6 1677.6h0M696.1 1674.3h0M648.5 1612.9h0M599.9 1640.6h0M708.4 1639.9h0M740.3 1664.3h0M664.2 1737.2h0M781.4 1758.5h0M727.9 1707.6h0M670.4 1683.4h0M680.9 1662.6h0M591.2 1659.0h0M646.7 1639.8h0M651.2 1636.2h0M614.3 1696.1h0M643.4 1715.4h0M612.5 1641.6h0M711.2 1660.9h0M688.2 1620.6h0M789.7 1641.5h0M797.3 1743.7h0M629.4 1640.9h0M783.6 1707.6h0M681.8 1735.9h0M795.3 1743.1h0M803.3 1742.5h0M783.6 1667.5h0M705.2 1691.7h0M621.2 1627.5h0M657.9 1725.3h0M627.8 1702.1h0M773.9 1713.0h0M682.1 1748.5h0M732.0 1631.5h0M819.7 1680.8h0M806.5 1685.2h0M743.7 1642.3h0M724.7 1694.4h0M657.6 1723.7h0M759.4 1669.3h0M615.2 1638.1h0M589.4 1655.5h0M729.6 1686.2h0M735.3 1607.3h0M816.5 1650.5h0M658.9 1657.6h0M645.4 1683.9h0M630.0 1670.5h0M698.1 1771.1h0M722.8 1681.0h0M808.5 1617.5h0M752.9 1750.2h0M665.3 1659.4h0M638.1 1721.5h0M632.4 1675.6h0M677.3 1629.3h0M678.0 1734.9h0M699.1 1728.5h0M807.8 1651.1h0M789.8 1717.2h0M734.8 1687.4h0M695.4 1756.6h0M692.2 1695.5h0M689.0 1712.1h0M752.6 1651.8h0M649.6 1698.4h0M765.2 1749.9h0M610.0 1703.7h0M681.5 1734.6h0M781.5 1719.9h0M698.5 1633.2h0M794.4 1739.7h0M649.1 1654.5h0M723.5 1636.8h0M768.0 1675.0h0M691.9 1699.5h0M782.1 1689.3h0" stroke="#d0f7ee" stroke-width="1.5"/>
</g>
</g>
<g clip-path="url(#cp21)">
<rect x="586.6" y="1801.5" width="234.8" height="182.7" fill="#03032a" stroke="none" stroke-width="1" />
<rect x="586.6" y="1801.5" width="234.8" height="182.7" fill="#000" stroke="none" stroke-width="1" filter="url(#fb21)"/>
<ellipse cx="715.74" cy="1874.58" rx="42.26" ry="14.62" fill="#1f8f9f" opacity="0.45" filter="url(#blr2)"/>
<ellipse cx="732.18" cy="1929.39" rx="18.78" ry="32.89" fill="#1f8090" opacity="0.35" filter="url(#blr2)"/>
<ellipse cx="595.99" cy="1901.99" rx="8.22" ry="8.22" fill="#2fa0a0" opacity="0.5" filter="url(#blr2)"/>
<ellipse cx="591.3" cy="1978.72" rx="14.09" ry="14.62" fill="#010110" opacity="0.9" filter="url(#blr)"/>
<ellipse cx="696.96" cy="1960.45" rx="14.09" ry="9.14" fill="#010110" opacity="0.85" filter="url(#blr)"/>
<ellipse cx="732.18" cy="1896.5" rx="11.74" ry="7.31" fill="#010110" opacity="0.5" filter="url(#blr)"/>
<g fill="none" stroke-linecap="round" filter="url(#blr0)">
<path d="M792.2 1873.6h0M751.5 1973.9h0M754.8 1861.7h0M742.2 1877.1h0M729.9 1912.2h0M708.9 1842.5h0M752.6 1832.8h0M710.8 1876.4h0M701.3 1900.2h0M601.8 1843.0h0M743.7 1955.3h0M719.4 1864.7h0M587.6 1849.2h0M599.0 1902.2h0M739.4 1960.0h0M609.4 1943.2h0M701.7 1868.8h0M752.3 1843.8h0M743.4 1944.7h0M619.4 1929.2h0M802.9 1832.4h0M698.1 1802.9h0M694.1 1908.3h0M640.4 1856.7h0M740.0 1927.2h0M732.2 1941.8h0M710.7 1822.5h0M730.7 1815.1h0M745.2 1880.7h0M733.3 1871.9h0M703.8 1858.6h0M774.9 1934.3h0M748.6 1924.1h0M684.9 1858.3h0M718.3 1880.5h0M732.5 1929.6h0M762.6 1860.2h0M594.9 1900.7h0M635.4 1877.8h0M656.2 1979.0h0M704.5 1866.9h0M716.6 1932.8h0M755.2 1947.1h0M720.6 1980.0h0M724.4 1919.1h0M735.4 1930.9h0M740.0 1919.5h0M648.7 1921.6h0M602.0 1895.2h0M719.0 1872.3h0M807.2 1978.7h0M689.1 1881.1h0M757.1 1915.1h0M707.0 1883.8h0M679.5 1977.5h0M738.5 1909.9h0M677.8 1871.0h0M756.4 1929.5h0M780.6 1834.8h0M590.3 1895.1h0M742.7 1938.4h0M727.3 1975.8h0M708.1 1879.1h0M742.4 1943.9h0M733.8 1879.4h0M790.0 1821.8h0M648.8 1914.2h0M744.6 1904.0h0M807.4 1926.4h0M741.3 1872.3h0M775.8 1874.8h0M716.5 1883.6h0M685.3 1881.8h0M722.5 1874.9h0M726.5 1909.4h0M732.1 1878.7h0M734.6 1830.1h0M728.3 1869.1h0M725.9 1923.0h0M817.1 1932.0h0M650.2 1909.0h0M731.1 1880.7h0M733.2 1950.0h0M633.0 1850.6h0M722.3 1887.6h0M596.5 1878.7h0M751.2 1937.1h0M691.4 1877.0h0M771.4 1880.1h0M731.9 1952.5h0M617.1 1837.8h0M600.0 1945.3h0M750.0 1920.0h0M719.8 1916.7h0M625.0 1810.3h0M596.0 1896.7h0M752.5 1922.8h0M750.0 1928.5h0M749.7 1870.8h0M716.0 1940.7h0M695.4 1882.2h0M723.2 1960.5h0M684.9 1861.1h0M731.8 1951.3h0M622.4 1946.7h0M765.5 1968.4h0M721.5 1910.9h0M806.6 1876.5h0M709.6 1873.0h0M736.2 1914.0h0M700.2 1870.4h0M730.7 1930.5h0M681.7 1878.2h0M707.2 1857.9h0M746.7 1883.2h0M708.0 1884.4h0M668.7 1862.7h0M795.5 1944.5h0M723.3 1939.0h0M747.7 1874.7h0M750.7 1936.8h0M592.1 1904.9h0M648.1 1846.7h0M735.3 1917.6h0M704.0 1858.1h0M731.7 1950.1h0M727.3 1831.0h0M625.2 1844.2h0M723.4 1924.4h0M688.7 1887.1h0M727.2 1862.9h0M794.4 1857.9h0M719.1 1875.6h0M632.8 1804.2h0M718.8 1857.1h0M714.4 1877.7h0M641.7 1867.9h0M806.8 1898.8h0M724.6 1926.6h0M759.6 1881.2h0M743.5 1911.9h0M747.8 1927.6h0M718.7 1937.2h0M694.5 1868.3h0M736.2 1910.2h0M716.9 1894.6h0M667.1 1953.8h0M731.4 1915.1h0M717.0 1886.9h0M700.3 1855.9h0M609.1 1823.6h0M745.0 1859.9h0M715.4 1886.7h0M743.6 1910.4h0M620.8 1925.1h0M745.9 1932.9h0M630.4 1896.3h0M728.9 1868.6h0M734.2 1907.5h0M620.7 1874.3h0M735.9 1949.3h0M721.8 1876.2h0M634.6 1810.9h0M729.0 1875.5h0M601.2 1914.2h0M700.9 1885.0h0M740.9 1939.1h0M693.7 1860.2h0M735.9 1884.8h0M726.8 1936.8h0M704.0 1866.8h0M709.2 1943.9h0M696.1 1975.3h0M685.3 1882.4h0M686.5 1908.8h0M659.1 1864.4h0M593.6 1830.7h0M597.4 1850.6h0M732.4 1886.6h0M706.3 1857.3h0M739.3 1882.1h0M636.4 1829.1h0M748.1 1876.8h0M601.6 1903.8h0M750.1 1867.6h0M596.7 1869.1h0M761.9 1849.1h0M668.2 1907.9h0M639.4 1937.1h0M700.8 1864.4h0M618.6 1877.4h0M675.0 1870.7h0M708.2 1865.7h0M655.4 1982.4h0M753.7 1920.3h0M729.8 1874.8h0M655.6 1878.1h0M730.6 1873.2h0M669.7 1908.5h0M739.4 1937.3h0M715.9 1940.9h0M810.3 1912.2h0M732.5 1886.8h0M733.6 1835.4h0M682.3 1900.0h0M593.0 1873.9h0M626.1 1973.1h0M726.3 1924.0h0M751.4 1936.2h0M755.8 1966.0h0M623.3 1975.3h0M593.9 1940.6h0M732.3 1906.4h0M732.0 1950.3h0M704.8 1868.3h0M672.9 1864.9h0M722.1 1937.5h0M727.6 1866.3h0M676.0 1816.2h0M735.6 1877.7h0M721.8 1953.1h0M733.5 1861.8h0M625.0 1932.8h0M726.0 1912.1h0M710.6 1865.9h0M692.2 1930.9h0M692.8 1922.1h0M595.0 1847.0h0M738.2 1954.1h0M721.0 1858.0h0M697.0 1827.9h0M731.9 1908.9h0M795.6 1955.8h0M677.5 1878.4h0M707.4 1885.8h0M737.2 1931.9h0M656.1 1874.8h0M688.2 1851.7h0M749.5 1895.9h0M733.8 1938.3h0M745.2 1866.8h0M769.5 1961.5h0M736.7 1956.8h0M713.9 1805.1h0M679.3 1884.9h0M756.3 1876.4h0M805.9 1982.9h0M603.8 1836.4h0M606.3 1899.3h0M693.1 1880.7h0M723.8 1867.2h0M724.0 1878.3h0M708.7 1870.6h0M714.0 1827.5h0M605.8 1872.1h0M708.2 1871.8h0M752.4 1870.8h0M638.8 1854.1h0M711.9 1885.5h0M767.3 1971.4h0" stroke="#49b9d6" stroke-width="2.5" opacity="0.85"/>
<path d="M792.2 1873.6h0M751.5 1973.9h0M754.8 1861.7h0M742.2 1877.1h0M729.9 1912.2h0M708.9 1842.5h0M752.6 1832.8h0M710.8 1876.4h0M701.3 1900.2h0M601.8 1843.0h0M743.7 1955.3h0M719.4 1864.7h0M587.6 1849.2h0M599.0 1902.2h0M739.4 1960.0h0M609.4 1943.2h0M701.7 1868.8h0M752.3 1843.8h0M743.4 1944.7h0M619.4 1929.2h0M802.9 1832.4h0M698.1 1802.9h0M694.1 1908.3h0M640.4 1856.7h0M740.0 1927.2h0M732.2 1941.8h0M710.7 1822.5h0M730.7 1815.1h0M745.2 1880.7h0M733.3 1871.9h0M703.8 1858.6h0M774.9 1934.3h0M748.6 1924.1h0M684.9 1858.3h0M718.3 1880.5h0M732.5 1929.6h0M762.6 1860.2h0M594.9 1900.7h0M635.4 1877.8h0M656.2 1979.0h0M704.5 1866.9h0M716.6 1932.8h0M755.2 1947.1h0M720.6 1980.0h0M724.4 1919.1h0M735.4 1930.9h0M740.0 1919.5h0M648.7 1921.6h0M602.0 1895.2h0M719.0 1872.3h0M807.2 1978.7h0M689.1 1881.1h0M757.1 1915.1h0M707.0 1883.8h0M679.5 1977.5h0M738.5 1909.9h0M677.8 1871.0h0M756.4 1929.5h0M780.6 1834.8h0M590.3 1895.1h0M742.7 1938.4h0M727.3 1975.8h0M708.1 1879.1h0M742.4 1943.9h0M733.8 1879.4h0M790.0 1821.8h0M648.8 1914.2h0M744.6 1904.0h0M807.4 1926.4h0M741.3 1872.3h0M775.8 1874.8h0M716.5 1883.6h0M685.3 1881.8h0M722.5 1874.9h0M726.5 1909.4h0M732.1 1878.7h0M734.6 1830.1h0M728.3 1869.1h0M725.9 1923.0h0M817.1 1932.0h0M650.2 1909.0h0M731.1 1880.7h0M733.2 1950.0h0M633.0 1850.6h0M722.3 1887.6h0M596.5 1878.7h0M751.2 1937.1h0M691.4 1877.0h0M771.4 1880.1h0M731.9 1952.5h0M617.1 1837.8h0M600.0 1945.3h0M750.0 1920.0h0M719.8 1916.7h0M625.0 1810.3h0M596.0 1896.7h0M752.5 1922.8h0M750.0 1928.5h0M749.7 1870.8h0M716.0 1940.7h0M695.4 1882.2h0M723.2 1960.5h0M684.9 1861.1h0M731.8 1951.3h0M622.4 1946.7h0M765.5 1968.4h0M721.5 1910.9h0M806.6 1876.5h0M709.6 1873.0h0M736.2 1914.0h0M700.2 1870.4h0M730.7 1930.5h0M681.7 1878.2h0M707.2 1857.9h0M746.7 1883.2h0M708.0 1884.4h0M668.7 1862.7h0" stroke="#d0f7ee" stroke-width="1.5"/>
</g>
</g>
<g clip-path="url(#cp30)">
<rect x="835.3" y="1600.5" width="235.1" height="182.3" fill="#03032a" stroke="none" stroke-width="1" />
<rect x="835.3" y="1600.5" width="235.1" height="182.3" fill="#000" stroke="none" stroke-width="1" filter="url(#fb30)"/>
<ellipse cx="856.46" cy="1675.24" rx="14.11" ry="9.11" fill="#1a14f0" opacity="0.8" filter="url(#blr)"/>
<ellipse cx="870.56" cy="1718.99" rx="23.51" ry="12.76" fill="#1a14f0" opacity="0.8" filter="url(#blr)"/>
<ellipse cx="959.9" cy="1751.81" rx="37.62" ry="14.58" fill="#1a14f0" opacity="0.8" filter="url(#blr)"/>
<ellipse cx="938.74" cy="1655.19" rx="23.51" ry="18.23" fill="#1a14f0" opacity="0.8" filter="url(#blr)"/>
<ellipse cx="990.47" cy="1616.91" rx="21.16" ry="10.94" fill="#1a14f0" opacity="0.8" filter="url(#blr)"/>
<ellipse cx="1042.19" cy="1618.73" rx="23.51" ry="14.58" fill="#1a14f0" opacity="0.8" filter="url(#blr)"/>
<ellipse cx="1006.92" cy="1715.35" rx="9.4" ry="7.29" fill="#1a14f0" opacity="0.8" filter="url(#blr)"/>
<ellipse cx="870.56" cy="1633.31" rx="39.97" ry="27.34" fill="#1fa08a" opacity="0.6" filter="url(#blr2)"/>
<ellipse cx="1030.43" cy="1680.71" rx="30.56" ry="20.05" fill="#35c8b0" opacity="0.7" filter="url(#blr2)"/>
<ellipse cx="1046.89" cy="1651.54" rx="23.51" ry="12.76" fill="#0f7f4f" opacity="0.55" filter="url(#blr2)"/>
<ellipse cx="981.06" cy="1655.19" rx="18.81" ry="14.58" fill="#1f8f7f" opacity="0.4" filter="url(#blr2)"/>
<ellipse cx="863.51" cy="1691.65" rx="14.11" ry="9.11" fill="#010110" opacity="0.85" filter="url(#blr)"/>
<ellipse cx="847.05" cy="1755.45" rx="11.76" ry="10.94" fill="#010110" opacity="0.8" filter="url(#blr)"/>
<ellipse cx="905.83" cy="1691.65" rx="11.76" ry="9.11" fill="#010110" opacity="0.7" filter="url(#blr)"/>
<ellipse cx="1018.68" cy="1636.96" rx="11.76" ry="7.29" fill="#010110" opacity="0.6" filter="url(#blr)"/>
<ellipse cx="929.34" cy="1724.46" rx="14.11" ry="7.29" fill="#010110" opacity="0.7" filter="url(#blr)"/>
<ellipse cx="976.36" cy="1773.68" rx="28.21" ry="5.47" fill="#010110" opacity="0.8" filter="url(#blr)"/>
<g fill="none" stroke-linecap="round" filter="url(#blr0)">
<path d="M1059.6 1678.3h0M1012.0 1682.4h0M880.2 1762.8h0M1012.6 1667.1h0M936.6 1715.0h0M870.1 1658.5h0M856.0 1712.2h0M989.2 1689.5h0M1063.8 1685.4h0M1067.2 1610.2h0M994.9 1741.5h0M877.6 1636.1h0M959.1 1605.2h0M959.8 1754.3h0M876.8 1625.6h0M918.0 1665.1h0M1033.9 1691.1h0M890.5 1654.6h0M1000.6 1658.8h0M947.6 1669.4h0M966.6 1766.1h0M1035.6 1656.4h0M924.6 1734.1h0M932.4 1701.0h0M1031.8 1641.3h0M982.1 1655.1h0M1023.1 1708.1h0M899.8 1763.7h0M934.9 1642.9h0M862.6 1615.8h0M921.0 1716.3h0M840.4 1611.9h0M986.2 1699.0h0M1011.6 1682.5h0M1031.3 1687.8h0M999.5 1731.9h0M960.9 1702.9h0M1061.4 1687.1h0M977.2 1647.0h0M920.2 1732.1h0M843.0 1645.2h0M1013.5 1738.4h0M871.1 1756.6h0M885.1 1758.6h0M862.5 1631.9h0M939.7 1633.2h0M872.2 1704.5h0M919.8 1650.1h0M1041.3 1754.8h0M856.9 1632.3h0M972.8 1753.1h0M1039.2 1670.5h0M970.1 1754.6h0M893.2 1734.8h0M842.1 1647.7h0M1004.7 1649.3h0M876.3 1745.5h0M1051.4 1686.0h0M1022.8 1696.0h0M912.9 1739.2h0M1008.4 1624.7h0M1040.6 1644.8h0M844.6 1631.6h0M848.3 1602.8h0M958.8 1734.6h0M985.6 1727.3h0M991.7 1714.8h0M985.4 1659.0h0M959.7 1746.6h0M880.3 1773.5h0M871.7 1711.6h0M937.3 1757.0h0M857.6 1637.0h0M997.2 1684.3h0M889.0 1690.3h0M928.9 1646.5h0M993.6 1703.9h0M970.9 1699.5h0M993.6 1680.3h0M1039.6 1706.7h0M1042.7 1705.6h0M923.7 1743.2h0M1031.1 1640.6h0M1033.0 1696.2h0M991.3 1624.0h0M855.5 1616.0h0M1046.5 1692.6h0M993.1 1716.4h0M879.7 1629.0h0M996.9 1740.8h0M943.8 1666.6h0M1043.5 1701.6h0M931.5 1661.7h0M841.6 1639.4h0M967.1 1644.0h0M842.9 1611.5h0M895.5 1771.0h0M954.4 1741.0h0M944.4 1779.2h0M948.8 1663.3h0M937.4 1768.0h0M887.6 1774.3h0M1039.1 1695.6h0M925.6 1767.0h0M872.9 1636.0h0M1031.7 1655.0h0M965.7 1684.2h0M851.2 1715.5h0M912.5 1778.5h0M910.0 1644.7h0M1012.7 1684.1h0M905.4 1744.6h0M927.5 1625.3h0M1021.3 1721.3h0M947.2 1735.1h0M951.5 1777.0h0M988.0 1732.0h0M863.0 1643.8h0M903.1 1664.6h0M1026.7 1675.3h0M860.0 1620.4h0M1041.0 1670.3h0M904.3 1705.9h0M1047.6 1669.8h0M958.5 1728.4h0M1007.1 1688.5h0M955.9 1719.1h0M999.7 1721.0h0M1025.9 1637.7h0M881.2 1651.1h0M851.9 1627.4h0M1019.7 1695.7h0M916.7 1719.2h0M870.5 1654.2h0M972.5 1737.1h0M841.1 1649.4h0M951.1 1781.4h0M1009.3 1643.7h0M1031.4 1774.1h0M845.0 1639.0h0M885.1 1605.7h0M944.4 1714.0h0M920.3 1733.3h0M899.2 1642.3h0M928.1 1633.1h0M851.3 1622.3h0M860.9 1630.2h0M997.9 1646.7h0M1002.7 1695.2h0M1017.2 1663.0h0M866.6 1717.7h0M852.9 1660.5h0M1031.3 1712.0h0M881.3 1632.7h0M870.9 1638.8h0M915.9 1781.0h0M987.2 1691.1h0M945.8 1712.5h0M847.5 1623.3h0M965.7 1603.9h0M880.7 1715.1h0M1045.9 1685.0h0M908.6 1702.0h0M1040.7 1696.3h0M857.4 1652.7h0M894.5 1722.1h0M937.8 1683.3h0M891.1 1774.3h0M923.1 1755.1h0M1029.1 1723.6h0M1049.0 1687.4h0M887.7 1674.0h0M843.4 1641.7h0M898.4 1632.1h0M874.6 1664.7h0M960.8 1763.5h0M894.5 1609.1h0M858.5 1601.5h0M1029.2 1705.6h0M994.5 1728.1h0M1026.5 1729.8h0M899.2 1754.5h0M886.1 1695.9h0M840.0 1626.7h0M1030.5 1685.1h0M987.4 1691.2h0M1033.4 1660.2h0M930.1 1693.8h0M992.2 1747.0h0M1053.7 1655.2h0M952.4 1781.4h0M1049.1 1715.2h0M1028.1 1704.6h0M910.1 1630.7h0M920.3 1750.6h0M1012.1 1759.1h0M1045.8 1729.1h0M925.2 1649.5h0M904.2 1772.5h0M1026.8 1688.4h0M992.9 1702.2h0M840.1 1618.4h0M998.8 1699.9h0M963.7 1737.1h0M977.4 1662.3h0M964.2 1753.1h0M994.4 1764.2h0M997.9 1709.1h0M849.5 1642.5h0M1052.4 1678.3h0M872.1 1617.9h0M1031.4 1690.5h0M956.8 1635.7h0M955.1 1625.6h0M1026.9 1701.4h0M894.0 1686.2h0M949.4 1752.8h0M842.7 1640.5h0M920.3 1694.0h0M1002.4 1700.9h0M965.7 1620.3h0M945.8 1699.4h0M989.1 1673.7h0M908.0 1615.1h0M837.4 1680.2h0M853.1 1635.3h0M843.7 1779.4h0M881.8 1614.3h0M944.9 1754.6h0M1041.3 1738.0h0M1009.9 1681.1h0M896.1 1620.4h0M995.2 1681.3h0M1055.2 1710.3h0M1047.2 1638.1h0M882.4 1659.5h0M997.9 1705.2h0M1062.1 1675.6h0M1064.4 1675.5h0M992.1 1695.9h0M1021.2 1709.9h0M894.3 1645.8h0M932.7 1695.8h0M1031.0 1734.3h0M1009.6 1650.5h0M1051.8 1665.2h0M912.9 1602.9h0M953.8 1691.0h0M842.5 1652.5h0M1016.8 1664.6h0M933.7 1777.9h0M1008.4 1718.8h0M1067.5 1685.4h0M1001.6 1756.1h0M942.3 1688.9h0M986.3 1697.9h0M1047.8 1712.2h0M1028.5 1632.4h0M874.2 1628.1h0M920.9 1677.7h0M874.4 1629.5h0M1018.7 1728.7h0M923.2 1763.7h0M978.1 1646.4h0M1046.9 1666.3h0M852.0 1630.0h0M976.6 1732.3h0M892.9 1659.4h0M1041.4 1752.0h0M996.6 1691.1h0M996.4 1746.9h0M949.3 1681.6h0M841.4 1699.4h0M895.9 1768.6h0M967.6 1742.4h0M902.9 1636.8h0M842.3 1622.3h0M930.6 1657.3h0M1011.2 1658.7h0M992.5 1745.8h0M991.6 1620.6h0M895.5 1771.3h0M871.3 1641.8h0M884.3 1750.3h0M901.2 1678.5h0M929.5 1685.5h0M892.4 1638.7h0M893.4 1647.3h0M987.4 1710.7h0M1064.5 1660.3h0M1064.0 1628.7h0M1063.1 1726.3h0M874.9 1624.5h0M912.0 1655.4h0M1050.6 1671.3h0M910.4 1656.1h0M869.7 1746.4h0M941.9 1733.8h0M951.0 1701.7h0M1033.4 1658.7h0M907.4 1739.4h0M869.0 1653.2h0M1067.0 1691.0h0M926.9 1702.8h0M931.2 1758.2h0M1019.9 1767.7h0M842.1 1685.5h0M989.4 1736.1h0M1016.6 1691.8h0M1040.5 1633.0h0M895.4 1657.6h0M942.1 1770.9h0M999.5 1713.2h0M1004.1 1657.9h0M919.2 1625.1h0M941.0 1668.9h0M917.0 1757.1h0M1029.7 1735.9h0M1046.3 1687.4h0M897.3 1644.0h0M911.8 1615.5h0M859.5 1633.9h0M1001.7 1665.1h0M868.5 1664.2h0M1037.8 1676.9h0M916.3 1759.8h0M996.5 1755.2h0M879.6 1632.3h0M917.1 1716.4h0M877.1 1636.3h0M1001.5 1627.7h0M883.7 1653.5h0M898.3 1609.3h0M855.6 1660.5h0M1055.5 1666.4h0M877.7 1664.8h0M931.3 1704.3h0M904.0 1726.4h0M864.8 1715.2h0M954.9 1708.3h0M928.9 1693.1h0M882.9 1667.6h0M868.5 1677.4h0M897.8 1752.3h0M1020.8 1731.7h0M969.2 1690.5h0M849.4 1628.2h0M880.6 1763.3h0M1008.5 1693.9h0M893.2 1708.3h0M990.5 1680.4h0M1017.1 1685.3h0M913.9 1641.7h0M836.9 1620.2h0M878.7 1642.7h0M993.7 1745.9h0M1009.6 1679.2h0M843.9 1658.3h0M1042.9 1668.4h0M926.9 1762.1h0M911.6 1736.4h0M986.7 1756.1h0M865.2 1622.6h0M967.4 1713.2h0M1030.1 1658.6h0M916.8 1685.0h0M1017.0 1741.5h0M925.8 1773.0h0M972.8 1714.9h0M979.9 1648.1h0M1006.2 1675.7h0M973.9 1695.3h0M1041.9 1685.5h0M954.3 1614.1h0M980.4 1722.2h0M1063.7 1700.3h0M994.2 1731.1h0M1011.3 1662.5h0M915.5 1707.1h0M1023.2 1658.1h0M984.8 1736.2h0M864.8 1772.5h0M853.5 1641.7h0M837.8 1646.6h0M1010.2 1668.7h0M1043.3 1676.2h0M972.0 1670.8h0M1004.7 1655.6h0M954.1 1682.6h0M980.3 1760.5h0M952.9 1730.2h0M895.2 1773.7h0M837.8 1608.6h0M845.0 1705.6h0M983.3 1664.1h0M1046.5 1643.9h0M927.1 1691.1h0M1032.2 1722.0h0M897.8 1759.8h0M854.4 1721.5h0M875.1 1763.1h0M1050.9 1693.4h0M928.9 1715.2h0M1010.3 1612.9h0M1000.7 1752.5h0M919.4 1704.0h0M944.4 1765.3h0M965.7 1693.2h0M940.4 1717.5h0M949.4 1696.1h0M875.9 1622.5h0M868.6 1729.5h0M1018.4 1672.9h0M958.0 1693.8h0M1029.3 1618.4h0M855.6 1643.7h0M912.7 1752.9h0M876.2 1638.6h0M1037.2 1656.3h0M954.8 1700.1h0M906.8 1770.4h0M969.5 1608.0h0M1056.8 1684.5h0M849.1 1644.8h0M921.6 1756.7h0M1034.1 1653.4h0M864.7 1626.2h0M937.7 1692.3h0M907.9 1618.0h0M875.6 1631.8h0M964.9 1714.4h0M863.9 1765.5h0M1026.1 1683.3h0M926.8 1708.6h0M960.5 1726.5h0M940.1 1677.1h0M955.6 1710.8h0M985.9 1645.7h0M974.1 1679.9h0M919.7 1685.8h0M879.9 1637.7h0M1055.6 1705.3h0M1001.5 1670.7h0M851.7 1652.5h0M964.2 1731.7h0M902.2 1758.7h0M871.1 1670.1h0M1029.4 1752.6h0M947.2 1765.4h0M887.4 1653.3h0M876.7 1674.2h0M964.5 1767.1h0M925.7 1679.7h0M880.4 1629.7h0M866.3 1701.6h0M875.2 1655.6h0M937.3 1602.9h0M934.9 1675.5h0M991.9 1707.6h0M917.1 1760.8h0M1042.4 1702.7h0M976.5 1692.0h0M944.4 1734.7h0M875.7 1681.9h0M1069.3 1647.2h0M1019.7 1694.3h0M1062.4 1682.3h0M957.6 1758.5h0M895.6 1769.2h0M983.1 1712.1h0M901.2 1613.4h0M891.1 1627.1h0M983.0 1701.5h0M1026.5 1735.7h0M966.3 1716.1h0M936.5 1772.8h0M977.1 1718.0h0M993.6 1734.3h0M1037.8 1683.6h0M986.4 1676.4h0M1047.1 1659.8h0M1057.8 1664.2h0M887.0 1617.1h0M858.4 1652.1h0M940.1 1658.0h0M922.5 1681.8h0M947.9 1694.4h0M877.7 1636.8h0M1047.7 1672.4h0M916.0 1759.2h0M844.4 1654.5h0M951.4 1726.2h0M957.2 1660.8h0M898.9 1641.8h0M918.8 1739.2h0M881.8 1629.8h0M876.7 1703.3h0M971.8 1681.3h0M847.0 1650.4h0M860.1 1723.9h0M899.5 1755.1h0M1058.8 1658.9h0M1063.3 1688.6h0M935.2 1651.0h0M1032.6 1677.6h0M1005.6 1710.0h0M851.1 1638.2h0M878.5 1646.9h0M868.4 1651.7h0M895.2 1616.3h0M890.7 1616.6h0M949.6 1715.9h0M925.5 1761.2h0M867.8 1759.4h0M839.0 1618.7h0M990.5 1759.6h0M997.5 1746.6h0M996.1 1682.1h0M890.8 1666.7h0M968.9 1692.0h0M1033.1 1775.3h0M897.5 1699.0h0M917.1 1763.8h0M997.4 1685.5h0M905.3 1658.4h0M872.4 1776.3h0M1001.7 1703.8h0M932.9 1742.0h0M961.1 1738.8h0M849.4 1671.1h0M1001.7 1686.1h0M877.6 1631.3h0M1028.1 1671.5h0M980.9 1733.4h0M882.7 1625.8h0M1020.9 1678.2h0M973.5 1662.1h0M987.4 1720.8h0M892.2 1749.1h0M922.1 1749.7h0M1008.2 1720.7h0M905.4 1704.4h0M855.7 1665.5h0M1034.1 1653.1h0M860.9 1623.5h0M1014.4 1671.7h0M917.9 1638.7h0M953.6 1711.8h0M1068.3 1602.2h0M859.8 1700.2h0M1062.9 1669.8h0M1029.5 1730.1h0M847.0 1617.0h0M927.1 1704.7h0M844.3 1656.0h0M882.8 1640.7h0M1029.4 1669.9h0M927.4 1613.1h0M1021.9 1716.7h0M1064.8 1715.3h0M1054.7 1667.5h0M1046.1 1691.5h0M928.0 1748.5h0M977.4 1736.9h0M877.8 1640.3h0M1035.9 1713.0h0M945.8 1757.2h0M1000.6 1719.5h0M934.0 1732.7h0M1066.0 1672.2h0M856.3 1613.8h0M962.6 1704.8h0M1041.3 1694.5h0M1067.5 1685.8h0M868.1 1615.8h0M976.4 1606.4h0M982.5 1741.4h0M1026.5 1700.4h0M901.5 1633.8h0M959.3 1694.6h0M949.7 1637.7h0M1021.1 1684.3h0M851.7 1604.6h0M987.3 1659.0h0M872.7 1616.9h0M1029.9 1708.5h0M944.0 1733.6h0M942.5 1708.7h0M909.3 1678.5h0M1035.6 1741.5h0M963.1 1673.5h0M1007.1 1632.3h0M1043.3 1745.0h0M868.1 1691.3h0M989.0 1744.7h0M993.8 1718.7h0M894.3 1622.2h0M953.7 1707.9h0M1040.6 1672.1h0M991.2 1666.6h0M943.6 1732.6h0M841.9 1620.5h0M939.1 1736.6h0M884.2 1740.8h0M844.8 1678.3h0M1047.4 1660.9h0M898.4 1632.1h0M866.2 1776.1h0M1005.6 1741.9h0M994.3 1653.6h0M983.1 1686.8h0M836.6 1640.5h0M872.5 1683.5h0M995.0 1648.9h0M1035.1 1749.5h0M1038.2 1679.7h0M852.5 1644.2h0M1052.2 1609.6h0M898.3 1643.6h0M964.0 1693.9h0M988.0 1680.1h0M856.1 1630.9h0M1047.6 1666.1h0M901.5 1647.3h0M861.9 1625.1h0M931.0 1616.6h0M890.1 1632.4h0M916.2 1754.5h0M1031.7 1653.1h0M928.3 1665.9h0M1020.8 1699.1h0M876.3 1753.9h0M916.2 1655.6h0M888.5 1613.7h0M866.5 1647.7h0M857.4 1624.6h0M896.5 1716.5h0M893.3 1767.1h0M999.2 1719.7h0M887.6 1632.5h0M947.0 1640.5h0M904.6 1654.6h0M1021.8 1695.7h0M913.7 1673.5h0M892.8 1727.8h0M1055.4 1674.4h0M907.8 1632.3h0M962.3 1697.1h0M885.4 1776.4h0M1020.7 1778.0h0M880.5 1781.8h0M980.3 1764.6h0M1055.7 1649.4h0M842.1 1778.1h0M878.4 1694.5h0M948.6 1672.9h0M849.8 1777.2h0M1009.3 1739.1h0M929.8 1770.5h0M952.3 1654.8h0M944.8 1685.9h0M991.7 1685.7h0M1021.8 1630.5h0M1010.0 1625.4h0M1009.0 1654.4h0M1046.8 1655.8h0M872.9 1641.8h0M1039.6 1664.5h0M890.0 1613.4h0M1029.1 1742.3h0M967.4 1681.5h0M851.3 1769.2h0M972.4 1715.5h0M903.5 1635.6h0M1047.1 1666.3h0M1021.2 1663.6h0M953.4 1697.4h0M913.8 1773.0h0M942.0 1700.6h0M1001.8 1747.3h0M951.0 1685.9h0M889.7 1701.6h0M888.1 1747.8h0M941.4 1738.2h0M975.6 1715.6h0M976.6 1734.3h0M1051.1 1728.0h0M976.7 1716.0h0M1022.8 1687.0h0M898.3 1633.7h0M1032.5 1661.7h0M872.6 1624.6h0M861.2 1632.8h0M1049.7 1675.6h0M1064.1 1635.6h0M985.9 1684.9h0M861.2 1632.3h0M952.6 1712.7h0M891.4 1609.2h0M865.6 1756.2h0" stroke="#49b9d6" stroke-width="2.5" opacity="0.85"/>
<path d="M1059.6 1678.3h0M1012.0 1682.4h0M880.2 1762.8h0M1012.6 1667.1h0M936.6 1715.0h0M870.1 1658.5h0M856.0 1712.2h0M989.2 1689.5h0M1063.8 1685.4h0M1067.2 1610.2h0M994.9 1741.5h0M877.6 1636.1h0M959.1 1605.2h0M959.8 1754.3h0M876.8 1625.6h0M918.0 1665.1h0M1033.9 1691.1h0M890.5 1654.6h0M1000.6 1658.8h0M947.6 1669.4h0M966.6 1766.1h0M1035.6 1656.4h0M924.6 1734.1h0M932.4 1701.0h0M1031.8 1641.3h0M982.1 1655.1h0M1023.1 1708.1h0M899.8 1763.7h0M934.9 1642.9h0M862.6 1615.8h0M921.0 1716.3h0M840.4 1611.9h0M986.2 1699.0h0M1011.6 1682.5h0M1031.3 1687.8h0M999.5 1731.9h0M960.9 1702.9h0M1061.4 1687.1h0M977.2 1647.0h0M920.2 1732.1h0M843.0 1645.2h0M1013.5 1738.4h0M871.1 1756.6h0M885.1 1758.6h0M862.5 1631.9h0M939.7 1633.2h0M872.2 1704.5h0M919.8 1650.1h0M1041.3 1754.8h0M856.9 1632.3h0M972.8 1753.1h0M1039.2 1670.5h0M970.1 1754.6h0M893.2 1734.8h0M842.1 1647.7h0M1004.7 1649.3h0M876.3 1745.5h0M1051.4 1686.0h0M1022.8 1696.0h0M912.9 1739.2h0M1008.4 1624.7h0M1040.6 1644.8h0M844.6 1631.6h0M848.3 1602.8h0M958.8 1734.6h0M985.6 1727.3h0M991.7 1714.8h0M985.4 1659.0h0M959.7 1746.6h0M880.3 1773.5h0M871.7 1711.6h0M937.3 1757.0h0M857.6 1637.0h0M997.2 1684.3h0M889.0 1690.3h0M928.9 1646.5h0M993.6 1703.9h0M970.9 1699.5h0M993.6 1680.3h0M1039.6 1706.7h0M1042.7 1705.6h0M923.7 1743.2h0M1031.1 1640.6h0M1033.0 1696.2h0M991.3 1624.0h0M855.5 1616.0h0M1046.5 1692.6h0M993.1 1716.4h0M879.7 1629.0h0M996.9 1740.8h0M943.8 1666.6h0M1043.5 1701.6h0M931.5 1661.7h0M841.6 1639.4h0M967.1 1644.0h0M842.9 1611.5h0M895.5 1771.0h0M954.4 1741.0h0M944.4 1779.2h0M948.8 1663.3h0M937.4 1768.0h0M887.6 1774.3h0M1039.1 1695.6h0M925.6 1767.0h0M872.9 1636.0h0M1031.7 1655.0h0M965.7 1684.2h0M851.2 1715.5h0M912.5 1778.5h0M910.0 1644.7h0M1012.7 1684.1h0M905.4 1744.6h0M927.5 1625.3h0M1021.3 1721.3h0M947.2 1735.1h0M951.5 1777.0h0M988.0 1732.0h0M863.0 1643.8h0M903.1 1664.6h0M1026.7 1675.3h0M860.0 1620.4h0M1041.0 1670.3h0M904.3 1705.9h0M1047.6 1669.8h0M958.5 1728.4h0M1007.1 1688.5h0M955.9 1719.1h0M999.7 1721.0h0M1025.9 1637.7h0M881.2 1651.1h0M851.9 1627.4h0M1019.7 1695.7h0M916.7 1719.2h0M870.5 1654.2h0M972.5 1737.1h0M841.1 1649.4h0M951.1 1781.4h0M1009.3 1643.7h0M1031.4 1774.1h0M845.0 1639.0h0M885.1 1605.7h0M944.4 1714.0h0M920.3 1733.3h0M899.2 1642.3h0M928.1 1633.1h0M851.3 1622.3h0M860.9 1630.2h0M997.9 1646.7h0M1002.7 1695.2h0M1017.2 1663.0h0M866.6 1717.7h0M852.9 1660.5h0M1031.3 1712.0h0M881.3 1632.7h0M870.9 1638.8h0M915.9 1781.0h0M987.2 1691.1h0M945.8 1712.5h0M847.5 1623.3h0M965.7 1603.9h0M880.7 1715.1h0M1045.9 1685.0h0M908.6 1702.0h0M1040.7 1696.3h0M857.4 1652.7h0M894.5 1722.1h0M937.8 1683.3h0M891.1 1774.3h0M923.1 1755.1h0M1029.1 1723.6h0M1049.0 1687.4h0M887.7 1674.0h0M843.4 1641.7h0M898.4 1632.1h0M874.6 1664.7h0M960.8 1763.5h0M894.5 1609.1h0M858.5 1601.5h0M1029.2 1705.6h0M994.5 1728.1h0M1026.5 1729.8h0M899.2 1754.5h0M886.1 1695.9h0M840.0 1626.7h0M1030.5 1685.1h0M987.4 1691.2h0M1033.4 1660.2h0M930.1 1693.8h0M992.2 1747.0h0M1053.7 1655.2h0M952.4 1781.4h0M1049.1 1715.2h0M1028.1 1704.6h0M910.1 1630.7h0M920.3 1750.6h0M1012.1 1759.1h0M1045.8 1729.1h0M925.2 1649.5h0M904.2 1772.5h0M1026.8 1688.4h0M992.9 1702.2h0M840.1 1618.4h0M998.8 1699.9h0M963.7 1737.1h0M977.4 1662.3h0M964.2 1753.1h0M994.4 1764.2h0M997.9 1709.1h0M849.5 1642.5h0M1052.4 1678.3h0M872.1 1617.9h0M1031.4 1690.5h0M956.8 1635.7h0M955.1 1625.6h0M1026.9 1701.4h0M894.0 1686.2h0M949.4 1752.8h0M842.7 1640.5h0M920.3 1694.0h0M1002.4 1700.9h0M965.7 1620.3h0M945.8 1699.4h0M989.1 1673.7h0M908.0 1615.1h0M837.4 1680.2h0M853.1 1635.3h0M843.7 1779.4h0M881.8 1614.3h0M944.9 1754.6h0M1041.3 1738.0h0M1009.9 1681.1h0M896.1 1620.4h0M995.2 1681.3h0M1055.2 1710.3h0M1047.2 1638.1h0M882.4 1659.5h0M997.9 1705.2h0M1062.1 1675.6h0M1064.4 1675.5h0M992.1 1695.9h0M1021.2 1709.9h0M894.3 1645.8h0M932.7 1695.8h0M1031.0 1734.3h0M1009.6 1650.5h0M1051.8 1665.2h0M912.9 1602.9h0M953.8 1691.0h0M842.5 1652.5h0M1016.8 1664.6h0M933.7 1777.9h0M1008.4 1718.8h0M1067.5 1685.4h0M1001.6 1756.1h0M942.3 1688.9h0M986.3 1697.9h0M1047.8 1712.2h0M1028.5 1632.4h0M874.2 1628.1h0M920.9 1677.7h0M874.4 1629.5h0M1018.7 1728.7h0M923.2 1763.7h0M978.1 1646.4h0M1046.9 1666.3h0M852.0 1630.0h0M976.6 1732.3h0M892.9 1659.4h0M1041.4 1752.0h0M996.6 1691.1h0M996.4 1746.9h0M949.3 1681.6h0M841.4 1699.4h0M895.9 1768.6h0M967.6 1742.4h0M902.9 1636.8h0M842.3 1622.3h0M930.6 1657.3h0M1011.2 1658.7h0M992.5 1745.8h0M991.6 1620.6h0M895.5 1771.3h0M871.3 1641.8h0M884.3 1750.3h0M901.2 1678.5h0M929.5 1685.5h0M892.4 1638.7h0M893.4 1647.3h0M987.4 1710.7h0M1064.5 1660.3h0M1064.0 1628.7h0M1063.1 1726.3h0M874.9 1624.5h0M912.0 1655.4h0M1050.6 1671.3h0M910.4 1656.1h0M869.7 1746.4h0M941.9 1733.8h0M951.0 1701.7h0M1033.4 1658.7h0M907.4 1739.4h0M869.0 1653.2h0M1067.0 1691.0h0M926.9 1702.8h0M931.2 1758.2h0M1019.9 1767.7h0M842.1 1685.5h0M989.4 1736.1h0M1016.6 1691.8h0M1040.5 1633.0h0M895.4 1657.6h0M942.1 1770.9h0M999.5 1713.2h0M1004.1 1657.9h0M919.2 1625.1h0" stroke="#d0f7ee" stroke-width="1.5"/>
</g>
</g>
<g clip-path="url(#cp31)">
<rect x="835.3" y="1800.4" width="235.1" height="182.3" fill="#03032a" stroke="none" stroke-width="1" />
<rect x="835.3" y="1800.4" width="235.1" height="182.3" fill="#000" stroke="none" stroke-width="1" filter="url(#fb31)"/>
<ellipse cx="1011.62" cy="1836.86" rx="32.91" ry="25.52" fill="#1f8f9f" opacity="0.4" filter="url(#blr2)"/>
<ellipse cx="905.83" cy="1937.12" rx="11.76" ry="18.23" fill="#1f9f8f" opacity="0.4" filter="url(#blr2)"/>
<ellipse cx="891.72" cy="1836.86" rx="10.58" ry="36.46" fill="#010110" opacity="0.85" filter="url(#blr)"/>
<ellipse cx="917.59" cy="1869.67" rx="11.76" ry="9.11" fill="#010110" opacity="0.8" filter="url(#blr)"/>
<ellipse cx="863.51" cy="1955.36" rx="28.21" ry="6.38" fill="#010110" opacity="0.8" filter="url(#blr)"/>
<ellipse cx="941.1" cy="1964.47" rx="23.51" ry="6.38" fill="#010110" opacity="0.8" filter="url(#blr)"/>
<ellipse cx="1046.89" cy="1964.47" rx="18.81" ry="7.29" fill="#010110" opacity="0.7" filter="url(#blr)"/>
<ellipse cx="1030.43" cy="1900.66" rx="7.05" ry="5.47" fill="#010110" opacity="0.6" filter="url(#blr)"/>
<g fill="none" stroke-linecap="round" filter="url(#blr0)">
<path d="M1033.9 1858.0h0M900.7 1943.1h0M970.7 1927.3h0M997.3 1911.5h0M917.8 1920.5h0M911.9 1944.9h0M988.7 1829.5h0M999.2 1845.6h0M1024.6 1826.6h0M927.4 1862.1h0M1025.8 1887.0h0M1013.0 1859.9h0M993.1 1901.3h0M982.6 1860.9h0M1030.9 1842.2h0M906.8 1952.9h0M998.9 1831.4h0M983.8 1828.1h0M1053.2 1911.3h0M978.5 1850.0h0M1044.0 1897.9h0M1040.6 1837.3h0M971.2 1828.3h0M1064.8 1900.5h0M908.0 1947.5h0M1062.6 1919.8h0M1059.9 1920.9h0M990.0 1808.0h0M990.1 1823.2h0M1050.3 1935.6h0M926.9 1902.3h0M1008.3 1807.6h0M1037.2 1942.1h0M1017.4 1815.6h0M914.2 1927.2h0M1009.0 1842.0h0M947.8 1836.4h0M1010.8 1885.1h0M1041.4 1826.4h0M1018.5 1916.8h0M1065.4 1921.6h0M892.3 1933.4h0M919.5 1847.5h0M944.5 1825.1h0M1017.6 1891.4h0M976.3 1830.8h0M901.6 1882.8h0M966.1 1932.3h0M946.4 1887.3h0M914.1 1896.2h0M902.6 1927.5h0M912.6 1937.0h0M913.1 1941.6h0M1065.0 1893.6h0M929.8 1960.6h0M985.9 1816.4h0M1044.5 1856.2h0M908.2 1950.8h0M970.7 1857.4h0M1019.8 1846.6h0M969.3 1925.8h0M1058.9 1914.2h0M919.8 1931.1h0M1006.9 1950.2h0M1034.8 1819.9h0M939.7 1816.6h0M1003.8 1930.9h0M990.8 1814.2h0M1034.8 1956.9h0M985.7 1907.3h0M995.9 1823.7h0M967.9 1814.9h0M1009.6 1851.0h0M968.9 1876.4h0M975.9 1863.5h0M928.3 1939.6h0M903.3 1936.8h0M943.8 1922.4h0M1055.8 1803.1h0M910.2 1937.3h0M894.6 1947.5h0M984.3 1823.9h0M995.9 1809.8h0M873.1 1873.0h0M1011.8 1817.3h0M924.4 1955.1h0M995.8 1822.6h0M1064.0 1842.2h0M900.4 1938.8h0M1051.6 1858.6h0M986.4 1956.7h0M1054.6 1915.0h0M1004.7 1936.6h0M904.9 1933.1h0M1023.1 1952.1h0M968.8 1843.3h0M948.3 1878.6h0M997.8 1832.7h0M1039.4 1827.7h0M991.7 1841.2h0M958.5 1920.9h0M924.7 1951.9h0M980.3 1823.1h0M987.5 1957.0h0M987.7 1859.4h0M1060.1 1907.8h0M1004.4 1865.1h0M984.3 1839.5h0M935.4 1879.2h0M1069.1 1892.6h0M916.1 1910.5h0M1030.9 1845.2h0M964.9 1852.4h0M1001.5 1912.4h0M1044.0 1920.4h0M1002.2 1848.7h0M1043.1 1920.4h0M992.9 1834.7h0M1027.1 1828.4h0M1035.6 1876.0h0M999.6 1958.0h0M907.4 1937.3h0M983.4 1805.4h0M987.1 1841.8h0M1032.0 1845.5h0M996.4 1833.5h0M1024.4 1882.1h0M927.1 1844.4h0M912.8 1929.2h0M965.3 1895.7h0M969.4 1847.4h0M921.1 1853.0h0M1009.9 1831.5h0M984.0 1864.3h0M1011.2 1872.0h0M1030.7 1866.1h0M995.7 1862.0h0M908.3 1951.0h0M1033.2 1862.8h0M988.2 1850.8h0M1016.5 1825.6h0M955.1 1919.1h0M1030.6 1850.8h0M1010.6 1814.8h0M1032.6 1842.1h0M1012.9 1873.6h0M1020.8 1855.7h0M913.4 1948.4h0M991.2 1813.9h0M919.7 1880.9h0M1044.8 1820.6h0M1019.8 1845.1h0M1002.6 1812.7h0M1047.1 1849.2h0M1007.5 1903.8h0M979.9 1857.2h0M1026.2 1828.5h0M901.1 1916.4h0M1030.4 1873.2h0M905.5 1895.2h0M1063.3 1906.5h0M1018.2 1842.2h0M1038.6 1845.2h0M1007.5 1817.8h0M1010.1 1818.4h0M905.7 1923.5h0M1000.4 1866.1h0M961.0 1865.8h0M935.7 1839.5h0M966.6 1930.8h0M970.1 1825.5h0M1047.1 1917.3h0M1035.7 1914.6h0M903.1 1928.1h0M1009.2 1858.6h0M939.7 1869.0h0M1006.0 1822.9h0M1010.4 1838.7h0M1045.0 1839.6h0M916.1 1887.1h0M880.8 1893.2h0M1050.0 1840.6h0M1063.4 1819.0h0M1014.9 1869.1h0M898.3 1925.8h0M977.6 1913.7h0M995.8 1868.7h0M969.2 1856.6h0M989.8 1824.4h0M1036.4 1831.5h0M1065.3 1813.2h0M1051.9 1924.7h0M1052.3 1844.8h0M1017.6 1874.5h0M1001.4 1816.5h0M888.3 1902.7h0M1001.0 1969.4h0M961.4 1879.6h0M992.3 1863.3h0M1060.1 1834.2h0M995.8 1902.7h0M992.6 1852.6h0M1011.8 1811.4h0M1041.1 1849.2h0M917.2 1930.6h0M1000.4 1902.0h0M919.8 1877.9h0M1066.7 1849.5h0M1040.3 1913.8h0M1003.7 1838.4h0M902.5 1907.2h0M1040.3 1831.9h0M911.0 1931.2h0M978.2 1816.1h0M912.7 1941.2h0M990.3 1830.3h0M1009.9 1830.8h0M986.5 1825.7h0M897.6 1926.9h0M1018.0 1803.1h0M1002.5 1946.0h0M1050.2 1916.3h0M997.4 1837.9h0M1017.9 1870.3h0M918.7 1934.8h0M1006.8 1850.7h0M989.5 1962.3h0M932.1 1863.2h0M1009.3 1842.9h0M1028.9 1825.8h0M901.8 1865.7h0M898.9 1946.5h0M925.9 1836.8h0M963.7 1911.1h0M961.7 1853.6h0M1017.7 1868.1h0M1049.5 1838.3h0M1018.4 1805.2h0M1030.9 1902.7h0M1033.6 1826.1h0M972.6 1820.1h0M984.6 1881.0h0M1022.9 1949.2h0M1054.0 1886.2h0M904.3 1838.6h0M1037.7 1910.5h0M970.8 1826.2h0M1015.1 1917.4h0M996.0 1874.3h0M889.5 1940.2h0M910.8 1939.1h0M1045.1 1866.2h0M907.4 1942.7h0M1060.8 1841.2h0M876.6 1894.2h0M872.7 1927.0h0M1046.4 1841.6h0M1067.3 1851.0h0M1021.4 1873.9h0M1024.5 1823.3h0M965.7 1810.5h0M997.3 1877.7h0M944.9 1870.8h0M998.1 1886.2h0M944.4 1824.5h0M928.1 1902.7h0M946.9 1888.0h0M970.0 1897.5h0M1014.9 1866.9h0M982.5 1831.0h0M933.7 1954.5h0M1055.1 1910.8h0M1034.2 1834.6h0M911.1 1925.3h0M1003.6 1872.2h0M955.2 1835.2h0M986.9 1809.9h0M1038.1 1819.2h0M1057.8 1917.0h0M900.2 1951.4h0M969.2 1855.6h0M1022.0 1902.1h0M1021.7 1866.5h0M976.0 1808.2h0M941.0 1899.9h0M971.8 1809.0h0M1009.9 1852.7h0M1033.9 1905.0h0M877.1 1875.8h0M960.0 1916.4h0M1034.7 1814.4h0M1034.1 1866.3h0M907.9 1948.5h0M1060.3 1867.3h0M1046.2 1916.5h0M1059.1 1911.9h0M953.5 1933.8h0M967.2 1832.3h0M1007.9 1881.9h0M898.0 1844.5h0" stroke="#49b9d6" stroke-width="2.5" opacity="0.85"/>
<path d="M1033.9 1858.0h0M900.7 1943.1h0M970.7 1927.3h0M997.3 1911.5h0M917.8 1920.5h0M911.9 1944.9h0M988.7 1829.5h0M999.2 1845.6h0M1024.6 1826.6h0M927.4 1862.1h0M1025.8 1887.0h0M1013.0 1859.9h0M993.1 1901.3h0M982.6 1860.9h0M1030.9 1842.2h0M906.8 1952.9h0M998.9 1831.4h0M983.8 1828.1h0M1053.2 1911.3h0M978.5 1850.0h0M1044.0 1897.9h0M1040.6 1837.3h0M971.2 1828.3h0M1064.8 1900.5h0M908.0 1947.5h0M1062.6 1919.8h0M1059.9 1920.9h0M990.0 1808.0h0M990.1 1823.2h0M1050.3 1935.6h0M926.9 1902.3h0M1008.3 1807.6h0M1037.2 1942.1h0M1017.4 1815.6h0M914.2 1927.2h0M1009.0 1842.0h0M947.8 1836.4h0M1010.8 1885.1h0M1041.4 1826.4h0M1018.5 1916.8h0M1065.4 1921.6h0M892.3 1933.4h0M919.5 1847.5h0M944.5 1825.1h0M1017.6 1891.4h0M976.3 1830.8h0M901.6 1882.8h0M966.1 1932.3h0M946.4 1887.3h0M914.1 1896.2h0M902.6 1927.5h0M912.6 1937.0h0M913.1 1941.6h0M1065.0 1893.6h0M929.8 1960.6h0M985.9 1816.4h0M1044.5 1856.2h0M908.2 1950.8h0M970.7 1857.4h0M1019.8 1846.6h0M969.3 1925.8h0M1058.9 1914.2h0M919.8 1931.1h0M1006.9 1950.2h0M1034.8 1819.9h0M939.7 1816.6h0M1003.8 1930.9h0M990.8 1814.2h0M1034.8 1956.9h0M985.7 1907.3h0M995.9 1823.7h0M967.9 1814.9h0M1009.6 1851.0h0M968.9 1876.4h0M975.9 1863.5h0M928.3 1939.6h0M903.3 1936.8h0M943.8 1922.4h0M1055.8 1803.1h0M910.2 1937.3h0M894.6 1947.5h0M984.3 1823.9h0M995.9 1809.8h0M873.1 1873.0h0M1011.8 1817.3h0M924.4 1955.1h0M995.8 1822.6h0M1064.0 1842.2h0M900.4 1938.8h0M1051.6 1858.6h0M986.4 1956.7h0M1054.6 1915.0h0M1004.7 1936.6h0M904.9 1933.1h0M1023.1 1952.1h0M968.8 1843.3h0M948.3 1878.6h0M997.8 1832.7h0M1039.4 1827.7h0M991.7 1841.2h0M958.5 1920.9h0M924.7 1951.9h0M980.3 1823.1h0M987.5 1957.0h0M987.7 1859.4h0M1060.1 1907.8h0M1004.4 1865.1h0M984.3 1839.5h0M935.4 1879.2h0M1069.1 1892.6h0M916.1 1910.5h0M1030.9 1845.2h0M964.9 1852.4h0M1001.5 1912.4h0M1044.0 1920.4h0M1002.2 1848.7h0M1043.1 1920.4h0M992.9 1834.7h0M1027.1 1828.4h0M1035.6 1876.0h0M999.6 1958.0h0M907.4 1937.3h0M983.4 1805.4h0M987.1 1841.8h0M1032.0 1845.5h0M996.4 1833.5h0M1024.4 1882.1h0M927.1 1844.4h0M912.8 1929.2h0M965.3 1895.7h0M969.4 1847.4h0M921.1 1853.0h0M1009.9 1831.5h0M984.0 1864.3h0M1011.2 1872.0h0" stroke="#d0f7ee" stroke-width="1.5"/>
</g>
</g>
<g clip-path="url(#cp40)">
<rect x="1084.4" y="1602.5" width="235.5" height="182.3" fill="#03032a" stroke="none" stroke-width="1" />
<rect x="1084.4" y="1602.5" width="235.5" height="182.3" fill="#000" stroke="none" stroke-width="1" filter="url(#fb40)"/>
<ellipse cx="1237.48" cy="1702.76" rx="89.49" ry="76.57" fill="#1f8fa8" opacity="0.5" filter="url(#blr2)"/>
<ellipse cx="1303.42" cy="1739.22" rx="18.84" ry="36.46" fill="#1f9f8f" opacity="0.4" filter="url(#blr2)"/>
<ellipse cx="1103.24" cy="1757.45" rx="23.55" ry="21.88" fill="#010110" opacity="0.85" filter="url(#blr)"/>
<ellipse cx="1131.5" cy="1693.65" rx="14.13" ry="10.94" fill="#010110" opacity="0.8" filter="url(#blr)"/>
<ellipse cx="1178.6" cy="1642.61" rx="11.78" ry="7.29" fill="#010110" opacity="0.8" filter="url(#blr)"/>
<ellipse cx="1253.96" cy="1642.61" rx="14.13" ry="9.11" fill="#010110" opacity="0.8" filter="url(#blr)"/>
<ellipse cx="1291.64" cy="1657.19" rx="11.78" ry="7.29" fill="#010110" opacity="0.7" filter="url(#blr)"/>
<ellipse cx="1155.05" cy="1733.76" rx="9.42" ry="7.29" fill="#010110" opacity="0.7" filter="url(#blr)"/>
<g fill="none" stroke-linecap="round" filter="url(#blr0)">
<path d="M1156.5 1705.6h0M1171.8 1757.2h0M1269.1 1713.3h0M1298.7 1744.4h0M1241.0 1671.5h0M1172.2 1745.7h0M1310.8 1669.7h0M1231.2 1677.7h0M1147.3 1712.3h0M1250.9 1777.0h0M1172.4 1652.6h0M1166.6 1673.3h0M1224.3 1668.4h0M1204.7 1728.1h0M1217.6 1668.0h0M1180.0 1696.3h0M1263.7 1762.7h0M1095.2 1724.8h0M1201.1 1673.4h0M1201.6 1625.5h0M1309.6 1682.4h0M1154.9 1713.2h0M1203.2 1661.3h0M1227.9 1643.1h0M1287.0 1769.2h0M1217.6 1704.5h0M1166.6 1754.3h0M1272.7 1673.7h0M1121.2 1673.4h0M1266.2 1667.4h0M1218.2 1671.8h0M1252.5 1696.2h0M1236.8 1654.0h0M1284.6 1645.0h0M1258.4 1768.2h0M1198.3 1625.7h0M1255.4 1687.5h0M1239.8 1671.3h0M1122.8 1682.1h0M1264.9 1741.0h0M1216.8 1699.6h0M1245.1 1759.4h0M1172.2 1741.4h0M1109.4 1692.2h0M1166.4 1701.3h0M1238.8 1768.1h0M1252.4 1735.9h0M1170.7 1662.3h0M1281.9 1668.6h0M1245.7 1754.1h0M1089.9 1738.0h0M1273.6 1635.4h0M1101.4 1612.6h0M1201.6 1666.6h0M1170.2 1624.8h0M1262.3 1747.3h0M1114.7 1604.4h0M1244.4 1726.9h0M1217.7 1686.1h0M1143.5 1641.5h0M1318.8 1766.2h0M1269.8 1710.7h0M1224.1 1718.6h0M1248.3 1617.7h0M1306.8 1728.2h0M1126.1 1662.5h0M1291.4 1647.8h0M1261.0 1718.4h0M1238.8 1605.9h0M1170.8 1612.3h0M1166.7 1676.1h0M1136.0 1729.3h0M1258.5 1740.5h0M1260.0 1754.6h0M1181.3 1751.5h0M1101.5 1721.9h0M1209.2 1766.0h0M1283.0 1777.6h0M1138.9 1617.6h0M1139.2 1764.5h0M1226.1 1696.6h0M1139.2 1711.4h0M1143.7 1626.8h0M1161.9 1680.5h0M1244.0 1665.2h0M1127.2 1720.2h0M1264.3 1717.5h0M1200.2 1663.0h0M1125.2 1778.8h0M1101.0 1687.3h0M1282.6 1646.5h0M1182.9 1651.8h0M1186.9 1671.3h0M1152.0 1659.6h0M1245.6 1741.4h0M1175.2 1703.5h0M1176.4 1775.8h0M1217.9 1706.0h0M1277.6 1778.9h0M1208.8 1708.9h0M1302.0 1688.3h0M1201.5 1733.3h0M1167.6 1641.4h0M1133.5 1750.1h0M1212.6 1774.7h0M1178.7 1680.9h0M1269.0 1626.9h0M1206.9 1665.0h0M1215.3 1642.8h0M1186.4 1625.3h0M1218.2 1739.1h0M1114.9 1703.0h0M1149.4 1709.2h0M1274.8 1739.3h0M1295.2 1745.4h0M1124.8 1782.4h0M1313.3 1694.1h0M1262.7 1627.1h0M1223.4 1681.9h0M1263.7 1632.8h0M1157.3 1774.8h0M1192.8 1675.4h0M1194.5 1706.7h0M1194.7 1746.9h0M1245.0 1781.5h0M1243.6 1619.5h0M1098.7 1629.4h0M1112.4 1716.1h0M1301.3 1627.9h0M1132.9 1630.2h0M1147.8 1769.2h0M1174.4 1663.4h0M1136.8 1741.5h0M1134.8 1743.0h0M1280.7 1686.0h0M1135.4 1664.7h0M1230.8 1781.1h0M1279.1 1670.3h0M1293.1 1642.1h0M1231.6 1631.0h0M1226.7 1689.0h0M1164.8 1783.2h0M1156.6 1637.9h0M1236.4 1638.5h0M1303.0 1639.8h0M1126.4 1642.8h0M1266.4 1747.9h0M1259.4 1766.5h0M1257.5 1701.2h0M1268.4 1741.8h0M1299.2 1608.5h0M1214.6 1657.2h0M1186.5 1746.0h0M1298.9 1711.1h0M1162.4 1698.1h0M1218.2 1686.0h0M1163.3 1633.4h0M1259.3 1689.6h0M1184.9 1617.1h0M1274.0 1772.1h0M1225.0 1656.2h0M1165.3 1650.6h0M1154.7 1711.1h0M1278.8 1783.4h0M1235.1 1700.0h0M1178.5 1716.5h0M1304.7 1620.8h0M1161.1 1659.4h0M1098.2 1726.0h0M1203.0 1768.1h0M1206.5 1735.3h0M1085.9 1719.2h0M1259.4 1625.2h0M1285.1 1619.1h0M1259.4 1762.3h0M1171.0 1611.0h0M1131.5 1720.6h0M1090.4 1605.5h0M1204.9 1747.2h0M1186.9 1660.1h0M1240.3 1654.1h0M1230.3 1609.1h0M1242.1 1682.4h0M1234.3 1702.7h0M1172.7 1712.5h0M1272.8 1716.9h0M1161.2 1729.8h0M1273.2 1615.9h0M1274.1 1724.6h0M1219.4 1616.3h0M1170.5 1661.0h0M1216.1 1613.8h0M1318.1 1608.5h0M1235.8 1764.0h0M1140.2 1760.1h0M1194.2 1693.8h0M1275.5 1754.4h0M1266.7 1773.9h0M1278.2 1699.2h0M1120.2 1660.7h0M1293.8 1713.8h0M1219.8 1708.2h0M1299.8 1618.8h0M1214.5 1711.4h0M1306.7 1691.7h0M1207.2 1672.3h0M1231.2 1694.0h0M1112.3 1720.5h0M1208.6 1781.9h0M1233.4 1665.8h0M1115.3 1675.6h0M1163.8 1756.1h0M1289.6 1715.5h0M1206.8 1647.9h0M1276.7 1754.2h0M1256.5 1765.0h0M1242.5 1623.4h0M1288.5 1688.6h0M1183.9 1665.7h0M1226.4 1746.9h0M1227.5 1628.5h0M1138.0 1611.7h0M1230.4 1699.2h0M1222.7 1690.5h0M1133.5 1752.9h0M1171.8 1751.3h0M1115.2 1665.3h0M1317.8 1646.7h0M1223.8 1645.0h0M1223.1 1618.7h0M1164.6 1698.7h0M1156.6 1749.2h0M1145.5 1728.8h0M1241.5 1650.3h0M1211.6 1659.9h0M1201.0 1605.9h0M1217.8 1731.4h0M1274.6 1684.9h0M1185.5 1672.8h0M1161.5 1690.7h0M1086.8 1696.9h0M1246.5 1774.9h0M1195.3 1639.8h0M1130.2 1616.2h0M1251.9 1748.0h0M1194.9 1642.4h0M1193.9 1680.6h0M1132.2 1778.5h0M1165.6 1691.3h0M1307.4 1691.3h0M1224.5 1695.2h0M1206.1 1783.1h0M1126.9 1774.9h0M1110.3 1691.6h0M1298.0 1630.2h0M1212.4 1765.9h0M1131.9 1731.4h0M1318.6 1752.5h0M1236.1 1731.4h0M1317.1 1707.8h0M1141.0 1765.9h0M1162.3 1623.2h0M1233.0 1742.0h0M1215.8 1675.0h0M1227.4 1767.8h0M1176.7 1610.9h0M1286.0 1734.3h0M1244.0 1703.5h0M1162.1 1670.4h0M1127.5 1632.2h0M1247.2 1742.4h0M1259.7 1611.2h0M1149.5 1705.2h0M1254.8 1747.5h0M1210.9 1673.2h0M1274.3 1782.3h0M1094.0 1659.1h0M1181.3 1607.0h0M1127.3 1639.3h0M1112.0 1609.6h0M1227.2 1647.3h0M1117.0 1648.6h0M1212.7 1780.3h0M1241.0 1604.5h0M1262.9 1647.5h0M1193.7 1677.7h0M1247.7 1716.7h0M1156.9 1674.2h0M1203.5 1683.4h0M1121.7 1623.3h0M1156.6 1678.5h0M1233.5 1726.2h0M1180.8 1760.8h0M1190.7 1757.6h0M1256.5 1703.7h0M1178.5 1768.7h0M1275.6 1748.7h0M1269.9 1779.2h0M1293.2 1718.4h0M1233.2 1736.6h0M1111.0 1738.4h0M1221.1 1660.1h0M1195.5 1738.8h0M1266.0 1676.2h0M1131.0 1646.9h0M1234.7 1760.4h0M1276.0 1660.9h0M1285.0 1725.3h0M1117.9 1666.4h0M1164.7 1686.5h0M1118.8 1665.0h0M1235.2 1658.9h0M1312.0 1646.6h0M1197.4 1748.6h0M1115.0 1615.2h0M1114.5 1648.9h0M1192.4 1634.7h0M1085.8 1703.2h0M1248.3 1700.4h0M1212.4 1692.1h0M1229.6 1710.8h0M1231.9 1667.1h0M1294.0 1623.1h0M1298.8 1780.5h0M1284.9 1645.0h0M1298.0 1749.2h0M1095.9 1700.9h0M1277.8 1658.8h0M1317.0 1607.9h0M1254.5 1604.7h0M1211.2 1674.9h0M1210.6 1762.7h0M1168.9 1661.4h0M1266.5 1637.8h0M1150.9 1630.1h0M1262.0 1751.1h0M1179.4 1756.2h0M1133.3 1720.3h0M1090.7 1648.2h0M1138.1 1736.0h0M1305.9 1643.2h0M1135.6 1677.7h0M1153.0 1747.2h0M1225.4 1662.2h0M1154.6 1701.4h0M1241.0 1624.2h0M1156.9 1643.1h0M1235.5 1708.8h0M1193.6 1703.0h0M1245.7 1697.6h0M1222.0 1662.9h0M1103.3 1676.8h0M1285.9 1702.2h0M1165.2 1732.3h0M1252.8 1738.1h0M1211.4 1605.2h0M1117.1 1616.5h0M1240.9 1715.2h0M1163.8 1630.3h0M1306.9 1756.6h0M1272.4 1750.6h0M1307.5 1760.4h0M1209.4 1683.8h0M1310.1 1711.8h0M1253.2 1744.5h0M1151.2 1703.8h0M1192.3 1666.3h0M1205.3 1668.8h0M1102.0 1690.2h0M1182.0 1692.2h0M1148.5 1643.9h0M1152.2 1711.7h0M1258.7 1680.3h0M1176.4 1690.5h0M1250.6 1676.4h0M1192.8 1657.7h0M1203.6 1672.2h0M1172.0 1711.6h0M1258.6 1730.0h0M1228.1 1733.2h0M1232.4 1679.8h0M1259.7 1666.5h0M1303.3 1761.4h0M1317.9 1667.1h0M1163.1 1659.1h0M1102.4 1660.1h0M1313.4 1747.2h0M1205.6 1739.1h0M1281.1 1773.4h0M1269.3 1683.6h0M1162.6 1694.6h0M1143.3 1617.0h0M1295.2 1688.0h0M1261.9 1725.7h0M1221.0 1671.0h0M1204.7 1695.6h0M1234.1 1622.3h0M1259.1 1685.4h0M1085.5 1719.4h0M1103.9 1701.0h0M1219.3 1727.8h0M1306.0 1652.4h0M1161.0 1604.5h0M1166.2 1669.1h0M1131.4 1765.9h0M1244.1 1767.7h0M1106.6 1702.9h0M1281.6 1696.7h0M1230.8 1611.8h0M1096.4 1696.5h0M1164.4 1647.0h0M1137.9 1762.2h0M1287.8 1763.6h0M1294.8 1726.4h0M1147.0 1740.7h0M1139.6 1618.5h0M1242.4 1748.0h0M1220.3 1678.8h0M1087.7 1716.7h0M1288.0 1745.5h0M1235.2 1757.5h0M1241.6 1621.3h0M1118.3 1712.7h0M1200.4 1721.7h0M1304.8 1685.6h0M1127.1 1714.3h0M1238.2 1703.7h0M1247.8 1631.0h0M1132.1 1760.7h0M1107.1 1696.7h0M1178.5 1740.2h0M1271.9 1670.6h0M1293.2 1737.8h0M1217.4 1646.8h0M1305.8 1661.1h0M1201.2 1649.5h0M1200.3 1751.3h0M1242.0 1634.9h0M1132.7 1720.5h0M1094.4 1692.2h0M1213.5 1665.4h0M1131.8 1665.6h0M1212.1 1768.6h0M1221.0 1662.7h0M1269.7 1679.2h0M1287.5 1769.5h0M1120.1 1650.2h0M1088.8 1777.0h0M1090.3 1657.7h0M1174.9 1744.3h0M1232.4 1654.8h0M1198.3 1694.4h0M1184.6 1697.0h0M1213.7 1635.8h0M1293.4 1693.3h0M1172.2 1738.5h0M1179.2 1724.0h0M1097.4 1693.3h0M1280.7 1723.8h0M1096.3 1714.6h0M1216.5 1704.5h0M1134.6 1622.9h0M1236.4 1675.0h0M1281.1 1672.7h0M1190.2 1758.6h0M1194.0 1689.4h0M1279.9 1651.1h0M1187.7 1781.8h0M1135.2 1662.2h0M1211.8 1620.1h0M1087.2 1659.3h0M1115.5 1722.0h0M1088.3 1766.6h0M1261.4 1746.9h0M1178.1 1681.5h0M1108.2 1707.7h0M1171.0 1697.5h0M1316.7 1699.6h0M1227.2 1677.7h0M1294.5 1717.8h0M1102.4 1658.5h0M1153.1 1693.8h0M1122.3 1773.3h0M1150.3 1651.5h0M1266.6 1699.1h0M1313.3 1721.9h0M1196.0 1715.9h0M1174.3 1682.8h0M1187.0 1673.0h0M1103.6 1698.4h0M1253.6 1720.4h0M1208.9 1721.8h0M1246.0 1777.4h0M1274.8 1634.9h0M1131.2 1757.0h0M1167.4 1769.0h0M1281.6 1694.9h0M1202.2 1675.8h0M1096.8 1617.0h0M1152.6 1639.6h0M1092.7 1637.8h0M1235.3 1678.6h0M1096.3 1620.7h0M1260.3 1741.2h0M1293.7 1712.5h0M1239.9 1671.5h0M1206.6 1647.4h0M1317.2 1717.8h0M1199.1 1759.5h0M1261.8 1707.1h0M1298.5 1775.4h0M1248.1 1759.8h0M1179.0 1654.2h0M1094.6 1616.7h0M1115.0 1651.9h0M1306.7 1724.8h0M1189.3 1648.5h0M1205.8 1661.9h0M1155.3 1701.5h0M1246.3 1626.8h0M1245.4 1734.8h0M1234.7 1681.3h0M1283.2 1753.3h0M1205.8 1693.2h0M1181.5 1762.8h0M1173.1 1628.7h0M1263.8 1753.4h0M1117.6 1651.9h0M1279.8 1749.5h0M1128.5 1761.6h0M1277.3 1687.6h0M1155.1 1699.3h0M1173.6 1729.4h0M1256.2 1678.5h0M1278.6 1727.9h0M1211.9 1776.5h0M1275.5 1695.3h0M1212.0 1649.5h0M1294.7 1782.0h0M1159.1 1692.5h0M1113.0 1676.0h0M1158.7 1675.3h0M1244.8 1763.0h0M1089.1 1714.1h0M1231.5 1650.1h0M1087.6 1779.4h0M1277.2 1630.6h0M1151.8 1644.1h0M1171.1 1733.4h0M1236.0 1606.6h0M1170.9 1709.6h0M1153.8 1631.9h0M1254.5 1758.8h0M1164.2 1622.7h0M1273.8 1669.8h0M1299.2 1763.3h0M1174.6 1762.1h0M1174.8 1765.7h0M1092.6 1708.5h0M1243.5 1656.9h0M1151.0 1685.3h0M1117.7 1670.6h0M1210.1 1685.5h0M1158.9 1624.8h0M1253.8 1757.0h0M1282.5 1684.6h0M1154.9 1657.7h0M1175.9 1670.4h0M1313.8 1667.9h0M1278.1 1726.6h0M1232.3 1678.8h0M1305.8 1733.0h0M1192.5 1638.1h0M1203.0 1649.6h0M1248.0 1613.7h0M1158.1 1773.8h0M1293.1 1638.4h0M1116.3 1680.6h0M1263.8 1625.2h0M1184.5 1764.3h0M1164.4 1703.3h0M1227.6 1702.2h0M1266.0 1667.6h0M1212.3 1678.6h0M1094.7 1622.3h0M1302.0 1760.8h0M1154.1 1754.7h0M1244.6 1708.7h0M1144.6 1702.3h0M1286.1 1700.1h0M1175.4 1613.7h0M1292.1 1615.8h0M1304.6 1724.3h0M1303.2 1695.1h0M1235.7 1713.6h0M1167.8 1610.1h0M1164.0 1762.1h0M1211.6 1690.8h0M1226.8 1698.2h0M1223.0 1623.7h0M1145.5 1618.8h0M1292.2 1634.3h0M1148.6 1700.3h0M1224.5 1697.9h0M1216.2 1613.9h0M1186.2 1671.7h0M1134.2 1709.9h0M1227.5 1624.4h0M1307.3 1732.8h0M1254.6 1714.5h0M1211.0 1682.4h0M1235.5 1717.7h0M1232.7 1770.4h0M1235.0 1662.5h0M1277.2 1612.5h0M1201.0 1624.3h0M1108.1 1712.9h0M1278.8 1610.3h0M1304.0 1759.9h0M1169.8 1678.4h0M1093.6 1648.1h0M1313.5 1721.4h0M1138.7 1680.3h0M1289.5 1761.4h0M1092.4 1610.3h0M1127.3 1754.3h0M1199.9 1756.8h0M1148.0 1764.7h0M1112.5 1609.0h0M1139.3 1641.9h0M1211.1 1733.3h0M1232.7 1759.2h0M1114.3 1703.3h0M1257.5 1767.7h0M1219.2 1668.2h0M1204.9 1722.0h0M1239.6 1695.1h0M1274.9 1759.8h0M1234.1 1635.5h0M1285.4 1671.9h0M1219.5 1752.8h0M1262.9 1700.7h0M1105.6 1700.5h0M1121.2 1734.6h0M1181.4 1735.1h0M1237.0 1646.9h0M1176.8 1629.0h0M1151.1 1664.8h0M1118.7 1731.5h0M1248.2 1780.4h0M1219.9 1672.8h0M1259.8 1649.0h0M1284.3 1618.2h0M1269.8 1619.1h0M1166.8 1622.8h0M1218.0 1690.3h0M1211.0 1633.9h0M1305.1 1628.8h0M1280.8 1614.7h0M1297.6 1641.2h0M1293.9 1642.5h0M1135.5 1725.8h0M1270.0 1615.2h0M1306.1 1714.9h0M1244.0 1644.6h0M1189.3 1703.4h0M1194.5 1710.4h0M1227.0 1620.0h0M1241.4 1634.3h0M1205.3 1708.4h0M1165.3 1607.9h0M1174.4 1763.5h0M1121.2 1683.5h0M1097.1 1722.5h0M1197.8 1656.0h0M1163.8 1705.5h0M1092.7 1682.1h0M1168.9 1671.6h0M1179.0 1631.2h0M1286.1 1746.3h0M1211.4 1662.1h0M1300.0 1664.1h0M1199.8 1665.3h0M1203.2 1764.8h0M1179.7 1628.1h0M1123.1 1629.8h0M1266.8 1780.9h0M1138.3 1707.5h0M1291.1 1775.1h0M1180.0 1608.3h0M1215.7 1658.5h0M1151.0 1701.9h0M1136.6 1769.6h0M1109.6 1628.5h0M1187.9 1778.9h0M1212.0 1737.5h0M1248.8 1613.6h0M1182.0 1723.4h0M1307.9 1681.4h0M1146.9 1739.5h0M1221.5 1750.7h0M1161.4 1777.9h0M1170.5 1636.5h0M1201.9 1607.5h0M1237.1 1735.5h0M1239.6 1656.8h0M1255.0 1623.3h0M1162.5 1636.0h0M1239.0 1658.9h0M1223.6 1712.7h0M1266.4 1641.1h0M1266.0 1756.1h0M1156.7 1610.9h0M1129.7 1680.4h0M1315.2 1672.3h0M1206.5 1674.2h0M1089.6 1695.2h0M1145.1 1755.0h0M1263.7 1614.3h0M1147.9 1706.2h0M1304.8 1739.8h0M1262.7 1708.2h0M1177.4 1652.4h0M1258.6 1615.3h0M1288.5 1707.6h0M1180.4 1674.9h0M1109.3 1738.2h0M1088.1 1739.7h0M1162.6 1662.7h0M1255.0 1680.1h0M1233.7 1687.5h0M1302.9 1718.6h0M1300.4 1757.0h0M1193.3 1782.4h0M1216.8 1729.8h0M1259.8 1713.4h0M1207.1 1736.7h0M1153.7 1626.9h0M1191.2 1660.0h0M1204.9 1710.1h0M1227.1 1662.0h0M1179.0 1612.4h0M1228.6 1685.7h0M1122.3 1636.9h0M1137.2 1660.9h0M1292.0 1650.1h0M1173.3 1707.0h0M1155.8 1744.9h0M1128.6 1771.4h0M1199.4 1627.2h0M1195.8 1720.2h0M1255.8 1629.0h0M1272.3 1653.3h0M1204.9 1699.0h0M1123.0 1645.5h0M1240.0 1711.1h0M1095.9 1675.2h0M1143.7 1674.9h0M1177.2 1726.1h0M1147.1 1724.9h0M1202.5 1699.7h0M1235.5 1769.5h0M1257.6 1614.9h0M1137.8 1746.5h0M1155.4 1687.1h0M1200.0 1749.6h0M1279.3 1663.4h0M1288.0 1616.5h0M1153.7 1667.9h0M1118.7 1678.4h0M1275.3 1637.4h0M1131.3 1704.8h0M1301.8 1653.8h0M1140.5 1704.3h0M1240.0 1769.1h0M1205.5 1636.1h0M1143.2 1701.6h0M1299.9 1740.2h0M1198.8 1723.5h0M1278.9 1758.7h0M1178.8 1729.1h0M1249.2 1698.1h0M1136.9 1661.5h0M1278.0 1676.3h0M1264.2 1663.0h0M1234.1 1627.5h0M1103.9 1671.0h0M1124.7 1663.0h0M1141.5 1763.9h0M1202.6 1618.3h0M1202.2 1668.7h0M1184.5 1671.9h0M1138.7 1732.1h0M1207.5 1704.0h0M1230.8 1782.6h0M1165.0 1705.2h0M1253.7 1611.4h0M1154.8 1770.1h0M1106.6 1624.4h0M1222.3 1723.8h0M1256.7 1642.9h0M1287.0 1607.5h0M1109.9 1621.4h0M1174.9 1729.2h0M1206.0 1640.3h0M1260.7 1672.4h0M1204.2 1750.3h0M1219.5 1671.9h0M1160.0 1680.9h0M1164.2 1699.0h0M1176.8 1608.5h0M1194.0 1737.4h0M1095.1 1659.6h0M1168.2 1714.5h0M1145.6 1740.3h0M1184.1 1650.9h0M1296.7 1604.0h0M1165.2 1691.9h0M1189.1 1639.5h0M1312.9 1615.0h0M1107.5 1703.2h0M1117.8 1730.5h0M1231.1 1662.5h0M1115.7 1610.3h0M1190.2 1717.3h0M1303.3 1739.2h0M1152.5 1620.1h0M1089.6 1631.4h0M1300.2 1611.9h0M1252.3 1755.1h0M1229.5 1691.0h0M1272.5 1674.8h0M1134.8 1652.0h0M1181.3 1702.4h0M1244.3 1731.7h0M1203.2 1758.4h0M1182.6 1689.6h0M1304.6 1656.4h0M1150.0 1749.3h0M1268.4 1657.9h0M1265.3 1704.3h0M1131.7 1687.7h0M1193.5 1782.3h0M1315.2 1612.5h0M1154.6 1635.5h0M1182.2 1758.6h0M1126.5 1764.8h0M1234.9 1702.8h0M1107.3 1670.2h0M1316.7 1754.5h0M1278.6 1743.6h0M1220.5 1762.4h0M1101.7 1659.7h0M1140.5 1771.9h0M1093.3 1694.6h0M1262.4 1727.7h0M1123.5 1705.2h0M1176.3 1756.2h0M1264.2 1658.0h0M1110.2 1737.0h0M1317.7 1722.5h0M1102.6 1718.1h0M1298.5 1726.9h0M1115.1 1663.5h0M1293.4 1748.6h0M1190.6 1676.3h0M1230.1 1733.6h0M1301.8 1780.6h0M1169.6 1672.9h0M1238.2 1722.6h0M1240.9 1738.2h0M1157.6 1650.3h0M1157.9 1658.2h0M1086.4 1640.9h0M1127.6 1746.1h0M1122.9 1782.9h0M1179.0 1652.1h0M1291.6 1646.6h0M1150.1 1742.6h0M1277.5 1612.1h0M1139.4 1659.7h0M1215.1 1641.2h0M1177.8 1695.9h0M1151.9 1612.2h0M1155.3 1733.8h0M1128.6 1670.9h0M1260.4 1774.0h0M1245.3 1663.0h0M1260.2 1730.1h0M1125.8 1669.3h0M1169.1 1734.8h0M1219.7 1675.4h0M1189.0 1679.4h0M1149.4 1706.5h0M1234.9 1631.4h0M1127.1 1631.0h0M1252.4 1661.0h0M1129.5 1703.6h0M1240.1 1635.5h0M1181.3 1755.4h0M1274.7 1735.1h0M1146.8 1688.5h0M1119.4 1765.3h0M1252.2 1617.9h0M1199.8 1668.7h0M1228.9 1698.1h0M1134.7 1651.1h0M1124.2 1754.3h0M1277.5 1683.1h0M1274.1 1626.3h0M1246.4 1705.8h0M1220.9 1782.7h0M1213.3 1648.0h0M1154.3 1638.6h0M1299.3 1694.3h0M1205.8 1683.7h0M1295.3 1696.0h0M1130.9 1632.2h0M1158.3 1646.5h0M1092.0 1694.3h0M1192.1 1645.6h0M1237.7 1663.8h0M1256.1 1604.4h0M1269.4 1632.8h0M1234.3 1653.3h0M1196.8 1642.8h0M1238.2 1714.9h0M1262.9 1727.2h0M1126.1 1657.2h0M1213.9 1783.1h0M1291.3 1722.5h0M1194.6 1617.6h0M1203.8 1650.0h0M1241.4 1718.3h0M1129.5 1657.2h0M1108.9 1718.9h0M1256.0 1657.1h0M1098.6 1713.5h0M1154.8 1748.4h0M1109.6 1640.8h0M1215.1 1699.3h0M1203.1 1616.0h0M1259.4 1665.6h0M1089.6 1686.4h0M1281.3 1751.4h0M1194.8 1756.2h0M1180.2 1642.5h0M1146.5 1712.3h0M1205.4 1730.9h0M1194.0 1621.6h0M1153.3 1750.8h0M1272.7 1717.5h0M1220.8 1614.8h0M1238.3 1767.2h0M1203.7 1715.8h0M1244.5 1658.7h0M1201.6 1623.8h0M1318.4 1725.8h0M1143.2 1693.1h0M1306.1 1762.1h0M1300.3 1604.9h0M1246.6 1660.5h0M1128.8 1619.8h0M1193.9 1715.8h0M1263.7 1611.9h0M1157.5 1717.5h0M1213.4 1627.9h0M1304.2 1687.7h0M1123.1 1629.1h0M1240.6 1741.6h0M1165.2 1707.6h0M1195.9 1755.8h0M1183.6 1780.2h0M1092.9 1654.9h0M1233.0 1747.3h0M1198.3 1746.2h0M1277.7 1692.7h0M1195.8 1756.2h0M1223.9 1659.4h0M1276.4 1717.7h0M1262.5 1686.0h0M1255.9 1758.9h0M1292.3 1641.3h0M1210.8 1754.4h0M1108.8 1780.9h0M1214.7 1750.7h0M1131.7 1719.3h0M1284.3 1707.7h0M1125.0 1731.5h0M1118.1 1619.4h0M1249.0 1623.9h0M1092.4 1637.9h0M1311.7 1713.0h0M1211.7 1749.2h0M1268.0 1712.2h0M1217.4 1710.2h0M1277.9 1705.5h0M1223.2 1782.0h0M1310.4 1658.8h0M1307.6 1738.2h0" stroke="#49b9d6" stroke-width="2.6" opacity="0.85"/>
<path d="M1156.5 1705.6h0M1171.8 1757.2h0M1269.1 1713.3h0M1298.7 1744.4h0M1241.0 1671.5h0M1172.2 1745.7h0M1310.8 1669.7h0M1231.2 1677.7h0M1147.3 1712.3h0M1250.9 1777.0h0M1172.4 1652.6h0M1166.6 1673.3h0M1224.3 1668.4h0M1204.7 1728.1h0M1217.6 1668.0h0M1180.0 1696.3h0M1263.7 1762.7h0M1095.2 1724.8h0M1201.1 1673.4h0M1201.6 1625.5h0M1309.6 1682.4h0M1154.9 1713.2h0M1203.2 1661.3h0M1227.9 1643.1h0M1287.0 1769.2h0M1217.6 1704.5h0M1166.6 1754.3h0M1272.7 1673.7h0M1121.2 1673.4h0M1266.2 1667.4h0M1218.2 1671.8h0M1252.5 1696.2h0M1236.8 1654.0h0M1284.6 1645.0h0M1258.4 1768.2h0M1198.3 1625.7h0M1255.4 1687.5h0M1239.8 1671.3h0M1122.8 1682.1h0M1264.9 1741.0h0M1216.8 1699.6h0M1245.1 1759.4h0M1172.2 1741.4h0M1109.4 1692.2h0M1166.4 1701.3h0M1238.8 1768.1h0M1252.4 1735.9h0M1170.7 1662.3h0M1281.9 1668.6h0M1245.7 1754.1h0M1089.9 1738.0h0M1273.6 1635.4h0M1101.4 1612.6h0M1201.6 1666.6h0M1170.2 1624.8h0M1262.3 1747.3h0M1114.7 1604.4h0M1244.4 1726.9h0M1217.7 1686.1h0M1143.5 1641.5h0M1318.8 1766.2h0M1269.8 1710.7h0M1224.1 1718.6h0M1248.3 1617.7h0M1306.8 1728.2h0M1126.1 1662.5h0M1291.4 1647.8h0M1261.0 1718.4h0M1238.8 1605.9h0M1170.8 1612.3h0M1166.7 1676.1h0M1136.0 1729.3h0M1258.5 1740.5h0M1260.0 1754.6h0M1181.3 1751.5h0M1101.5 1721.9h0M1209.2 1766.0h0M1283.0 1777.6h0M1138.9 1617.6h0M1139.2 1764.5h0M1226.1 1696.6h0M1139.2 1711.4h0M1143.7 1626.8h0M1161.9 1680.5h0M1244.0 1665.2h0M1127.2 1720.2h0M1264.3 1717.5h0M1200.2 1663.0h0M1125.2 1778.8h0M1101.0 1687.3h0M1282.6 1646.5h0M1182.9 1651.8h0M1186.9 1671.3h0M1152.0 1659.6h0M1245.6 1741.4h0M1175.2 1703.5h0M1176.4 1775.8h0M1217.9 1706.0h0M1277.6 1778.9h0M1208.8 1708.9h0M1302.0 1688.3h0M1201.5 1733.3h0M1167.6 1641.4h0M1133.5 1750.1h0M1212.6 1774.7h0M1178.7 1680.9h0M1269.0 1626.9h0M1206.9 1665.0h0M1215.3 1642.8h0M1186.4 1625.3h0M1218.2 1739.1h0M1114.9 1703.0h0M1149.4 1709.2h0M1274.8 1739.3h0M1295.2 1745.4h0M1124.8 1782.4h0M1313.3 1694.1h0M1262.7 1627.1h0M1223.4 1681.9h0M1263.7 1632.8h0M1157.3 1774.8h0M1192.8 1675.4h0M1194.5 1706.7h0M1194.7 1746.9h0M1245.0 1781.5h0M1243.6 1619.5h0M1098.7 1629.4h0M1112.4 1716.1h0M1301.3 1627.9h0M1132.9 1630.2h0M1147.8 1769.2h0M1174.4 1663.4h0M1136.8 1741.5h0M1134.8 1743.0h0M1280.7 1686.0h0M1135.4 1664.7h0M1230.8 1781.1h0M1279.1 1670.3h0M1293.1 1642.1h0M1231.6 1631.0h0M1226.7 1689.0h0M1164.8 1783.2h0M1156.6 1637.9h0M1236.4 1638.5h0M1303.0 1639.8h0M1126.4 1642.8h0M1266.4 1747.9h0M1259.4 1766.5h0M1257.5 1701.2h0M1268.4 1741.8h0M1299.2 1608.5h0M1214.6 1657.2h0M1186.5 1746.0h0M1298.9 1711.1h0M1162.4 1698.1h0M1218.2 1686.0h0M1163.3 1633.4h0M1259.3 1689.6h0M1184.9 1617.1h0M1274.0 1772.1h0M1225.0 1656.2h0M1165.3 1650.6h0M1154.7 1711.1h0M1278.8 1783.4h0M1235.1 1700.0h0M1178.5 1716.5h0M1304.7 1620.8h0M1161.1 1659.4h0M1098.2 1726.0h0M1203.0 1768.1h0M1206.5 1735.3h0M1085.9 1719.2h0M1259.4 1625.2h0M1285.1 1619.1h0M1259.4 1762.3h0M1171.0 1611.0h0M1131.5 1720.6h0M1090.4 1605.5h0M1204.9 1747.2h0M1186.9 1660.1h0M1240.3 1654.1h0M1230.3 1609.1h0M1242.1 1682.4h0M1234.3 1702.7h0M1172.7 1712.5h0M1272.8 1716.9h0M1161.2 1729.8h0M1273.2 1615.9h0M1274.1 1724.6h0M1219.4 1616.3h0M1170.5 1661.0h0M1216.1 1613.8h0M1318.1 1608.5h0M1235.8 1764.0h0M1140.2 1760.1h0M1194.2 1693.8h0M1275.5 1754.4h0M1266.7 1773.9h0M1278.2 1699.2h0M1120.2 1660.7h0M1293.8 1713.8h0M1219.8 1708.2h0M1299.8 1618.8h0M1214.5 1711.4h0M1306.7 1691.7h0M1207.2 1672.3h0M1231.2 1694.0h0M1112.3 1720.5h0M1208.6 1781.9h0M1233.4 1665.8h0M1115.3 1675.6h0M1163.8 1756.1h0M1289.6 1715.5h0M1206.8 1647.9h0M1276.7 1754.2h0M1256.5 1765.0h0M1242.5 1623.4h0M1288.5 1688.6h0M1183.9 1665.7h0M1226.4 1746.9h0M1227.5 1628.5h0M1138.0 1611.7h0M1230.4 1699.2h0M1222.7 1690.5h0M1133.5 1752.9h0M1171.8 1751.3h0M1115.2 1665.3h0M1317.8 1646.7h0M1223.8 1645.0h0M1223.1 1618.7h0M1164.6 1698.7h0M1156.6 1749.2h0M1145.5 1728.8h0M1241.5 1650.3h0M1211.6 1659.9h0M1201.0 1605.9h0M1217.8 1731.4h0M1274.6 1684.9h0M1185.5 1672.8h0M1161.5 1690.7h0M1086.8 1696.9h0M1246.5 1774.9h0M1195.3 1639.8h0M1130.2 1616.2h0M1251.9 1748.0h0M1194.9 1642.4h0M1193.9 1680.6h0M1132.2 1778.5h0M1165.6 1691.3h0M1307.4 1691.3h0M1224.5 1695.2h0M1206.1 1783.1h0M1126.9 1774.9h0M1110.3 1691.6h0M1298.0 1630.2h0M1212.4 1765.9h0M1131.9 1731.4h0M1318.6 1752.5h0M1236.1 1731.4h0M1317.1 1707.8h0M1141.0 1765.9h0M1162.3 1623.2h0M1233.0 1742.0h0M1215.8 1675.0h0M1227.4 1767.8h0M1176.7 1610.9h0M1286.0 1734.3h0M1244.0 1703.5h0M1162.1 1670.4h0M1127.5 1632.2h0M1247.2 1742.4h0M1259.7 1611.2h0M1149.5 1705.2h0M1254.8 1747.5h0M1210.9 1673.2h0M1274.3 1782.3h0M1094.0 1659.1h0M1181.3 1607.0h0M1127.3 1639.3h0M1112.0 1609.6h0M1227.2 1647.3h0M1117.0 1648.6h0M1212.7 1780.3h0M1241.0 1604.5h0M1262.9 1647.5h0M1193.7 1677.7h0M1247.7 1716.7h0M1156.9 1674.2h0M1203.5 1683.4h0M1121.7 1623.3h0M1156.6 1678.5h0M1233.5 1726.2h0M1180.8 1760.8h0M1190.7 1757.6h0M1256.5 1703.7h0M1178.5 1768.7h0M1275.6 1748.7h0M1269.9 1779.2h0M1293.2 1718.4h0M1233.2 1736.6h0M1111.0 1738.4h0M1221.1 1660.1h0M1195.5 1738.8h0M1266.0 1676.2h0M1131.0 1646.9h0M1234.7 1760.4h0M1276.0 1660.9h0M1285.0 1725.3h0M1117.9 1666.4h0M1164.7 1686.5h0M1118.8 1665.0h0M1235.2 1658.9h0M1312.0 1646.6h0M1197.4 1748.6h0M1115.0 1615.2h0M1114.5 1648.9h0M1192.4 1634.7h0M1085.8 1703.2h0M1248.3 1700.4h0M1212.4 1692.1h0M1229.6 1710.8h0M1231.9 1667.1h0M1294.0 1623.1h0M1298.8 1780.5h0M1284.9 1645.0h0M1298.0 1749.2h0M1095.9 1700.9h0M1277.8 1658.8h0M1317.0 1607.9h0M1254.5 1604.7h0M1211.2 1674.9h0M1210.6 1762.7h0M1168.9 1661.4h0M1266.5 1637.8h0M1150.9 1630.1h0M1262.0 1751.1h0M1179.4 1756.2h0M1133.3 1720.3h0M1090.7 1648.2h0M1138.1 1736.0h0M1305.9 1643.2h0M1135.6 1677.7h0M1153.0 1747.2h0M1225.4 1662.2h0M1154.6 1701.4h0M1241.0 1624.2h0M1156.9 1643.1h0M1235.5 1708.8h0M1193.6 1703.0h0M1245.7 1697.6h0M1222.0 1662.9h0M1103.3 1676.8h0M1285.9 1702.2h0M1165.2 1732.3h0M1252.8 1738.1h0M1211.4 1605.2h0M1117.1 1616.5h0M1240.9 1715.2h0M1163.8 1630.3h0M1306.9 1756.6h0M1272.4 1750.6h0M1307.5 1760.4h0M1209.4 1683.8h0M1310.1 1711.8h0M1253.2 1744.5h0M1151.2 1703.8h0M1192.3 1666.3h0M1205.3 1668.8h0M1102.0 1690.2h0M1182.0 1692.2h0M1148.5 1643.9h0M1152.2 1711.7h0M1258.7 1680.3h0M1176.4 1690.5h0M1250.6 1676.4h0M1192.8 1657.7h0M1203.6 1672.2h0M1172.0 1711.6h0M1258.6 1730.0h0M1228.1 1733.2h0M1232.4 1679.8h0M1259.7 1666.5h0M1303.3 1761.4h0M1317.9 1667.1h0M1163.1 1659.1h0M1102.4 1660.1h0M1313.4 1747.2h0M1205.6 1739.1h0M1281.1 1773.4h0M1269.3 1683.6h0M1162.6 1694.6h0M1143.3 1617.0h0M1295.2 1688.0h0M1261.9 1725.7h0M1221.0 1671.0h0M1204.7 1695.6h0M1234.1 1622.3h0M1259.1 1685.4h0M1085.5 1719.4h0M1103.9 1701.0h0M1219.3 1727.8h0M1306.0 1652.4h0M1161.0 1604.5h0M1166.2 1669.1h0M1131.4 1765.9h0M1244.1 1767.7h0M1106.6 1702.9h0M1281.6 1696.7h0M1230.8 1611.8h0M1096.4 1696.5h0M1164.4 1647.0h0M1137.9 1762.2h0M1287.8 1763.6h0M1294.8 1726.4h0M1147.0 1740.7h0M1139.6 1618.5h0M1242.4 1748.0h0M1220.3 1678.8h0M1087.7 1716.7h0M1288.0 1745.5h0M1235.2 1757.5h0M1241.6 1621.3h0M1118.3 1712.7h0M1200.4 1721.7h0M1304.8 1685.6h0M1127.1 1714.3h0M1238.2 1703.7h0M1247.8 1631.0h0M1132.1 1760.7h0M1107.1 1696.7h0M1178.5 1740.2h0M1271.9 1670.6h0M1293.2 1737.8h0M1217.4 1646.8h0M1305.8 1661.1h0M1201.2 1649.5h0M1200.3 1751.3h0M1242.0 1634.9h0M1132.7 1720.5h0M1094.4 1692.2h0M1213.5 1665.4h0M1131.8 1665.6h0M1212.1 1768.6h0M1221.0 1662.7h0M1269.7 1679.2h0M1287.5 1769.5h0M1120.1 1650.2h0M1088.8 1777.0h0M1090.3 1657.7h0M1174.9 1744.3h0" stroke="#d0f7ee" stroke-width="1.5"/>
</g>
</g>
<g clip-path="url(#cp41)">
<rect x="1084.4" y="1802.4" width="235.5" height="182.3" fill="#03032a" stroke="none" stroke-width="1" />
<rect x="1084.4" y="1802.4" width="235.5" height="182.3" fill="#000" stroke="none" stroke-width="1" filter="url(#fb41)"/>
<ellipse cx="1115.02" cy="1820.63" rx="30.62" ry="16.41" fill="#1a14f0" opacity="0.8" filter="url(#blr)"/>
<ellipse cx="1155.05" cy="1930.01" rx="58.88" ry="36.46" fill="#1f8fa0" opacity="0.25" filter="url(#blr2)"/>
<ellipse cx="1272.8" cy="1939.12" rx="35.32" ry="27.34" fill="#1f8fa0" opacity="0.25" filter="url(#blr2)"/>
<ellipse cx="1150.34" cy="1831.57" rx="7.06" ry="7.29" fill="#010110" opacity="0.8" filter="url(#blr)"/>
<ellipse cx="1308.12" cy="1842.51" rx="7.06" ry="7.29" fill="#010110" opacity="0.8" filter="url(#blr)"/>
<ellipse cx="1242.19" cy="1926.36" rx="7.06" ry="7.29" fill="#010110" opacity="0.8" filter="url(#blr)"/>
<ellipse cx="1190.38" cy="1871.67" rx="7.06" ry="5.47" fill="#010110" opacity="0.6" filter="url(#blr)"/>
<g fill="none" stroke-linecap="round" filter="url(#blr0)">
<path d="M1188.9 1885.1h0M1265.7 1840.7h0M1176.0 1969.0h0M1207.0 1974.9h0M1192.0 1843.7h0M1218.2 1921.0h0M1292.7 1813.0h0M1136.1 1889.1h0M1241.9 1875.8h0M1306.1 1857.8h0M1198.1 1929.7h0M1169.6 1891.7h0M1302.5 1939.8h0M1122.6 1865.8h0M1231.6 1940.6h0M1166.1 1895.1h0M1249.1 1876.1h0M1126.3 1927.9h0M1115.2 1930.3h0M1268.9 1864.7h0M1204.2 1979.4h0M1229.7 1926.5h0M1237.1 1848.3h0M1282.6 1845.1h0M1232.1 1872.2h0M1270.1 1876.4h0M1141.1 1871.5h0M1232.5 1845.6h0M1287.0 1878.7h0M1288.5 1906.8h0M1171.2 1899.8h0M1181.6 1828.7h0M1233.7 1866.3h0M1145.9 1903.4h0M1204.2 1964.2h0M1179.0 1869.1h0M1303.3 1884.0h0M1203.4 1825.2h0M1173.0 1812.3h0M1122.4 1827.4h0M1249.9 1950.2h0M1190.3 1916.9h0M1087.5 1891.8h0M1252.1 1835.6h0M1156.2 1839.9h0M1190.7 1947.4h0M1120.3 1934.9h0M1147.4 1949.1h0M1191.8 1877.2h0M1255.3 1866.2h0M1120.4 1820.5h0M1086.4 1852.0h0M1186.1 1814.4h0M1134.5 1892.3h0M1201.5 1867.3h0M1216.8 1931.2h0M1302.8 1901.5h0M1175.7 1955.5h0M1245.8 1871.3h0M1119.4 1938.9h0M1307.8 1860.6h0M1255.4 1974.3h0M1138.0 1828.8h0M1259.7 1832.1h0M1137.2 1905.9h0M1264.7 1831.8h0M1236.0 1940.1h0M1310.0 1853.9h0M1271.7 1862.9h0M1101.3 1862.2h0M1218.6 1884.8h0M1182.4 1944.8h0M1092.0 1937.3h0M1231.7 1873.6h0M1134.0 1975.6h0M1163.6 1861.5h0M1088.2 1901.9h0M1192.8 1958.2h0M1140.7 1891.2h0M1314.6 1825.0h0M1217.3 1954.4h0M1141.1 1898.7h0M1137.1 1874.3h0M1135.9 1941.5h0M1184.1 1855.2h0M1272.9 1953.6h0M1246.6 1842.0h0M1220.2 1855.3h0M1093.7 1824.3h0M1296.9 1875.5h0M1303.8 1871.3h0M1302.7 1834.0h0M1138.0 1857.5h0M1110.9 1826.4h0M1272.7 1878.0h0M1111.7 1945.6h0M1223.1 1857.1h0M1100.3 1979.6h0M1196.1 1807.3h0M1270.2 1953.9h0M1215.7 1855.7h0M1309.0 1945.2h0M1104.9 1947.8h0M1252.0 1935.7h0M1152.6 1934.8h0M1238.0 1868.1h0M1181.6 1904.0h0M1105.7 1831.0h0M1098.1 1873.9h0M1099.0 1873.5h0M1253.8 1967.3h0M1148.3 1822.2h0M1211.1 1924.1h0M1133.0 1888.0h0M1116.1 1928.4h0M1273.4 1964.9h0M1199.6 1892.1h0M1176.9 1921.9h0M1305.5 1851.9h0M1298.2 1854.2h0M1302.1 1884.3h0M1243.2 1810.6h0M1108.1 1955.3h0M1209.3 1960.9h0M1254.3 1965.0h0M1242.1 1834.3h0M1175.1 1896.5h0M1270.6 1821.1h0M1228.8 1844.5h0M1205.8 1908.2h0M1261.1 1831.3h0M1231.7 1933.7h0M1285.9 1968.2h0M1224.0 1865.6h0M1179.2 1847.2h0M1227.8 1910.2h0M1203.3 1864.4h0M1167.8 1891.6h0M1186.1 1886.2h0M1180.1 1940.2h0M1100.5 1827.3h0M1218.6 1972.5h0M1120.0 1837.4h0M1136.5 1811.7h0M1158.3 1975.5h0M1160.9 1904.3h0M1144.5 1868.7h0M1150.3 1880.6h0M1142.7 1811.7h0M1308.0 1969.0h0M1160.1 1852.8h0M1294.9 1950.4h0M1131.8 1830.2h0M1217.4 1919.3h0M1191.4 1895.6h0M1187.9 1815.7h0M1286.2 1817.3h0M1087.5 1968.0h0M1248.6 1806.1h0M1268.7 1828.4h0M1151.7 1875.1h0M1227.3 1906.6h0M1253.0 1899.7h0M1283.6 1979.9h0M1175.1 1979.6h0M1206.8 1902.2h0M1167.6 1935.5h0M1209.8 1959.0h0M1175.6 1836.1h0M1268.8 1893.6h0M1260.5 1944.9h0M1227.7 1852.9h0M1156.8 1981.6h0M1199.0 1969.6h0M1173.9 1809.7h0M1253.8 1846.5h0M1225.8 1967.1h0M1198.9 1824.9h0M1147.2 1922.9h0M1190.4 1866.1h0M1235.8 1949.8h0M1087.9 1807.7h0M1275.6 1900.8h0M1153.4 1978.9h0M1216.9 1888.3h0M1228.1 1871.9h0M1157.8 1827.7h0M1133.9 1894.9h0M1131.0 1894.9h0M1294.1 1891.2h0M1194.8 1974.6h0M1235.1 1939.0h0M1314.9 1836.7h0M1140.5 1971.6h0M1110.3 1944.2h0M1238.8 1875.9h0M1135.5 1862.3h0M1219.0 1913.0h0M1143.6 1881.0h0M1195.3 1826.4h0M1138.4 1924.7h0M1314.7 1951.3h0M1297.9 1890.3h0M1201.9 1889.7h0M1282.9 1911.1h0M1195.9 1824.2h0M1149.3 1863.7h0M1199.4 1909.7h0M1170.3 1907.2h0M1184.9 1928.9h0M1108.2 1916.0h0M1140.2 1827.6h0M1206.7 1925.2h0M1122.4 1947.8h0M1277.7 1942.6h0M1119.0 1869.6h0M1228.3 1884.5h0M1267.9 1953.9h0M1302.6 1876.5h0M1268.0 1899.4h0M1188.8 1935.6h0M1222.4 1961.5h0M1299.2 1815.1h0M1290.8 1903.9h0M1298.6 1878.4h0M1178.2 1979.2h0M1102.5 1812.3h0M1264.9 1827.5h0M1210.5 1896.7h0M1164.9 1942.0h0M1297.6 1865.8h0M1300.4 1817.2h0M1087.6 1949.7h0M1296.2 1866.9h0M1090.4 1872.2h0M1207.5 1961.7h0M1225.6 1814.3h0M1198.0 1955.3h0M1148.8 1838.3h0M1203.3 1912.3h0M1287.7 1963.1h0M1262.4 1935.9h0M1102.2 1934.6h0M1245.5 1904.5h0M1277.3 1872.4h0M1160.6 1956.7h0M1241.3 1889.0h0M1205.4 1816.6h0M1159.1 1951.3h0M1201.9 1975.9h0M1250.4 1927.8h0M1255.7 1810.3h0M1143.1 1849.8h0M1296.3 1803.6h0M1196.2 1849.6h0M1301.0 1804.2h0M1120.2 1901.0h0M1099.8 1845.9h0M1203.9 1856.6h0M1132.6 1917.2h0M1248.7 1938.0h0M1244.5 1843.5h0M1223.3 1918.8h0M1136.9 1935.1h0M1172.3 1982.2h0M1112.7 1963.6h0M1163.0 1886.5h0M1264.6 1921.5h0M1149.9 1947.6h0M1239.7 1977.4h0M1216.7 1903.1h0M1301.1 1977.3h0M1112.1 1932.2h0M1315.4 1823.1h0M1173.8 1835.2h0M1173.1 1896.2h0M1298.2 1944.6h0M1217.4 1830.0h0M1176.7 1907.9h0M1234.4 1904.2h0M1120.5 1949.2h0M1212.1 1953.6h0M1194.0 1931.2h0M1281.3 1869.3h0M1180.6 1955.6h0M1191.5 1842.9h0M1267.9 1883.0h0M1225.2 1922.7h0M1119.4 1926.5h0M1282.8 1950.7h0M1113.2 1896.4h0M1096.8 1833.7h0M1086.0 1922.8h0M1289.1 1868.6h0M1306.8 1868.1h0M1310.7 1952.4h0M1180.7 1960.0h0M1280.6 1935.8h0M1248.1 1918.5h0M1159.9 1930.5h0M1178.9 1931.9h0M1139.2 1826.9h0M1184.5 1878.9h0M1118.9 1866.4h0M1215.8 1865.7h0M1159.7 1816.4h0M1103.2 1862.9h0M1193.2 1816.6h0M1152.9 1872.7h0M1255.6 1915.8h0M1200.7 1895.0h0M1259.3 1828.2h0M1197.3 1892.7h0M1223.0 1967.7h0M1287.6 1905.1h0M1213.6 1840.0h0M1314.2 1847.4h0M1119.0 1810.6h0M1149.7 1888.3h0M1101.3 1923.0h0M1102.2 1832.8h0M1268.9 1981.7h0M1214.5 1926.2h0M1269.8 1819.2h0M1293.3 1929.1h0M1255.2 1919.7h0M1262.8 1944.3h0M1245.6 1838.5h0M1176.7 1833.6h0M1311.2 1950.5h0M1171.4 1968.3h0M1167.5 1822.9h0M1118.6 1862.7h0M1188.5 1907.0h0M1151.3 1937.4h0M1262.9 1819.0h0M1097.4 1825.9h0M1295.5 1884.9h0M1300.9 1835.7h0M1270.6 1940.5h0M1123.9 1807.6h0M1254.5 1876.7h0M1300.0 1905.1h0M1140.3 1962.2h0M1249.7 1832.2h0M1113.5 1882.4h0M1317.2 1977.3h0M1189.0 1900.0h0M1283.1 1946.6h0M1149.2 1909.9h0M1284.9 1854.5h0M1221.1 1901.0h0M1313.3 1963.7h0M1222.9 1896.4h0M1126.5 1826.7h0M1112.5 1859.7h0M1299.1 1891.4h0M1139.8 1926.7h0M1266.9 1862.9h0M1202.3 1811.6h0M1245.5 1895.6h0M1292.6 1969.5h0M1262.6 1912.3h0M1284.6 1967.9h0M1129.4 1930.3h0M1168.8 1929.5h0M1117.6 1904.4h0M1165.0 1854.5h0M1150.8 1924.5h0M1099.0 1912.2h0M1152.5 1937.2h0M1169.8 1954.8h0M1234.0 1848.4h0M1276.5 1892.9h0M1265.5 1854.8h0M1225.0 1851.9h0M1146.7 1823.1h0M1210.9 1947.1h0M1115.8 1836.3h0M1196.8 1925.6h0M1204.9 1953.3h0M1257.1 1968.9h0M1251.2 1963.6h0M1185.5 1982.1h0M1162.4 1901.8h0M1096.6 1888.2h0M1291.1 1862.7h0M1101.2 1886.8h0M1178.7 1917.2h0M1198.3 1929.0h0M1307.7 1931.4h0M1219.2 1954.9h0M1220.8 1889.6h0M1163.2 1970.2h0M1178.6 1940.8h0M1158.4 1835.0h0M1114.2 1846.2h0M1283.0 1868.2h0M1187.5 1815.1h0M1214.2 1981.0h0M1293.1 1895.6h0M1284.9 1960.3h0M1271.3 1883.6h0M1272.3 1833.5h0M1229.4 1914.7h0M1179.4 1869.8h0M1306.6 1822.8h0M1157.7 1900.0h0M1086.0 1871.6h0M1257.9 1963.9h0M1160.9 1858.3h0M1217.5 1833.0h0M1279.8 1907.5h0M1302.7 1852.5h0M1309.4 1848.7h0M1159.9 1884.9h0M1236.6 1920.9h0M1154.8 1847.8h0M1255.2 1817.0h0M1111.4 1809.2h0M1218.0 1936.6h0M1107.7 1826.3h0M1176.7 1852.9h0M1240.1 1849.3h0M1109.5 1825.4h0M1208.9 1945.4h0M1106.1 1901.4h0M1148.8 1848.0h0M1301.9 1930.1h0M1251.0 1849.6h0M1242.6 1842.1h0M1308.0 1803.8h0M1190.3 1944.5h0M1240.1 1815.7h0M1169.8 1828.5h0M1218.6 1879.8h0M1196.1 1900.7h0M1114.3 1934.5h0M1270.5 1909.4h0M1297.2 1816.9h0M1110.0 1943.6h0M1235.8 1964.1h0M1289.7 1928.6h0M1257.5 1867.5h0M1184.7 1857.9h0M1179.9 1845.6h0M1147.4 1966.8h0M1204.4 1976.1h0M1156.4 1892.6h0M1169.4 1821.1h0M1210.9 1846.2h0M1216.5 1811.1h0M1239.7 1890.2h0M1206.2 1882.2h0M1097.0 1904.4h0M1284.9 1941.3h0M1109.1 1842.3h0M1213.2 1888.4h0M1280.6 1834.7h0M1141.2 1916.2h0M1125.9 1889.6h0M1195.4 1863.7h0M1216.6 1890.9h0M1288.0 1812.3h0M1164.9 1880.5h0M1246.2 1926.1h0M1181.4 1817.9h0M1136.3 1903.3h0M1141.5 1912.6h0M1270.4 1966.7h0M1275.5 1854.3h0M1105.5 1931.5h0M1318.1 1971.7h0M1296.9 1974.2h0M1186.2 1949.4h0M1101.3 1854.7h0M1191.8 1892.9h0M1159.0 1885.8h0M1292.2 1888.1h0M1121.3 1952.8h0M1307.9 1880.7h0M1187.4 1897.0h0M1175.5 1852.1h0M1195.5 1860.7h0M1138.5 1872.4h0M1222.0 1804.8h0M1293.7 1903.0h0M1100.4 1880.2h0M1264.1 1954.3h0M1298.8 1939.5h0M1203.1 1890.6h0M1207.7 1807.8h0M1090.1 1947.7h0M1175.9 1846.6h0M1315.4 1841.0h0M1279.3 1811.0h0M1269.6 1806.6h0M1220.4 1852.3h0M1244.5 1902.7h0M1281.1 1979.7h0M1293.4 1938.1h0M1090.3 1937.5h0M1303.9 1928.7h0M1205.2 1868.7h0M1146.6 1863.9h0M1117.6 1916.8h0M1095.2 1870.9h0M1143.8 1814.7h0M1227.5 1814.4h0M1140.9 1940.9h0M1109.3 1829.0h0M1179.0 1829.2h0M1116.8 1907.6h0M1243.5 1975.7h0M1314.8 1924.3h0M1216.9 1859.8h0M1107.2 1803.7h0M1089.8 1895.4h0M1180.2 1829.0h0M1201.3 1836.3h0M1284.1 1844.1h0M1245.1 1962.7h0M1293.8 1871.2h0M1102.0 1957.6h0M1274.5 1818.6h0M1097.2 1936.5h0M1131.8 1899.6h0M1127.1 1928.8h0M1267.6 1937.4h0M1148.4 1881.8h0M1143.0 1914.5h0M1198.0 1921.8h0M1181.5 1878.8h0M1210.9 1899.1h0M1294.6 1869.1h0M1114.4 1903.6h0M1182.6 1909.8h0M1218.6 1888.5h0M1242.5 1878.0h0M1126.2 1910.4h0M1150.0 1877.4h0M1224.6 1842.3h0M1310.2 1982.4h0M1237.4 1893.5h0M1301.0 1975.9h0M1086.9 1853.3h0M1172.1 1833.7h0M1142.5 1936.3h0M1182.5 1875.9h0M1284.2 1911.1h0M1195.2 1923.0h0M1166.3 1845.7h0M1282.7 1897.2h0M1246.6 1891.3h0M1227.9 1965.4h0M1229.6 1970.5h0M1135.9 1948.5h0M1190.2 1914.2h0M1305.0 1882.6h0M1195.7 1832.6h0M1298.1 1915.1h0M1282.7 1891.2h0M1126.6 1980.1h0M1202.2 1947.0h0M1096.1 1855.8h0M1099.7 1915.2h0M1090.2 1899.8h0M1161.1 1913.5h0M1257.4 1836.9h0M1191.1 1838.5h0M1310.0 1844.8h0M1127.5 1912.5h0M1227.2 1975.5h0M1254.7 1874.2h0M1244.2 1855.3h0M1149.8 1870.6h0M1256.6 1848.6h0M1177.4 1958.6h0M1109.6 1908.2h0M1222.1 1979.8h0M1303.4 1864.4h0M1237.1 1949.6h0M1116.1 1808.3h0M1161.9 1886.0h0M1210.3 1913.9h0M1296.6 1914.1h0M1156.1 1969.8h0M1218.4 1943.7h0M1154.2 1900.4h0M1249.2 1835.5h0M1296.7 1958.3h0M1131.8 1910.4h0M1259.9 1811.3h0M1197.8 1894.7h0M1196.2 1892.1h0M1281.1 1832.4h0M1157.4 1809.2h0M1086.7 1863.3h0M1231.1 1946.7h0M1159.8 1910.3h0M1102.8 1948.1h0M1287.3 1863.1h0M1159.0 1843.7h0M1274.4 1931.1h0M1182.5 1885.1h0M1143.7 1893.9h0M1103.9 1925.3h0M1200.3 1805.0h0M1163.4 1902.3h0M1304.0 1903.2h0M1197.0 1970.1h0M1137.1 1891.3h0M1157.5 1922.9h0M1190.5 1916.5h0M1093.3 1907.2h0M1171.9 1805.4h0M1096.7 1981.3h0M1277.7 1855.6h0M1101.5 1811.7h0M1169.9 1948.5h0M1137.7 1934.0h0M1171.6 1875.7h0M1264.7 1937.2h0M1209.4 1824.2h0M1177.6 1818.2h0M1153.8 1975.5h0M1191.5 1916.1h0M1315.0 1832.3h0M1301.1 1807.3h0M1252.6 1940.0h0M1219.4 1946.8h0M1246.1 1913.5h0M1188.8 1831.4h0M1121.7 1946.5h0M1189.9 1977.9h0M1106.5 1829.4h0M1115.3 1950.6h0M1139.2 1831.2h0M1271.9 1934.6h0M1182.0 1815.5h0M1097.6 1908.9h0M1204.0 1862.9h0M1299.9 1901.4h0M1173.4 1967.8h0M1191.9 1814.4h0M1247.0 1837.1h0M1281.1 1925.6h0M1289.6 1830.8h0M1298.7 1945.7h0M1303.2 1865.7h0M1288.4 1854.0h0M1274.6 1953.8h0M1104.4 1954.6h0M1164.7 1811.9h0M1138.3 1906.9h0M1291.4 1850.3h0M1146.8 1894.0h0M1271.2 1855.6h0M1137.9 1861.4h0M1217.4 1839.4h0M1187.7 1877.9h0M1281.9 1871.5h0M1171.5 1978.3h0M1164.4 1821.4h0M1145.2 1811.9h0M1217.6 1913.9h0M1182.1 1898.3h0M1160.5 1881.5h0M1188.6 1952.6h0M1131.9 1803.6h0M1245.0 1882.3h0M1214.1 1951.4h0M1089.9 1926.8h0M1171.0 1827.7h0M1092.8 1879.5h0M1169.8 1893.2h0M1288.1 1921.1h0M1187.8 1939.1h0M1152.0 1815.4h0M1113.1 1905.2h0M1112.1 1820.4h0M1313.4 1879.1h0M1238.5 1976.5h0M1102.8 1880.7h0M1222.5 1972.2h0M1159.3 1838.8h0M1126.8 1848.6h0M1290.7 1947.3h0M1269.9 1901.9h0M1304.7 1882.4h0M1112.2 1809.9h0M1283.5 1880.5h0M1219.3 1883.8h0M1273.7 1934.4h0M1096.5 1817.8h0M1163.3 1876.3h0M1191.4 1889.0h0M1126.2 1897.1h0M1197.2 1805.1h0M1155.2 1880.7h0M1228.2 1942.3h0M1271.6 1833.5h0M1266.1 1943.2h0M1296.1 1873.1h0M1132.0 1869.5h0M1148.1 1867.1h0M1107.4 1834.4h0M1236.1 1838.4h0M1130.7 1867.8h0M1110.4 1928.1h0M1297.9 1839.4h0M1258.1 1913.8h0M1176.4 1935.5h0M1264.2 1896.3h0M1304.0 1981.2h0M1237.7 1910.4h0M1156.6 1824.2h0M1259.8 1972.8h0M1212.7 1961.6h0M1188.6 1954.1h0M1252.5 1901.4h0M1210.6 1919.0h0M1184.4 1855.6h0M1156.7 1898.7h0M1131.8 1885.2h0M1246.4 1803.7h0M1273.2 1976.0h0M1137.8 1810.3h0M1188.8 1897.2h0M1157.9 1844.4h0M1204.3 1838.5h0M1310.0 1977.8h0M1232.8 1867.2h0M1137.4 1864.2h0M1248.7 1915.2h0M1113.3 1825.3h0M1236.8 1904.9h0M1168.7 1906.6h0M1238.0 1831.7h0M1125.2 1847.9h0M1168.7 1885.3h0M1238.2 1821.2h0M1210.1 1887.8h0M1137.9 1867.3h0M1198.2 1842.6h0M1299.7 1835.2h0M1215.6 1973.1h0M1219.4 1929.4h0M1103.7 1960.3h0M1318.4 1972.1h0M1275.7 1899.6h0M1217.4 1839.0h0M1101.0 1920.3h0M1216.4 1921.0h0M1280.9 1941.7h0M1213.0 1887.1h0M1234.5 1972.7h0M1132.6 1925.8h0M1193.8 1910.4h0M1140.1 1896.1h0M1197.7 1978.7h0M1216.4 1887.6h0M1235.7 1824.4h0M1306.7 1926.8h0M1094.9 1887.6h0M1289.7 1950.1h0M1281.2 1923.4h0M1123.7 1896.5h0M1256.5 1971.0h0M1295.0 1866.0h0M1134.3 1937.3h0M1239.6 1913.2h0M1157.4 1913.0h0M1207.7 1805.0h0M1098.5 1951.5h0M1234.6 1877.1h0M1283.9 1881.1h0M1158.3 1865.4h0M1277.2 1975.8h0M1164.0 1898.6h0M1247.6 1916.4h0M1295.6 1906.5h0M1144.0 1911.6h0M1177.8 1830.9h0M1131.2 1906.5h0M1197.7 1858.8h0M1269.1 1938.3h0M1180.2 1943.6h0M1085.7 1864.9h0M1241.0 1949.4h0M1110.5 1845.8h0M1100.6 1816.4h0M1313.8 1836.6h0M1110.6 1908.3h0M1150.0 1857.4h0M1118.2 1959.3h0M1306.4 1906.6h0M1160.8 1912.9h0M1094.1 1982.4h0M1175.2 1836.3h0M1246.5 1957.6h0M1176.4 1862.9h0M1120.3 1926.6h0M1184.5 1971.7h0M1093.0 1914.3h0M1085.6 1914.6h0M1280.4 1956.3h0M1227.9 1975.9h0M1169.5 1875.2h0M1310.3 1900.9h0M1182.6 1955.1h0M1236.6 1862.9h0M1232.9 1831.7h0M1157.8 1916.5h0M1314.1 1870.7h0M1249.4 1882.9h0M1256.9 1909.5h0M1204.0 1851.2h0M1101.6 1865.6h0M1087.4 1828.2h0M1152.1 1806.8h0M1161.9 1893.4h0M1181.2 1979.6h0M1302.2 1908.6h0M1208.9 1870.7h0M1129.2 1969.8h0M1145.9 1917.9h0M1275.6 1922.3h0M1095.2 1883.4h0M1208.9 1870.5h0M1142.1 1966.8h0M1267.0 1871.9h0M1113.5 1967.4h0M1195.9 1939.5h0M1299.3 1809.2h0M1203.3 1894.0h0M1143.2 1911.5h0M1113.2 1939.8h0M1257.0 1804.5h0M1227.2 1951.0h0M1183.4 1901.3h0M1128.1 1841.1h0M1185.5 1967.3h0M1222.4 1947.0h0M1230.2 1874.2h0M1108.3 1848.5h0M1200.5 1937.1h0M1203.0 1921.5h0M1279.6 1952.3h0M1149.9 1899.2h0M1211.7 1932.2h0M1135.1 1825.6h0M1239.2 1868.7h0M1308.5 1827.5h0M1318.6 1914.4h0M1306.2 1813.0h0M1291.5 1960.5h0M1299.6 1891.7h0M1180.0 1840.1h0M1270.9 1941.0h0M1260.8 1926.2h0M1309.0 1939.1h0M1171.0 1853.5h0M1197.6 1939.6h0M1153.5 1883.7h0M1211.7 1824.4h0M1214.2 1839.3h0M1184.2 1862.2h0M1300.2 1834.4h0M1166.8 1824.0h0M1258.1 1972.7h0M1187.2 1919.6h0M1156.2 1859.0h0M1210.2 1945.6h0M1241.9 1855.2h0M1162.4 1920.1h0M1270.1 1910.1h0M1252.2 1937.9h0M1113.4 1982.8h0M1269.6 1808.4h0M1127.3 1968.9h0M1099.6 1907.8h0M1130.3 1909.9h0M1124.5 1813.8h0M1183.6 1848.0h0M1234.1 1922.9h0M1122.8 1949.9h0M1188.7 1842.7h0M1170.4 1974.2h0M1299.8 1977.6h0M1274.8 1809.7h0M1195.8 1927.7h0M1181.6 1826.1h0M1230.6 1902.2h0M1192.5 1894.0h0M1119.6 1835.9h0M1257.1 1804.8h0M1298.6 1890.7h0M1207.2 1882.8h0M1147.8 1898.0h0M1229.4 1892.7h0M1251.0 1892.8h0M1255.9 1826.6h0M1105.8 1968.3h0M1126.5 1965.9h0M1169.7 1969.2h0M1217.0 1983.0h0M1169.1 1961.9h0M1305.6 1859.0h0M1317.0 1845.3h0M1159.6 1835.1h0M1178.9 1953.3h0M1308.9 1824.2h0M1232.7 1858.1h0M1239.5 1881.7h0M1216.7 1819.4h0M1248.6 1855.6h0M1208.3 1887.4h0M1144.7 1890.0h0M1089.6 1868.9h0M1086.9 1909.8h0M1086.2 1844.1h0M1249.9 1890.4h0M1291.5 1871.4h0M1257.5 1974.7h0M1297.8 1865.0h0M1283.8 1945.6h0M1298.2 1944.0h0M1173.6 1838.8h0M1266.4 1810.1h0M1290.0 1880.0h0M1177.9 1975.2h0M1316.1 1978.5h0M1150.5 1944.7h0M1252.3 1977.7h0M1295.4 1898.3h0M1281.8 1811.6h0M1296.0 1946.3h0M1199.1 1950.1h0M1259.2 1871.6h0M1227.3 1975.4h0M1220.7 1926.8h0M1161.2 1836.8h0M1313.6 1880.2h0M1166.9 1815.0h0M1150.4 1804.5h0M1146.3 1894.2h0M1093.0 1835.7h0M1152.2 1952.6h0M1262.0 1915.3h0M1284.3 1879.0h0M1193.9 1919.5h0M1101.8 1868.5h0M1109.3 1819.2h0M1283.3 1936.2h0M1228.1 1891.5h0M1219.3 1905.8h0M1126.5 1935.8h0M1267.5 1945.1h0M1173.2 1967.7h0M1143.8 1852.2h0M1226.6 1834.2h0M1095.0 1921.5h0M1228.6 1906.5h0M1195.3 1820.7h0M1229.7 1832.9h0M1226.0 1931.4h0M1314.7 1879.5h0M1283.8 1965.8h0M1306.9 1967.7h0M1229.3 1898.8h0M1297.6 1860.9h0M1226.5 1818.0h0M1272.3 1930.7h0M1256.1 1805.7h0M1173.5 1891.4h0M1273.3 1839.2h0M1097.9 1810.9h0M1291.4 1924.1h0M1202.5 1878.6h0M1234.5 1942.6h0M1290.3 1843.3h0M1131.8 1856.3h0M1092.3 1939.1h0M1215.1 1874.9h0M1264.8 1951.2h0M1180.9 1915.2h0M1213.4 1976.4h0M1170.8 1809.6h0M1144.7 1823.3h0M1128.2 1974.7h0M1264.6 1855.6h0M1209.4 1966.8h0M1156.2 1805.4h0M1197.0 1939.4h0M1207.2 1903.5h0M1308.1 1931.2h0M1233.5 1875.6h0M1304.7 1822.9h0M1265.8 1808.3h0M1192.4 1975.0h0M1278.7 1848.0h0M1196.6 1823.2h0M1154.6 1924.8h0M1143.4 1854.1h0M1256.7 1928.4h0M1303.0 1978.5h0M1312.3 1954.5h0M1202.8 1921.0h0M1170.0 1814.0h0M1186.0 1867.1h0M1090.4 1923.5h0M1283.6 1820.6h0M1153.4 1898.5h0M1264.7 1927.2h0M1146.1 1886.5h0M1108.9 1976.0h0M1179.9 1811.8h0M1182.2 1979.2h0M1283.4 1826.1h0M1167.5 1940.0h0M1163.9 1926.2h0M1264.6 1941.2h0M1143.5 1934.4h0M1127.9 1970.0h0M1165.7 1809.7h0M1229.7 1812.8h0M1289.4 1843.0h0M1315.9 1862.1h0M1097.0 1941.7h0M1210.2 1842.2h0M1198.4 1843.0h0M1168.7 1943.9h0M1311.5 1859.0h0M1271.7 1868.9h0M1155.6 1837.7h0M1179.4 1859.7h0M1281.6 1854.0h0M1252.7 1852.5h0M1095.5 1820.2h0M1302.7 1823.7h0M1203.9 1966.6h0M1229.2 1820.0h0M1149.0 1844.2h0M1187.6 1950.5h0M1086.8 1953.0h0M1114.3 1841.6h0M1275.7 1934.8h0M1234.9 1918.3h0M1201.2 1859.8h0M1239.6 1862.2h0M1203.6 1951.2h0M1236.6 1905.4h0M1169.5 1868.5h0M1206.4 1960.4h0M1271.7 1971.6h0M1289.5 1873.4h0M1236.7 1831.0h0M1114.0 1825.4h0M1234.4 1860.7h0M1104.6 1815.3h0M1156.0 1905.0h0M1290.1 1976.6h0M1249.3 1895.8h0M1239.4 1949.9h0M1294.5 1963.8h0M1087.5 1951.4h0M1315.5 1945.2h0M1309.9 1827.2h0M1312.0 1904.3h0M1226.0 1935.9h0M1297.8 1960.2h0M1200.1 1865.4h0M1300.4 1849.7h0M1161.1 1824.8h0M1239.0 1886.2h0M1188.1 1924.2h0M1217.0 1940.6h0M1247.1 1896.1h0M1162.5 1807.6h0M1119.4 1899.8h0M1118.7 1970.2h0M1218.5 1898.1h0M1302.9 1917.1h0M1097.9 1903.2h0M1258.5 1899.4h0M1164.6 1844.0h0M1131.7 1941.6h0M1134.9 1958.0h0M1192.8 1969.1h0M1239.1 1851.7h0M1187.7 1951.9h0M1164.1 1840.6h0M1218.7 1891.4h0M1216.6 1840.9h0M1262.0 1904.1h0M1203.1 1879.3h0M1252.3 1828.8h0M1140.8 1860.8h0M1143.6 1870.2h0" stroke="#49b9d6" stroke-width="2.8" opacity="0.9"/>
<path d="M1188.9 1885.1h0M1265.7 1840.7h0M1176.0 1969.0h0M1207.0 1974.9h0M1192.0 1843.7h0M1218.2 1921.0h0M1292.7 1813.0h0M1136.1 1889.1h0M1241.9 1875.8h0M1306.1 1857.8h0M1198.1 1929.7h0M1169.6 1891.7h0M1302.5 1939.8h0M1122.6 1865.8h0M1231.6 1940.6h0M1166.1 1895.1h0M1249.1 1876.1h0M1126.3 1927.9h0M1115.2 1930.3h0M1268.9 1864.7h0M1204.2 1979.4h0M1229.7 1926.5h0M1237.1 1848.3h0M1282.6 1845.1h0M1232.1 1872.2h0M1270.1 1876.4h0M1141.1 1871.5h0M1232.5 1845.6h0M1287.0 1878.7h0M1288.5 1906.8h0M1171.2 1899.8h0M1181.6 1828.7h0M1233.7 1866.3h0M1145.9 1903.4h0M1204.2 1964.2h0M1179.0 1869.1h0M1303.3 1884.0h0M1203.4 1825.2h0M1173.0 1812.3h0M1122.4 1827.4h0M1249.9 1950.2h0M1190.3 1916.9h0M1087.5 1891.8h0M1252.1 1835.6h0M1156.2 1839.9h0M1190.7 1947.4h0M1120.3 1934.9h0M1147.4 1949.1h0M1191.8 1877.2h0M1255.3 1866.2h0M1120.4 1820.5h0M1086.4 1852.0h0M1186.1 1814.4h0M1134.5 1892.3h0M1201.5 1867.3h0M1216.8 1931.2h0M1302.8 1901.5h0M1175.7 1955.5h0M1245.8 1871.3h0M1119.4 1938.9h0M1307.8 1860.6h0M1255.4 1974.3h0M1138.0 1828.8h0M1259.7 1832.1h0M1137.2 1905.9h0M1264.7 1831.8h0M1236.0 1940.1h0M1310.0 1853.9h0M1271.7 1862.9h0M1101.3 1862.2h0M1218.6 1884.8h0M1182.4 1944.8h0M1092.0 1937.3h0M1231.7 1873.6h0M1134.0 1975.6h0M1163.6 1861.5h0M1088.2 1901.9h0M1192.8 1958.2h0M1140.7 1891.2h0M1314.6 1825.0h0M1217.3 1954.4h0M1141.1 1898.7h0M1137.1 1874.3h0M1135.9 1941.5h0M1184.1 1855.2h0M1272.9 1953.6h0M1246.6 1842.0h0M1220.2 1855.3h0M1093.7 1824.3h0M1296.9 1875.5h0M1303.8 1871.3h0M1302.7 1834.0h0M1138.0 1857.5h0M1110.9 1826.4h0M1272.7 1878.0h0M1111.7 1945.6h0M1223.1 1857.1h0M1100.3 1979.6h0M1196.1 1807.3h0M1270.2 1953.9h0M1215.7 1855.7h0M1309.0 1945.2h0M1104.9 1947.8h0M1252.0 1935.7h0M1152.6 1934.8h0M1238.0 1868.1h0M1181.6 1904.0h0M1105.7 1831.0h0M1098.1 1873.9h0M1099.0 1873.5h0M1253.8 1967.3h0M1148.3 1822.2h0M1211.1 1924.1h0M1133.0 1888.0h0M1116.1 1928.4h0M1273.4 1964.9h0M1199.6 1892.1h0M1176.9 1921.9h0M1305.5 1851.9h0M1298.2 1854.2h0M1302.1 1884.3h0M1243.2 1810.6h0M1108.1 1955.3h0M1209.3 1960.9h0M1254.3 1965.0h0M1242.1 1834.3h0M1175.1 1896.5h0M1270.6 1821.1h0M1228.8 1844.5h0M1205.8 1908.2h0M1261.1 1831.3h0M1231.7 1933.7h0M1285.9 1968.2h0M1224.0 1865.6h0M1179.2 1847.2h0M1227.8 1910.2h0M1203.3 1864.4h0M1167.8 1891.6h0M1186.1 1886.2h0M1180.1 1940.2h0M1100.5 1827.3h0M1218.6 1972.5h0M1120.0 1837.4h0M1136.5 1811.7h0M1158.3 1975.5h0M1160.9 1904.3h0M1144.5 1868.7h0M1150.3 1880.6h0M1142.7 1811.7h0M1308.0 1969.0h0M1160.1 1852.8h0M1294.9 1950.4h0M1131.8 1830.2h0M1217.4 1919.3h0M1191.4 1895.6h0M1187.9 1815.7h0M1286.2 1817.3h0M1087.5 1968.0h0M1248.6 1806.1h0M1268.7 1828.4h0M1151.7 1875.1h0M1227.3 1906.6h0M1253.0 1899.7h0M1283.6 1979.9h0M1175.1 1979.6h0M1206.8 1902.2h0M1167.6 1935.5h0M1209.8 1959.0h0M1175.6 1836.1h0M1268.8 1893.6h0M1260.5 1944.9h0M1227.7 1852.9h0M1156.8 1981.6h0M1199.0 1969.6h0M1173.9 1809.7h0M1253.8 1846.5h0M1225.8 1967.1h0M1198.9 1824.9h0M1147.2 1922.9h0M1190.4 1866.1h0M1235.8 1949.8h0M1087.9 1807.7h0M1275.6 1900.8h0M1153.4 1978.9h0M1216.9 1888.3h0M1228.1 1871.9h0M1157.8 1827.7h0M1133.9 1894.9h0M1131.0 1894.9h0M1294.1 1891.2h0M1194.8 1974.6h0M1235.1 1939.0h0M1314.9 1836.7h0M1140.5 1971.6h0M1110.3 1944.2h0M1238.8 1875.9h0M1135.5 1862.3h0M1219.0 1913.0h0M1143.6 1881.0h0M1195.3 1826.4h0M1138.4 1924.7h0M1314.7 1951.3h0M1297.9 1890.3h0M1201.9 1889.7h0M1282.9 1911.1h0M1195.9 1824.2h0M1149.3 1863.7h0M1199.4 1909.7h0M1170.3 1907.2h0M1184.9 1928.9h0M1108.2 1916.0h0M1140.2 1827.6h0M1206.7 1925.2h0M1122.4 1947.8h0M1277.7 1942.6h0M1119.0 1869.6h0M1228.3 1884.5h0M1267.9 1953.9h0M1302.6 1876.5h0M1268.0 1899.4h0M1188.8 1935.6h0M1222.4 1961.5h0M1299.2 1815.1h0M1290.8 1903.9h0M1298.6 1878.4h0M1178.2 1979.2h0M1102.5 1812.3h0M1264.9 1827.5h0M1210.5 1896.7h0M1164.9 1942.0h0M1297.6 1865.8h0M1300.4 1817.2h0M1087.6 1949.7h0M1296.2 1866.9h0M1090.4 1872.2h0M1207.5 1961.7h0M1225.6 1814.3h0M1198.0 1955.3h0M1148.8 1838.3h0M1203.3 1912.3h0M1287.7 1963.1h0M1262.4 1935.9h0M1102.2 1934.6h0M1245.5 1904.5h0M1277.3 1872.4h0M1160.6 1956.7h0M1241.3 1889.0h0M1205.4 1816.6h0M1159.1 1951.3h0M1201.9 1975.9h0M1250.4 1927.8h0M1255.7 1810.3h0M1143.1 1849.8h0M1296.3 1803.6h0M1196.2 1849.6h0M1301.0 1804.2h0M1120.2 1901.0h0M1099.8 1845.9h0M1203.9 1856.6h0M1132.6 1917.2h0M1248.7 1938.0h0M1244.5 1843.5h0M1223.3 1918.8h0M1136.9 1935.1h0M1172.3 1982.2h0M1112.7 1963.6h0M1163.0 1886.5h0M1264.6 1921.5h0M1149.9 1947.6h0M1239.7 1977.4h0M1216.7 1903.1h0M1301.1 1977.3h0M1112.1 1932.2h0M1315.4 1823.1h0M1173.8 1835.2h0M1173.1 1896.2h0M1298.2 1944.6h0M1217.4 1830.0h0M1176.7 1907.9h0M1234.4 1904.2h0M1120.5 1949.2h0M1212.1 1953.6h0M1194.0 1931.2h0M1281.3 1869.3h0M1180.6 1955.6h0M1191.5 1842.9h0M1267.9 1883.0h0M1225.2 1922.7h0M1119.4 1926.5h0M1282.8 1950.7h0M1113.2 1896.4h0M1096.8 1833.7h0M1086.0 1922.8h0M1289.1 1868.6h0M1306.8 1868.1h0M1310.7 1952.4h0M1180.7 1960.0h0M1280.6 1935.8h0M1248.1 1918.5h0M1159.9 1930.5h0M1178.9 1931.9h0M1139.2 1826.9h0M1184.5 1878.9h0M1118.9 1866.4h0M1215.8 1865.7h0M1159.7 1816.4h0M1103.2 1862.9h0M1193.2 1816.6h0M1152.9 1872.7h0M1255.6 1915.8h0M1200.7 1895.0h0M1259.3 1828.2h0M1197.3 1892.7h0M1223.0 1967.7h0M1287.6 1905.1h0M1213.6 1840.0h0M1314.2 1847.4h0M1119.0 1810.6h0M1149.7 1888.3h0M1101.3 1923.0h0M1102.2 1832.8h0M1268.9 1981.7h0M1214.5 1926.2h0M1269.8 1819.2h0M1293.3 1929.1h0M1255.2 1919.7h0M1262.8 1944.3h0M1245.6 1838.5h0M1176.7 1833.6h0M1311.2 1950.5h0M1171.4 1968.3h0M1167.5 1822.9h0M1118.6 1862.7h0M1188.5 1907.0h0M1151.3 1937.4h0M1262.9 1819.0h0M1097.4 1825.9h0M1295.5 1884.9h0M1300.9 1835.7h0M1270.6 1940.5h0M1123.9 1807.6h0M1254.5 1876.7h0M1300.0 1905.1h0M1140.3 1962.2h0M1249.7 1832.2h0M1113.5 1882.4h0M1317.2 1977.3h0M1189.0 1900.0h0M1283.1 1946.6h0M1149.2 1909.9h0M1284.9 1854.5h0M1221.1 1901.0h0M1313.3 1963.7h0M1222.9 1896.4h0M1126.5 1826.7h0M1112.5 1859.7h0M1299.1 1891.4h0M1139.8 1926.7h0M1266.9 1862.9h0M1202.3 1811.6h0M1245.5 1895.6h0M1292.6 1969.5h0M1262.6 1912.3h0M1284.6 1967.9h0M1129.4 1930.3h0M1168.8 1929.5h0M1117.6 1904.4h0M1165.0 1854.5h0M1150.8 1924.5h0M1099.0 1912.2h0M1152.5 1937.2h0M1169.8 1954.8h0M1234.0 1848.4h0M1276.5 1892.9h0M1265.5 1854.8h0M1225.0 1851.9h0M1146.7 1823.1h0M1210.9 1947.1h0M1115.8 1836.3h0M1196.8 1925.6h0M1204.9 1953.3h0M1257.1 1968.9h0M1251.2 1963.6h0M1185.5 1982.1h0M1162.4 1901.8h0M1096.6 1888.2h0M1291.1 1862.7h0M1101.2 1886.8h0M1178.7 1917.2h0M1198.3 1929.0h0M1307.7 1931.4h0M1219.2 1954.9h0M1220.8 1889.6h0M1163.2 1970.2h0M1178.6 1940.8h0M1158.4 1835.0h0M1114.2 1846.2h0M1283.0 1868.2h0M1187.5 1815.1h0M1214.2 1981.0h0M1293.1 1895.6h0M1284.9 1960.3h0M1271.3 1883.6h0M1272.3 1833.5h0M1229.4 1914.7h0M1179.4 1869.8h0M1306.6 1822.8h0M1157.7 1900.0h0M1086.0 1871.6h0M1257.9 1963.9h0M1160.9 1858.3h0M1217.5 1833.0h0M1279.8 1907.5h0M1302.7 1852.5h0M1309.4 1848.7h0M1159.9 1884.9h0M1236.6 1920.9h0M1154.8 1847.8h0M1255.2 1817.0h0M1111.4 1809.2h0M1218.0 1936.6h0M1107.7 1826.3h0M1176.7 1852.9h0M1240.1 1849.3h0M1109.5 1825.4h0M1208.9 1945.4h0M1106.1 1901.4h0M1148.8 1848.0h0M1301.9 1930.1h0M1251.0 1849.6h0M1242.6 1842.1h0M1308.0 1803.8h0M1190.3 1944.5h0M1240.1 1815.7h0M1169.8 1828.5h0M1218.6 1879.8h0M1196.1 1900.7h0M1114.3 1934.5h0M1270.5 1909.4h0M1297.2 1816.9h0M1110.0 1943.6h0M1235.8 1964.1h0M1289.7 1928.6h0M1257.5 1867.5h0M1184.7 1857.9h0M1179.9 1845.6h0M1147.4 1966.8h0M1204.4 1976.1h0M1156.4 1892.6h0M1169.4 1821.1h0M1210.9 1846.2h0M1216.5 1811.1h0M1239.7 1890.2h0M1206.2 1882.2h0M1097.0 1904.4h0M1284.9 1941.3h0M1109.1 1842.3h0M1213.2 1888.4h0M1280.6 1834.7h0M1141.2 1916.2h0M1125.9 1889.6h0M1195.4 1863.7h0M1216.6 1890.9h0M1288.0 1812.3h0M1164.9 1880.5h0M1246.2 1926.1h0M1181.4 1817.9h0M1136.3 1903.3h0M1141.5 1912.6h0M1270.4 1966.7h0M1275.5 1854.3h0M1105.5 1931.5h0M1318.1 1971.7h0M1296.9 1974.2h0M1186.2 1949.4h0M1101.3 1854.7h0M1191.8 1892.9h0M1159.0 1885.8h0M1292.2 1888.1h0M1121.3 1952.8h0M1307.9 1880.7h0M1187.4 1897.0h0M1175.5 1852.1h0M1195.5 1860.7h0M1138.5 1872.4h0M1222.0 1804.8h0M1293.7 1903.0h0M1100.4 1880.2h0M1264.1 1954.3h0M1298.8 1939.5h0M1203.1 1890.6h0M1207.7 1807.8h0M1090.1 1947.7h0M1175.9 1846.6h0M1315.4 1841.0h0" stroke="#d0f7ee" stroke-width="1.8"/>
</g>
</g>
<rect x="1236.3" y="1958.8" width="62.3" height="4.4" fill="#fff" stroke="none" stroke-width="1" />
</g>
<g id="panel-k">
<text x="1351" y="1560.4" font-size="24.5" text-anchor="start" font-weight="bold" fill="#000" >k</text>
<polyline points="1446.86,1622.14 1909.1,1622.14 1909.1,1693.9 1986.14,1693.9" fill="none" stroke="#0fbd78" stroke-width="2.8" stroke-linejoin="miter"/>
<polyline points="1446.86,1622.14 1832.06,1622.14 1832.06,1702.95 1870.58,1702.95 1870.58,1783.75 1909.1,1783.75 1909.1,1864.55 1947.62,1864.55 1947.62,1945.36" fill="none" stroke="#5c57f5" stroke-width="2.8" stroke-linejoin="miter"/>
<polyline points="1446.86,1622.14 1639.46,1622.14 1639.46,1668.36 1755.02,1668.36 1755.02,1714.58 1832.06,1714.58 1832.06,1760.8 1870.58,1760.8 1870.58,1852.92 1909.1,1852.92 1909.1,1873.6" fill="none" stroke="#ff8000" stroke-width="2.8" stroke-linejoin="miter"/>
<polyline points="1446.86,1622.14 1716.5,1622.14 1716.5,1658.02 1755.02,1658.02 1755.02,1693.9 1832.06,1693.9 1832.06,1801.85 1870.58,1801.85 1870.58,1837.73" fill="none" stroke="#a311e0" stroke-width="2.8" stroke-linejoin="miter"/>
<polyline points="1446.86,1622.14 1677.98,1622.14 1677.98,1658.02 1755.02,1658.02 1755.02,1729.77 1832.06,1729.77 1832.06,1837.73 1870.58,1837.73 1870.58,1873.6 1909.1,1873.6 1909.1,1945.36" fill="none" stroke="#5e5e5e" stroke-width="2.8" stroke-linejoin="miter"/>
<rect x="1904.8" y="1689.6" width="8.6" height="8.6" fill="#167a50"/>
<rect x="1981.84" y="1689.6" width="8.6" height="8.6" fill="#167a50"/>
<rect x="1827.76" y="1698.65" width="8.6" height="8.6" fill="#0c0c8c"/>
<rect x="1866.28" y="1779.45" width="8.6" height="8.6" fill="#0c0c8c"/>
<rect x="1904.8" y="1860.25" width="8.6" height="8.6" fill="#0c0c8c"/>
<rect x="1943.32" y="1941.06" width="8.6" height="8.6" fill="#0c0c8c"/>
<rect x="1635.16" y="1664.06" width="8.6" height="8.6" fill="#c4650f"/>
<rect x="1750.72" y="1710.28" width="8.6" height="8.6" fill="#c4650f"/>
<rect x="1827.76" y="1756.5" width="8.6" height="8.6" fill="#c4650f"/>
<rect x="1866.28" y="1848.62" width="8.6" height="8.6" fill="#c4650f"/>
<rect x="1712.2" y="1653.72" width="8.6" height="8.6" fill="#7d0fa3"/>
<rect x="1750.72" y="1689.6" width="8.6" height="8.6" fill="#7d0fa3"/>
<rect x="1827.76" y="1797.55" width="8.6" height="8.6" fill="#7d0fa3"/>
<rect x="1673.68" y="1653.72" width="8.6" height="8.6" fill="#3c3c3c"/>
<rect x="1750.72" y="1725.47" width="8.6" height="8.6" fill="#3c3c3c"/>
<rect x="1827.76" y="1833.43" width="8.6" height="8.6" fill="#3c3c3c"/>
<rect x="1866.28" y="1869.3" width="8.6" height="8.6" fill="#3c3c3c"/>
<rect x="1904.8" y="1941.06" width="8.6" height="8.6" fill="#3c3c3c"/>
<rect x="1446.86" y="1588.93" width="539.29" height="356.43" fill="none" stroke="#000" stroke-width="2.9" />
<path d="M1446.86 1945.36V1952.36M1466.12 1945.36V1949.36M1485.38 1945.36V1949.36M1504.64 1945.36V1949.36M1523.9 1945.36V1952.36M1543.16 1945.36V1949.36M1562.42 1945.36V1949.36M1581.68 1945.36V1949.36M1600.94 1945.36V1952.36M1620.2 1945.36V1949.36M1639.46 1945.36V1949.36M1658.72 1945.36V1949.36M1677.98 1945.36V1952.36M1697.24 1945.36V1949.36M1716.5 1945.36V1949.36M1735.76 1945.36V1949.36M1755.02 1945.36V1952.36M1774.28 1945.36V1949.36M1793.54 1945.36V1949.36M1812.8 1945.36V1949.36M1832.06 1945.36V1952.36M1851.32 1945.36V1949.36M1870.58 1945.36V1949.36M1889.84 1945.36V1949.36M1909.1 1945.36V1952.36M1928.36 1945.36V1949.36M1947.62 1945.36V1949.36M1966.88 1945.36V1949.36M1986.14 1945.36V1952.36M1439.86 1945.36H1446.86M1442.86 1913.04H1446.86M1439.86 1880.71H1446.86M1442.86 1848.39H1446.86M1439.86 1816.07H1446.86M1442.86 1783.75H1446.86M1439.86 1751.43H1446.86M1442.86 1719.11H1446.86M1439.86 1686.79H1446.86M1442.86 1654.46H1446.86M1439.86 1622.14H1446.86" stroke="#000" stroke-width="2.5" fill="none"/>
<text x="1439.8" y="1961.06" font-size="26" text-anchor="end" fill="#000" transform="translate(1439.8 1961.06) scale(0.96 1) translate(-1439.8 -1961.06)" >0</text>
<text x="1439.8" y="1896.41" font-size="26" text-anchor="end" fill="#000" transform="translate(1439.8 1896.41) scale(0.96 1) translate(-1439.8 -1896.41)" >20</text>
<text x="1439.8" y="1831.77" font-size="26" text-anchor="end" fill="#000" transform="translate(1439.8 1831.77) scale(0.96 1) translate(-1439.8 -1831.77)" >40</text>
<text x="1439.8" y="1767.13" font-size="26" text-anchor="end" fill="#000" transform="translate(1439.8 1767.13) scale(0.96 1) translate(-1439.8 -1767.13)" >60</text>
<text x="1439.8" y="1702.49" font-size="26" text-anchor="end" fill="#000" transform="translate(1439.8 1702.49) scale(0.96 1) translate(-1439.8 -1702.49)" >80</text>
<text x="1439.8" y="1637.84" font-size="26" text-anchor="end" fill="#000" transform="translate(1439.8 1637.84) scale(0.96 1) translate(-1439.8 -1637.84)" >100</text>
<text x="1451.5" y="1987.9" font-size="26" text-anchor="middle" fill="#000" >4</text>
<text x="1528.29" y="1987.9" font-size="26" text-anchor="middle" fill="#000" >8</text>
<text x="1603.29" y="1987.9" font-size="26" text-anchor="middle" fill="#000" >12</text>
<text x="1681.14" y="1987.9" font-size="26" text-anchor="middle" fill="#000" >16</text>
<text x="1754" y="1987.9" font-size="26" text-anchor="middle" fill="#000" >20</text>
<text x="1829" y="1987.9" font-size="26" text-anchor="middle" fill="#000" >24</text>
<text x="1906.86" y="1987.9" font-size="26" text-anchor="middle" fill="#000" >28</text>
<text x="1976.5" y="1987.9" font-size="26" text-anchor="middle" fill="#000" >32</text>
<text x="1737.2" y="2023.5" font-size="26" text-anchor="middle" fill="#000" >Time (d)</text>
<text x="1383.6" y="1772.9" font-size="26" text-anchor="middle" fill="#000" transform="rotate(-90 1383.6 1772.9)" >Survival (%)</text>
<line x1="1491.5" y1="1743.57" x2="1509.71" y2="1743.57" stroke="#5e5e5e" stroke-width="2.6" />
<rect x="1496.13" y="1739.27" width="8.6" height="8.6" fill="#3c3c3c"/>
<text x="1523.71" y="1748.57" font-size="26" text-anchor="start" fill="#000" >PBS</text>
<line x1="1491.5" y1="1780" x2="1509.71" y2="1780" stroke="#a311e0" stroke-width="2.6" />
<rect x="1496.13" y="1775.7" width="8.6" height="8.6" fill="#7d0fa3"/>
<text x="1523.71" y="1786.43" font-size="26" text-anchor="start" fill="#000" >UNC2025</text>
<line x1="1491.5" y1="1816.79" x2="1509.71" y2="1816.79" stroke="#ff8000" stroke-width="2.6" />
<rect x="1496.13" y="1812.49" width="8.6" height="8.6" fill="#c4650f"/>
<text x="1523.71" y="1823.57" font-size="26" text-anchor="start" fill="#000" >OMVs</text>
<line x1="1491.5" y1="1854.29" x2="1509.71" y2="1854.29" stroke="#5c57f5" stroke-width="2.6" />
<rect x="1496.13" y="1849.99" width="8.6" height="8.6" fill="#0c0c8c"/>
<text x="1523.71" y="1861.07" font-size="26" text-anchor="start" fill="#000" >U@OMVs</text>
<line x1="1491.5" y1="1890" x2="1509.71" y2="1890" stroke="#0fbd78" stroke-width="2.6" />
<rect x="1496.13" y="1885.7" width="8.6" height="8.6" fill="#167a50"/>
<text x="1523.71" y="1897.86" font-size="26" text-anchor="start" fill="#000" >mU@OMVs</text>
</g>
</svg></body></html>
